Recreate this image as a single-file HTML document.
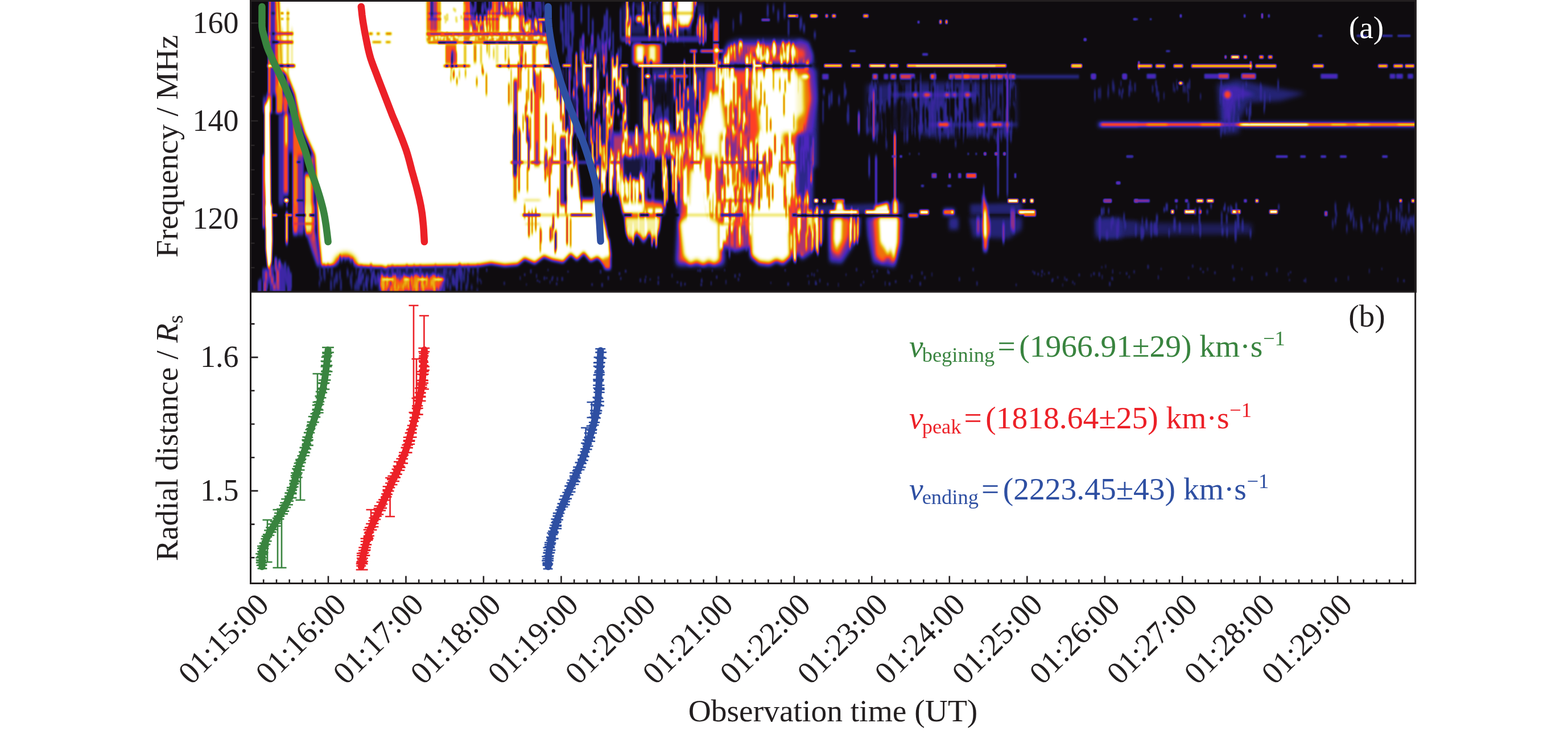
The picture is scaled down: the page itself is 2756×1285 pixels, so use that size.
<!DOCTYPE html>
<html lang="en"><head><meta charset="utf-8"><title>Radio burst spectrogram and radial distance</title>
<style>
html,body{margin:0;padding:0;background:#fff;}
body{width:2756px;height:1285px;overflow:hidden;}
svg{display:block;}
</style></head>
<body>
<svg width="2756" height="1285" viewBox="0 0 2756 1285">
<rect width="2756" height="1285" fill="#fff"/>
<defs>
<clipPath id="pc"><rect x="440.5" y="1.5" width="2047.2" height="511.5"/></clipPath>
<filter id="cm" filterUnits="userSpaceOnUse" x="400.5" y="-38.5" width="2127.2" height="591.5" color-interpolation-filters="sRGB"><feComponentTransfer><feFuncR type="table" tableValues="0.06 0.15 0.3 0.6 1.0 0.92 0.92 0.95 1.0"/><feFuncG type="table" tableValues="0.05 0.15 0.15 0.2 0.25 0.5 0.75 0.92 1.0"/><feFuncB type="table" tableValues="0.06 0.5 0.75 0.5 0.15 0.02 0.1 0.5 1.0"/></feComponentTransfer></filter>
<filter id="b0_8x1_5" filterUnits="userSpaceOnUse" x="400.5" y="-38.5" width="2127.2" height="591.5" color-interpolation-filters="sRGB"><feGaussianBlur stdDeviation="0.8 1.5"/></filter>
<filter id="b0_9x3" filterUnits="userSpaceOnUse" x="400.5" y="-38.5" width="2127.2" height="591.5" color-interpolation-filters="sRGB"><feGaussianBlur stdDeviation="0.9 3"/></filter>
<filter id="b1x1" filterUnits="userSpaceOnUse" x="400.5" y="-38.5" width="2127.2" height="591.5" color-interpolation-filters="sRGB"><feGaussianBlur stdDeviation="1 1"/></filter>
<filter id="b1x1_5" filterUnits="userSpaceOnUse" x="400.5" y="-38.5" width="2127.2" height="591.5" color-interpolation-filters="sRGB"><feGaussianBlur stdDeviation="1 1.5"/></filter>
<filter id="b1x2" filterUnits="userSpaceOnUse" x="400.5" y="-38.5" width="2127.2" height="591.5" color-interpolation-filters="sRGB"><feGaussianBlur stdDeviation="1 2"/></filter>
<filter id="b1x3" filterUnits="userSpaceOnUse" x="400.5" y="-38.5" width="2127.2" height="591.5" color-interpolation-filters="sRGB"><feGaussianBlur stdDeviation="1 3"/></filter>
<filter id="b1x4" filterUnits="userSpaceOnUse" x="400.5" y="-38.5" width="2127.2" height="591.5" color-interpolation-filters="sRGB"><feGaussianBlur stdDeviation="1 4"/></filter>
<filter id="b1_2x1_2" filterUnits="userSpaceOnUse" x="400.5" y="-38.5" width="2127.2" height="591.5" color-interpolation-filters="sRGB"><feGaussianBlur stdDeviation="1.2 1.2"/></filter>
<filter id="b1_2x3" filterUnits="userSpaceOnUse" x="400.5" y="-38.5" width="2127.2" height="591.5" color-interpolation-filters="sRGB"><feGaussianBlur stdDeviation="1.2 3"/></filter>
<filter id="b1_2x4" filterUnits="userSpaceOnUse" x="400.5" y="-38.5" width="2127.2" height="591.5" color-interpolation-filters="sRGB"><feGaussianBlur stdDeviation="1.2 4"/></filter>
<filter id="b1_3x3_5" filterUnits="userSpaceOnUse" x="400.5" y="-38.5" width="2127.2" height="591.5" color-interpolation-filters="sRGB"><feGaussianBlur stdDeviation="1.3 3.5"/></filter>
<filter id="b1_3x4" filterUnits="userSpaceOnUse" x="400.5" y="-38.5" width="2127.2" height="591.5" color-interpolation-filters="sRGB"><feGaussianBlur stdDeviation="1.3 4"/></filter>
<filter id="b1_5x1_5" filterUnits="userSpaceOnUse" x="400.5" y="-38.5" width="2127.2" height="591.5" color-interpolation-filters="sRGB"><feGaussianBlur stdDeviation="1.5 1.5"/></filter>
<filter id="b1_5x2" filterUnits="userSpaceOnUse" x="400.5" y="-38.5" width="2127.2" height="591.5" color-interpolation-filters="sRGB"><feGaussianBlur stdDeviation="1.5 2"/></filter>
<filter id="b1_5x3" filterUnits="userSpaceOnUse" x="400.5" y="-38.5" width="2127.2" height="591.5" color-interpolation-filters="sRGB"><feGaussianBlur stdDeviation="1.5 3"/></filter>
<filter id="b1_5x4" filterUnits="userSpaceOnUse" x="400.5" y="-38.5" width="2127.2" height="591.5" color-interpolation-filters="sRGB"><feGaussianBlur stdDeviation="1.5 4"/></filter>
<filter id="b2x1_2" filterUnits="userSpaceOnUse" x="400.5" y="-38.5" width="2127.2" height="591.5" color-interpolation-filters="sRGB"><feGaussianBlur stdDeviation="2 1.2"/></filter>
<filter id="b2x1_3" filterUnits="userSpaceOnUse" x="400.5" y="-38.5" width="2127.2" height="591.5" color-interpolation-filters="sRGB"><feGaussianBlur stdDeviation="2 1.3"/></filter>
<filter id="b2x1_5" filterUnits="userSpaceOnUse" x="400.5" y="-38.5" width="2127.2" height="591.5" color-interpolation-filters="sRGB"><feGaussianBlur stdDeviation="2 1.5"/></filter>
<filter id="b2x2" filterUnits="userSpaceOnUse" x="400.5" y="-38.5" width="2127.2" height="591.5" color-interpolation-filters="sRGB"><feGaussianBlur stdDeviation="2 2"/></filter>
<filter id="b2x3" filterUnits="userSpaceOnUse" x="400.5" y="-38.5" width="2127.2" height="591.5" color-interpolation-filters="sRGB"><feGaussianBlur stdDeviation="2 3"/></filter>
<filter id="b2x3_5" filterUnits="userSpaceOnUse" x="400.5" y="-38.5" width="2127.2" height="591.5" color-interpolation-filters="sRGB"><feGaussianBlur stdDeviation="2 3.5"/></filter>
<filter id="b2x4" filterUnits="userSpaceOnUse" x="400.5" y="-38.5" width="2127.2" height="591.5" color-interpolation-filters="sRGB"><feGaussianBlur stdDeviation="2 4"/></filter>
<filter id="b2x5" filterUnits="userSpaceOnUse" x="400.5" y="-38.5" width="2127.2" height="591.5" color-interpolation-filters="sRGB"><feGaussianBlur stdDeviation="2 5"/></filter>
<filter id="b2_5x3" filterUnits="userSpaceOnUse" x="400.5" y="-38.5" width="2127.2" height="591.5" color-interpolation-filters="sRGB"><feGaussianBlur stdDeviation="2.5 3"/></filter>
<filter id="b3x3" filterUnits="userSpaceOnUse" x="400.5" y="-38.5" width="2127.2" height="591.5" color-interpolation-filters="sRGB"><feGaussianBlur stdDeviation="3 3"/></filter>
<filter id="b3x4" filterUnits="userSpaceOnUse" x="400.5" y="-38.5" width="2127.2" height="591.5" color-interpolation-filters="sRGB"><feGaussianBlur stdDeviation="3 4"/></filter>
<filter id="b3x5" filterUnits="userSpaceOnUse" x="400.5" y="-38.5" width="2127.2" height="591.5" color-interpolation-filters="sRGB"><feGaussianBlur stdDeviation="3 5"/></filter>
<filter id="b4x4" filterUnits="userSpaceOnUse" x="400.5" y="-38.5" width="2127.2" height="591.5" color-interpolation-filters="sRGB"><feGaussianBlur stdDeviation="4 4"/></filter>
<filter id="b4x5" filterUnits="userSpaceOnUse" x="400.5" y="-38.5" width="2127.2" height="591.5" color-interpolation-filters="sRGB"><feGaussianBlur stdDeviation="4 5"/></filter>
<filter id="b4x6" filterUnits="userSpaceOnUse" x="400.5" y="-38.5" width="2127.2" height="591.5" color-interpolation-filters="sRGB"><feGaussianBlur stdDeviation="4 6"/></filter>
<filter id="b4x7" filterUnits="userSpaceOnUse" x="400.5" y="-38.5" width="2127.2" height="591.5" color-interpolation-filters="sRGB"><feGaussianBlur stdDeviation="4 7"/></filter>
<filter id="b6x8" filterUnits="userSpaceOnUse" x="400.5" y="-38.5" width="2127.2" height="591.5" color-interpolation-filters="sRGB"><feGaussianBlur stdDeviation="6 8"/></filter>
</defs>
<g clip-path="url(#pc)"><g filter="url(#cm)">
<rect x="400.5" y="-38.5" width="2127.2" height="591.5" fill="#000"/>
<g filter="url(#b2x3_5)">
<polygon points="488.5,-30 750,-30 752,72 845,78 961,78 965,112 975,125 985,140 1000,186 1019,233 1035,280 1049,333 1060,380 1072,430 1073,466 1062,462 1050,452 1038,458 1026,444 1014,456 1003,446 990,460 970,456 956,450 940,462 922,454 910,464 887,466 863,462 840,466 683,469 678,473 672,469 633,467 590,466 565,467 560,415 555,300 553,273 535,233 525,200 518,166 505,133 494,120 492,60" fill="#ffffff"/>
</g>
<g filter="url(#b4x7)">
<ellipse cx="606.9" cy="468.7" rx="19.4" ry="18.6" fill="#000000"/>
</g>
<g filter="url(#b1_2x3)">
<path d="M602.8 454.6h2.2v14.6h-2.2zM596.9 449.6h1.9v19.7h-1.9zM597.3 457.6h1.6v14.5h-1.6zM608.3 458.1h2.8v13.1h-2.8zM611.8 453.9h1.8v18.2h-1.8zM618.4 456.2h1.8v17.4h-1.8z" fill="#000000"/>
</g>
<g filter="url(#b0_9x3)">
<polygon points="484.8,-10 488.1,-10 495.3,116.6 495.3,200 488.6,200 488.6,116.6" fill="#cccccc"/>
<polygon points="482.6,-10 485,-10 488.3,116.6 488.3,200 483.3,200 483.3,116.6" fill="#808080"/>
<polygon points="476.6,-10 482.6,-10 483.3,116.6 483.3,200 476,200 476,116.6" fill="#383838"/>
<polygon points="472.8,-10 476.1,-10 475.6,116.6 475.6,166.5 471,166.5 471,116.6" fill="#949494"/>
</g>
<g filter="url(#b1_5x4)">
<rect x="504.3" y="20" width="3" height="163.2" fill="#a6a6a6" fill-opacity="0.80"/>
<rect x="494.6" y="50" width="2.3" height="133.2" fill="#b2b2b2" fill-opacity="0.70"/>
<rect x="512.1" y="50" width="2.3" height="66.6" fill="#bfbfbf" fill-opacity="0.60"/>
<rect x="470.8" y="166.5" width="19.2" height="33.5" fill="#000000"/>
<rect x="462.5" y="171.5" width="5" height="28.5" fill="#404040"/>
<rect x="469.1" y="166.5" width="8.3" height="33.5" fill="#999999"/>
<rect x="478.6" y="176.5" width="6" height="23.5" fill="#000000"/>
<rect x="485.8" y="149.9" width="10" height="50.1" fill="#a6a6a6"/>
<rect x="497.5" y="166.5" width="8.3" height="33.5" fill="#808080"/>
</g>
<g filter="url(#b1_5x1_5)">
<rect x="472.5" y="56.6" width="42.5" height="5" fill="#595959"/>
<rect x="472.5" y="71.6" width="42.5" height="5" fill="#595959"/>
<rect x="477.5" y="56.6" width="5.8" height="5" fill="#000000"/>
<rect x="477.5" y="71.6" width="12.5" height="5" fill="#000000"/>
<rect x="477" y="20.8" width="6" height="5" fill="#0d0d0d"/>
</g>
<g filter="url(#b1x1)">
<path d="M493.3 21.3h5v4h-5zM504.1 21.3h4.2v4h-4.2z" fill="#999999"/>
<path d="M493.3 31.3h5v4h-5zM504.1 31.3h4.2v4h-4.2z" fill="#b2b2b2"/>
</g>
<g filter="url(#b1_5x1_5)">
<rect x="470.8" y="113.4" width="16.7" height="4.7" fill="#ffffff"/>
<rect x="488.3" y="113.2" width="30" height="5" fill="#333333"/>
</g>
<g filter="url(#b1x1)">
<path d="M491.6 114.2h6.7v3h-6.7zM504.1 114.2h5v3h-5z" fill="#000000"/>
</g>
<g filter="url(#b1_5x3)">
<rect x="440" y="200" width="74.9" height="200" fill="#000000"/>
</g>
<g filter="url(#b1x3)">
<rect x="461.8" y="273.3" width="3" height="126.7" fill="#8c8c8c"/>
</g>
<g filter="url(#b1_2x3)">
<polygon points="465,185 474.1,171.7 476.6,400 467.5,400 465,316.6" fill="#ffffff"/>
</g>
<g filter="url(#b1_5x4)">
<rect x="490" y="200" width="8.3" height="200" fill="#333333"/>
<rect x="498.3" y="200" width="8.3" height="141.5" fill="#808080"/>
<rect x="501.4" y="200" width="3.7" height="55" fill="#f2f2f2"/>
<rect x="507.4" y="200" width="6.7" height="66.6" fill="#404040"/>
<rect x="514.9" y="273.3" width="8.3" height="126.7" fill="#9e9e9e"/>
<rect x="523.3" y="273.3" width="10" height="126.7" fill="#4c4c4c"/>
<rect x="535.8" y="306.6" width="11.7" height="93.4" fill="#d9d9d9"/>
<rect x="546.6" y="273.3" width="5" height="126.7" fill="#999999" fill-opacity="0.80"/>
<polygon points="514.9,200 526.6,200 533.3,273.3 514.9,273.3" fill="#b2b2b2" fill-opacity="0.80"/>
</g>
<g filter="url(#b1_2x1_2)">
<ellipse cx="503.3" cy="352.4" rx="3.7" ry="3.7" fill="#ffffff"/>
</g>
<g filter="url(#b1_2x3)">
<rect x="503.1" y="354.9" width="2" height="45.1" fill="#e6e6e6"/>
</g>
<g filter="url(#b1_2x1_2)">
<path d="M519.9 375.9h18.3v4.5h-18.3zM543.2 375.9h10v4.5h-10z" fill="#000000"/>
<path d="M478.3 376.2h8.3v4h-8.3z" fill="#999999"/>
<path d="M521.6 350.4h11.7v4h-11.7z" fill="#0d0d0d"/>
<path d="M521.6 282.9h6.7v4h-6.7z" fill="#0d0d0d"/>
</g>
<g filter="url(#b2x4)">
<polygon points="478.8,360 514.5,360 514.5,411.2 528.5,411.2 540.9,428.3 551.8,447 560.3,467.1 478.8,473.4" fill="#000000"/>
</g>
<g filter="url(#b1_2x3)">
<polygon points="466.4,360 478,360 478.8,422.1 477.3,460.9 473.4,474.9 470.3,468.7 467.2,437.6" fill="#ffffff"/>
</g>
<g filter="url(#b1_2x4)">
<rect x="502.3" y="375.5" width="3.4" height="51.2" fill="#f2f2f2"/>
</g>
<g filter="url(#b1_5x4)">
<rect x="515.3" y="360" width="7.8" height="51.2" fill="#8c8c8c"/>
<rect x="523.9" y="360" width="9.3" height="51.2" fill="#4c4c4c"/>
<rect x="537" y="360" width="10.9" height="51.2" fill="#e0e0e0"/>
<rect x="548.7" y="360" width="4.7" height="62.1" fill="#999999" fill-opacity="0.80"/>
</g>
<g filter="url(#b2x4)">
<polygon points="539.4,411.2 554.9,411.2 562.7,467.1 558,467.1 548.7,440.7" fill="#808080" fill-opacity="0.80"/>
</g>
<g filter="url(#b1_2x1_2)">
<path d="M519.2 376.1h17.1v4.5h-17.1zM544 376.1h9.3v4.5h-9.3z" fill="#000000"/>
<path d="M478.8 376.3h7.8v4h-7.8zM502.1 376.3h10.9v4h-10.9z" fill="#b2b2b2"/>
</g>
<g filter="url(#b1_5x1_5)">
<rect x="516.1" y="391.4" width="37.3" height="4" fill="#666666" fill-opacity="0.70"/>
</g>
<g filter="url(#b0_9x3)">
<path d="M468 482.6h3.2v25.1h-3.2zM491.5 461.9h2v30.9h-2zM468.2 472.8h5.2v21.8h-5.2zM502.9 485.8h4v13.8h-4zM491.2 493h3.7v28.5h-3.7zM492.9 464.9h4.4v24.8h-4.4zM504.5 476.5h4.3v32h-4.3zM496 494.2h3.2v30h-3.2zM479.4 503.6h4.8v12.4h-4.8zM461 472.5h5.1v20.9h-5.1zM490.7 476.3h3.6v19.6h-3.6zM474.3 480.4h3.8v32.6h-3.8zM493.4 492.1h4.7v34.8h-4.7zM492.8 463.9h4.7v34.1h-4.7zM506.8 488.5h4.3v15.3h-4.3zM503.2 490.5h2.9v11.6h-2.9zM504.8 496.8h2.2v30h-2.2zM478.3 465.9h2.9v29.2h-2.9zM505.1 471h3.9v11.1h-3.9zM495.5 470h4.8v34.5h-4.8zM483.9 506.2h3v11.9h-3zM465.2 483.2h3.9v13.9h-3.9zM456.5 490.3h3v34h-3zM506.7 477.5h3.4v23h-3.4zM491.6 484.4h3.8v25.5h-3.8zM509.4 479.8h3.4v28h-3.4zM467 474.6h5.1v23h-5.1zM479 483.8h2v25.4h-2zM490.8 466.3h4v21.7h-4zM493.5 473.8h4.2v28.5h-4.2zM494 500.1h2.8v21.4h-2.8zM488.9 477.9h3.1v17.8h-3.1zM475.8 487.4h2.9v19.4h-2.9zM499.2 461.7h3.8v28.4h-3.8zM471.5 475.2h4.6v16h-4.6zM464.5 484.9h4.2v12.5h-4.2zM472.2 476.9h4.7v21h-4.7zM504.5 468.1h3v26.3h-3zM506.4 485.2h2.7v13h-2.7zM484.5 466.5h4.6v31h-4.6zM464.1 472.3h4.6v26h-4.6zM501.9 479.1h2.4v17.3h-2.4zM500.8 474.8h3.1v20.4h-3.1zM477.8 483.2h4.9v13.9h-4.9zM453.4 492.7h4.8v34.7h-4.8zM478.7 502.5h5v15.6h-5zM497.5 494.6h4.1v23h-4.1zM471.2 481.8h2.7v11.7h-2.7zM488 480h4.6v11.1h-4.6zM506.4 484.6h5v32.4h-5zM507.6 482.1h2v28.6h-2z" fill="#404040" fill-opacity="0.80"/>
<path d="M485.9 493.2h5.3v14.4h-5.3zM462.9 494.8h5.5v26.1h-5.5zM482.8 453.3h3.9v22.5h-3.9zM479.7 497.7h5.6v11.7h-5.6zM476.1 486h4.5v13.6h-4.5zM486.8 496.2h4.6v16h-4.6zM485.4 473.5h5.6v27h-5.6zM472.8 468.3h4.8v18.6h-4.8zM465.6 476.3h4.4v16.9h-4.4zM489 457.7h4.2v14.1h-4.2z" fill="#808080" fill-opacity="0.80"/>
<path d="M625.1 491.4h3.6v19.2h-3.6zM638.2 502.5h2.1v12.5h-2.1zM658.8 493.1h3.8v7.6h-3.8zM609.1 472.4h3.1v14h-3.1zM561.2 468.7h2.6v18.8h-2.6zM640.2 471.7h3.6v7.9h-3.6zM625.3 465.1h2v18.2h-2zM581.3 469h4v18.2h-4zM616.8 488.6h2.4v19.2h-2.4zM654.1 477.5h2.7v8.3h-2.7zM575.2 464.3h2.6v14.4h-2.6zM560.1 493h2.7v10.3h-2.7zM646.2 483.2h2.6v12.7h-2.6zM633.5 468h4v6.3h-4zM639.3 496.9h2v17h-2zM598.8 490.5h2v6.7h-2zM579.9 492h3.9v19.2h-3.9zM596 475.7h3v16.9h-3zM644.3 496.5h2.1v19.2h-2.1zM569.1 474.1h3.2v18.9h-3.2zM617.4 478h2.6v8.5h-2.6zM567.7 465.2h3.4v20h-3.4zM663.9 487.2h2.8v9.3h-2.8zM622.4 498.7h2.9v11.9h-2.9zM562.7 486.2h3.7v7.8h-3.7zM626.6 496.9h2.2v12.1h-2.2zM590.2 479.4h4v17.9h-4zM662.7 480.3h3v16.2h-3zM610.3 477.3h2.8v8.1h-2.8zM661 490.6h3v10.7h-3zM568.7 471.5h3.6v18.1h-3.6zM597.5 495h3.5v15.7h-3.5zM629.9 493.8h2.7v15.9h-2.7zM589 482h3.5v15.7h-3.5zM628.7 487.1h2v13.7h-2zM586.1 489.2h2.9v17.4h-2.9zM628.1 495.9h2.7v15h-2.7zM637.7 495.8h2.7v17.8h-2.7zM651 488.9h4v19.4h-4zM614.7 482.9h2.3v17.7h-2.3z" fill="#333333" fill-opacity="0.60"/>
<path d="M657.8 488.7h3v11.1h-3zM629.5 480.7h2.9v17.1h-2.9zM643 483.8h2.5v17.6h-2.5zM655.5 473.5h3.1v16.2h-3.1zM636.1 480.3h3.6v11.2h-3.6zM657.8 484h3.7v12h-3.7zM632.5 486.9h3.6v13.3h-3.6zM632.7 469.1h3.3v11.5h-3.3zM663.8 479h2.4v15.9h-2.4zM642 490.6h3.8v14.2h-3.8zM652.2 480.5h3.6v19.7h-3.6zM630.4 474.1h3.2v11.7h-3.2zM650.2 464.3h3.8v14.3h-3.8zM633.9 484.1h2.6v10.4h-2.6z" fill="#404040" fill-opacity="0.70"/>
</g>
<g filter="url(#b3x4)">
<polygon points="666.7,471.8 797.1,471 797.1,487.3 781.6,512.2 666.7,512.2" fill="#1a1a1a" fill-opacity="0.70"/>
<polygon points="666.7,487.3 781.6,487.3 773.9,513 669.8,513" fill="#8c8c8c"/>
</g>
<g filter="url(#b0_9x3)">
<path d="M702.2 502.4h2.3v16.5h-2.3zM678.5 476.5h4v10.5h-4zM768.9 483.4h2.9v13.9h-2.9zM696.7 499.9h2.2v10.8h-2.2zM668.5 473.2h2.8v18.8h-2.8zM726.7 466.4h2.5v19.9h-2.5zM675.5 488.9h2.8v15.9h-2.8zM719.9 491.8h3v15.8h-3zM687.7 467.5h3.9v13.9h-3.9zM696.4 501.6h3.2v16.7h-3.2zM807.6 474.1h2.7v18.5h-2.7zM687.4 494.5h2.2v16.3h-2.2zM778.3 503.1h3.7v14h-3.7zM697.1 470.8h3.1v14.1h-3.1zM676.7 500.1h3v16.4h-3zM701.2 475.6h2v12.1h-2zM708.4 479.9h2.8v18h-2.8zM809.3 473.9h2.8v10h-2.8zM772.6 502.6h2.4v17.2h-2.4zM713.4 466.3h3.5v12.1h-3.5zM693 482.9h2.5v12.9h-2.5zM737.2 482.9h3.2v11.5h-3.2zM681 468.1h2.2v14.3h-2.2zM723.4 496.2h3v16.5h-3zM824 469.5h2v9.7h-2zM727.4 488.9h3.5v12.2h-3.5zM820.7 466.7h3.7v10.5h-3.7zM806.1 464.6h3.9v17.1h-3.9zM694 506.5h2.9v9h-2.9zM763 486.9h2.9v9.9h-2.9zM685 490.5h2.9v9.5h-2.9zM736 494.3h3.4v13.7h-3.4zM729.1 481.2h2.5v10.4h-2.5zM737 467.9h3.5v16.5h-3.5zM764.1 466.1h2.7v13.2h-2.7zM680 503.9h3.5v14h-3.5zM779.4 472.7h2.5v14.3h-2.5zM785.8 490.3h2v15.4h-2zM701.3 473.9h3.1v19.7h-3.1zM724.5 502.7h3.7v14.2h-3.7zM765.9 504.7h3.6v11.5h-3.6zM801.9 470h2.7v19.5h-2.7zM802.2 476.7h2.6v15.4h-2.6zM800.9 491.1h3.9v16.7h-3.9zM797.9 489.7h2.7v13.1h-2.7zM744 487.5h3.7v11.2h-3.7zM676.5 494.9h2.5v13h-2.5zM684.3 499.5h2.5v11.5h-2.5zM795.3 482.8h2.6v18.7h-2.6zM731.2 477.6h3.9v17.5h-3.9z" fill="#404040" fill-opacity="0.70"/>
<path d="M716.9 488.8h2.2v17.5h-2.2zM668.6 496.1h3.7v8.9h-3.7zM726.5 497.2h2v12.2h-2zM741.3 494.5h3.4v9.7h-3.4zM693.1 482.4h2.9v18.2h-2.9zM729.9 498.8h2.7v16.2h-2.7zM678.8 487.7h3.3v16h-3.3zM712.5 485.8h2.5v10.3h-2.5zM697.9 498.9h2.3v17.8h-2.3zM760 483.5h2.7v13.4h-2.7zM670.4 494.2h3.7v9.2h-3.7zM730.4 482.8h3.1v17.8h-3.1zM689.9 482.1h2.1v13.9h-2.1zM670.2 481.8h2.9v18.1h-2.9zM711.9 493.6h3.2v9h-3.2zM728.6 483.6h3.1v18.5h-3.1zM673.9 497h3.1v9.6h-3.1zM695.8 507.4h3.9v9.3h-3.9zM742 503.7h2.4v14.7h-2.4zM672.7 490.2h3.3v14.5h-3.3zM749.1 482.2h2.6v17.5h-2.6zM729.2 490h2.7v18.8h-2.7zM727.8 483.5h3.5v11.6h-3.5zM713.5 488.1h2.8v11.6h-2.8zM678 495.2h2.2v16.6h-2.2zM670.7 500.3h3.5v13.5h-3.5zM741.9 488.3h3.4v12.7h-3.4zM692.5 505.3h2.7v12.1h-2.7zM757.6 492.5h3.3v9.9h-3.3zM756.5 485.5h2v18.7h-2zM685.9 503.6h3.9v14.7h-3.9zM669.9 484.2h2.4v12.3h-2.4zM732.1 506.6h2.6v9.5h-2.6zM727.2 485h2.1v14.1h-2.1zM740.8 482.5h2.8v15.7h-2.8zM747.5 492.9h3.7v9.9h-3.7zM742.4 500.1h3.7v13.4h-3.7zM678.6 485.1h3v9.9h-3zM733.6 485.6h3.5v10.4h-3.5zM669.7 485.9h2.8v14.2h-2.8zM708.8 483.7h2.9v18.4h-2.9zM724.5 501.3h2v18.9h-2zM760.8 494.6h3v13.9h-3zM762.8 483.4h3.2v14h-3.2zM699.4 501.2h3.4v9.1h-3.4zM741.1 491.9h2.9v15h-2.9zM674 494.1h2.7v17.7h-2.7zM692.2 500.6h3.4v14.9h-3.4zM759.4 482.3h3.1v14.7h-3.1zM739.3 493.3h2.1v10.1h-2.1zM732 487.2h2.1v11.9h-2.1zM717.7 493.1h2v16.5h-2zM703.6 497.9h2v18.5h-2zM729.3 503h3.9v17.2h-3.9zM679.7 488.7h2.4v16.6h-2.4zM688.7 489.4h2.2v9.3h-2.2zM707.1 499.3h2.9v13.7h-2.9zM707 498.3h2.4v10.8h-2.4zM722.3 484.3h2.8v18.4h-2.8zM670.4 487h3.5v8.6h-3.5zM694.4 503.5h3.1v10.4h-3.1zM674.6 486.9h2.5v16.8h-2.5zM761.8 501.5h3.7v18.1h-3.7zM769.2 485.7h2.6v10.7h-2.6zM731.4 491.7h2.6v17.2h-2.6zM710.1 487.2h2.5v13.1h-2.5zM731.9 497.1h2.8v10h-2.8zM710.5 489.5h2.3v14h-2.3z" fill="#cccccc" fill-opacity="0.70"/>
</g>
<g filter="url(#b2x1_5)">
<path d="M671.4 488.7h20.2v5h-20.2zM710.2 488.7h9.3v5h-9.3zM735 488.7h15.5v5h-15.5zM763 488.7h15.5v5h-15.5z" fill="#d9d9d9"/>
</g>
<g filter="url(#b0_9x3)">
<path d="M813.4 484.7h3.2v8.9h-3.2zM827.4 500.9h3.3v8.2h-3.3zM810.8 475.4h2.5v19.3h-2.5zM837.9 466.4h3.7v14.4h-3.7zM802.2 477.1h3.3v12.4h-3.3zM820.5 490.1h2.3v16.7h-2.3zM837.4 507.6h3.2v6.6h-3.2zM779.9 472.1h3.9v10.2h-3.9zM801.7 501.2h2.6v13.7h-2.6zM805.5 465.5h3.2v17.8h-3.2zM789.3 477.6h2.8v6.5h-2.8zM809 498.1h3.3v13.5h-3.3zM830 472.2h3.1v11.2h-3.1zM814.9 472.7h3.6v7.4h-3.6zM789.4 498.4h3.9v12.1h-3.9zM804.5 474.4h2.5v14.6h-2.5zM790.6 472.5h2.9v8.3h-2.9zM817.7 498.6h3.6v12.7h-3.6zM800.9 481.4h2v16h-2zM799.9 478.6h2.2v12.3h-2.2zM813.8 479.9h3.7v15.4h-3.7zM793.8 486.4h3.8v13.3h-3.8zM815.3 468.1h3v12.5h-3zM803.4 482h3.2v13.5h-3.2zM808.8 468.7h2.9v19.6h-2.9zM804.9 466.5h2v13.5h-2zM783.5 469.4h2.2v12.4h-2.2zM838.1 485.3h2.9v12.1h-2.9zM809.1 480.6h3.5v18.6h-3.5zM820.7 479.5h3.3v18.7h-3.3z" fill="#333333" fill-opacity="0.60"/>
</g>
<g filter="url(#b2x3)">
<rect x="747.5" y="-25" width="216.1" height="149.9" fill="#ffffff"/>
</g>
<g filter="url(#b2x4)">
<polygon points="822.4,-25 866.1,-25 866.1,18.7 852.4,37.5 842.4,42.5 826.2,27.5" fill="#000000"/>
<polygon points="917.3,-25 977.3,-25 977.3,74.9 962.3,74.9 944.8,71.2 914.8,53.7 918.6,25" fill="#000000"/>
</g>
<g filter="url(#b1x3)">
<path d="M826.6 6.1h2v15.7h-2zM853.5 14.2h2.9v25.1h-2.9zM841.3 26.3h3.2v12.8h-3.2zM846 12h3.1v14.3h-3.1zM851.4 1.7h2.6v14.8h-2.6zM833.8 -2.8h3.5v23.3h-3.5zM826.6 14.6h2.8v20.8h-2.8zM853.7 21.8h3.4v15.9h-3.4zM827.2 9h3.1v27.9h-3.1zM858.8 -3h2.8v24.2h-2.8zM857.1 28.1h3v15h-3zM846.9 5.2h3.4v16.8h-3.4zM830.8 13.1h3.5v19.8h-3.5zM847.1 17.4h3v10.1h-3z" fill="#4c4c4c" fill-opacity="0.80"/>
<path d="M947.9 36h2.4v20h-2.4zM919 24.4h2.1v27.4h-2.1zM941.7 41.9h2.6v36.7h-2.6zM930.4 -5.3h2.5v32.9h-2.5zM945.8 -5.7h2.2v21.4h-2.2zM927.9 -12.8h3.1v36.7h-3.1zM948.3 -4.6h2.2v19.4h-2.2zM954.2 0.7h2v20.5h-2zM948.6 4.5h3.2v22.7h-3.2zM943.5 -2.9h2.2v36.6h-2.2zM957.3 10.6h2.3v16.4h-2.3zM925.1 13.7h2.6v29.3h-2.6zM931.3 1.3h2.6v23.7h-2.6zM940.5 -16.1h3.2v39.2h-3.2zM929.1 37.5h3.2v18.2h-3.2zM925 31.9h2v16.4h-2zM917.8 12.6h2.7v26.6h-2.7zM941.8 -10.3h1.9v29.1h-1.9zM923.9 -12.3h1.9v31.3h-1.9zM956.1 26h1.8v19.9h-1.8zM944.8 42.6h2.1v26.7h-2.1zM918.6 25.2h2.9v27.5h-2.9zM948.6 4.9h2.8v26.8h-2.8zM941.5 -7.8h2.5v30.5h-2.5zM927 27.1h1.8v25.4h-1.8zM954.9 27.7h2.5v36.8h-2.5zM945.1 18.4h2.3v36.8h-2.3zM940 26h2.3v18.8h-2.3zM924.9 26h2.6v34.4h-2.6zM935.2 17.8h2.6v21.3h-2.6z" fill="#404040" fill-opacity="0.80"/>
</g>
<g filter="url(#b1_2x3)">
<path d="M941.2 34.9h2.8v18.9h-2.8zM950.3 46.5h2.7v21.6h-2.7zM930.8 34.7h3v11.8h-3zM931.6 39.4h2v13h-2zM947.8 37.7h1.4v18.9h-1.4zM928.3 32h1.3v22.6h-1.3zM932.6 45.4h2.2v23h-2.2zM950.7 39.1h2.1v15h-2.1z" fill="#ffffff"/>
</g>
<g filter="url(#b1x3)">
<rect x="750" y="-12.5" width="6.2" height="68.7" fill="#999999"/>
<rect x="756.2" y="-12.5" width="5.6" height="45" fill="#1f1f1f"/>
<rect x="756.2" y="32.5" width="5.6" height="23.7" fill="#666666"/>
<rect x="761.8" y="-12.5" width="6.9" height="68.7" fill="#666666"/>
<rect x="768.7" y="-12.5" width="6.2" height="68.7" fill="#b2b2b2"/>
<rect x="814.9" y="-12.5" width="10" height="68.7" fill="#808080"/>
<rect x="815.6" y="5" width="2.5" height="20" fill="#bfbfbf"/>
</g>
<g filter="url(#b2x3)">
<polygon points="826.2,31.2 842.4,42.5 852.4,37.5 864.9,20 864.9,56.2 826.2,56.2" fill="#595959"/>
</g>
<g filter="url(#b1_2x3)">
<path d="M843.5 28.3h2.6v14.1h-2.6zM862.9 16.9h1.4v20.8h-1.4zM862.8 44.9h2.9v14h-2.9zM837 25.5h1.9v22.5h-1.9zM857.3 18.4h2.3v21.5h-2.3zM826.3 45.6h2.4v17.8h-2.4zM840.7 44.3h2.3v17.7h-2.3zM862 18.7h2.2v24h-2.2zM857.2 42.3h2.9v13.9h-2.9zM850.6 28.4h3.2v24.7h-3.2zM840.5 41.6h2v17.3h-2zM852.6 45.3h2.8v14.5h-2.8zM827.6 44.7h2.3v19.5h-2.3zM852 44.4h2.7v20h-2.7z" fill="#ffffff"/>
</g>
<g filter="url(#b1x3)">
<rect x="864.9" y="-12.5" width="12.5" height="68.7" fill="#808080"/>
<rect x="868.8" y="3.7" width="2.2" height="51.2" fill="#cccccc"/>
<rect x="877.4" y="-12.5" width="40" height="41.2" fill="#808080"/>
</g>
<g filter="url(#b1_2x3)">
<path d="M893.1 12.3h3.2v18.5h-3.2zM908.3 -1h4.4v18.7h-4.4zM880.1 9.5h2.4v24.6h-2.4zM902.5 -0.3h4.4v16.2h-4.4zM914.2 -7.4h2.6v20.1h-2.6zM887.4 1.3h2.1v19.9h-2.1zM909.4 1h3.6v18.9h-3.6zM903.7 20.2h3.3v16.7h-3.3zM894.2 8.8h4.5v24.8h-4.5zM887.3 -2.3h4.4v14.7h-4.4z" fill="#ffffff"/>
</g>
<g filter="url(#b1x3)">
<path d="M876 -1h3.5v22.9h-3.5zM912 20.3h2.4v15.4h-2.4zM897.3 8.7h2.4v21.6h-2.4zM886.7 12.3h3.3v16h-3.3zM892.8 12.5h3.1v15.9h-3.1zM913.6 4.9h2.6v13.3h-2.6zM913.6 11.5h3.3v18.6h-3.3zM883.4 -8.5h3.1v22.6h-3.1z" fill="#333333" fill-opacity="0.80"/>
<rect x="893.6" y="28.7" width="5" height="26.2" fill="#8c8c8c"/>
<rect x="912.3" y="28.7" width="5" height="26.2" fill="#808080"/>
</g>
<g filter="url(#b2x3)">
<polygon points="917.3,37.5 944.8,37.5 944.8,69.9 917.3,53.7" fill="#4c4c4c"/>
</g>
<g filter="url(#b1_2x3)">
<path d="M929.8 51.8h2.9v14.9h-2.9zM939.7 32.2h2v14.4h-2zM922.1 43.3h1.7v13.9h-1.7zM918.8 28.4h2.8v21h-2.8zM941.5 38.9h2.5v13.7h-2.5zM924.3 39.2h2.2v20.2h-2.2zM926.1 40.9h2.8v16.8h-2.8zM934.9 54.2h3v15h-3zM924.2 41.9h1.9v23.9h-1.9zM929.5 37.8h3v12.2h-3z" fill="#ffffff"/>
</g>
<g filter="url(#b1x1_5)">
<path d="M786 28.4h2.1v7.2h-2.1zM784.2 24.1h3.7v5h-3.7zM800.9 34h3.3v5.4h-3.3zM781.8 33.7h2.6v7.4h-2.6zM796.3 13.5h2.8v5.5h-2.8zM798.5 15h3.1v6.2h-3.1zM784.4 29.7h3v7.3h-3zM809.3 27.1h3.3v6.8h-3.3zM780.3 27.3h3.9v6.7h-3.9zM800.4 29h3.2v7.8h-3.2z" fill="#bfbfbf" fill-opacity="0.70"/>
</g>
<g filter="url(#b1_5x1_5)">
<rect x="752.5" y="22.1" width="22.5" height="3.2" fill="#000000" fill-opacity="0.45"/>
<rect x="752.5" y="32.1" width="22.5" height="3.2" fill="#000000" fill-opacity="0.45"/>
<rect x="814.9" y="22.1" width="102.4" height="3.2" fill="#000000" fill-opacity="0.40"/>
<rect x="814.9" y="32.1" width="62.4" height="3.2" fill="#000000" fill-opacity="0.40"/>
</g>
<g filter="url(#b1_5x2)">
<rect x="750" y="61.8" width="212.3" height="11.2" fill="#9e9e9e"/>
</g>
<g filter="url(#b1x1_5)">
<path d="M865.7 59.1h5.1v7.1h-5.1zM884.8 59.8h3.1v8.9h-3.1zM945.9 62.5h2.6v6.3h-2.6zM853.3 62.4h2v6.5h-2zM868.1 64.4h4.1v9h-4.1zM807.7 59.5h4.2v8.4h-4.2zM875.1 58.3h2.3v9.1h-2.3zM774.7 62.2h4.2v8.3h-4.2zM902.4 59h3.7v7.1h-3.7zM892.4 61.3h4.8v7.4h-4.8zM793.8 63.4h2.4v9.2h-2.4zM757.1 64.6h4.3v7.3h-4.3zM805.7 66.5h3.8v6.8h-3.8zM942.7 62.9h3.3v7.4h-3.3zM923.3 64h4.4v6.9h-4.4zM756.8 68h2.8v6.7h-2.8zM809 60.5h3.4v9.6h-3.4zM873 59.4h2.4v9.9h-2.4zM770.5 64.2h2.6v6.6h-2.6zM826.5 63.4h4.9v6.9h-4.9zM858.9 60.6h4.8v8.4h-4.8zM893.9 67.1h3v8h-3zM829.7 66.5h5.1v6.4h-5.1zM811.8 61.7h3.4v6.3h-3.4zM764.5 61.4h4v8.3h-4zM798.6 60h4.3v6.6h-4.3zM899.2 64.9h5v6.1h-5zM769.8 58.8h4.7v7.8h-4.7zM776.8 59.3h3.4v8.3h-3.4zM781.7 63.5h2.6v9.1h-2.6zM884.8 61.1h3.8v9h-3.8zM788.3 58.6h3.8v8.8h-3.8zM837.4 63.7h2.2v7.6h-2.2zM806.2 64.5h5.2v6.9h-5.2zM854.8 66h4.3v6.7h-4.3zM937.8 63.2h4.5v6.6h-4.5zM825.2 66.7h4.3v9.8h-4.3zM903.4 66.4h4.3v6.6h-4.3zM899.8 67.1h4.7v9.3h-4.7zM944.1 59.8h4.8v6.6h-4.8zM830.6 62h5v7.4h-5zM893 63.8h5v8.6h-5zM776 59.9h3.3v7.6h-3.3zM842.9 59.9h3.3v6.5h-3.3zM791.6 65.4h2.7v7.2h-2.7zM915.4 58.6h3.2v9h-3.2zM800.9 62.6h4.6v6.2h-4.6zM810.2 65.4h5v9.2h-5zM954.4 64.7h4.5v8.3h-4.5zM869.9 61.1h2.9v6.5h-2.9zM749.4 59.7h2.4v7.3h-2.4z" fill="#ffffff" fill-opacity="0.85"/>
</g>
<g filter="url(#b1_5x1_5)">
<rect x="750" y="57.2" width="212.3" height="5" fill="#4c4c4c"/>
</g>
<g filter="url(#b1x1)">
<path d="M830 58.6h3.4v3.8h-3.4zM784.4 56h2.5v3.1h-2.5zM777.4 57.5h2.9v4.7h-2.9zM775.3 55.9h2.2v3.8h-2.2zM778 58.4h3.1v5h-3.1zM808.7 59.5h2.6v4.6h-2.6zM927.3 57.3h2.6v3h-2.6zM885.4 58.2h3.2v3h-3.2zM752.8 58.3h2.5v5h-2.5zM891.5 56h3.5v4.6h-3.5zM863.6 59.5h3.7v4.6h-3.7zM924.6 58.8h3v3.7h-3zM861.1 57h2.6v4.4h-2.6zM926.3 56h2.1v4.2h-2.1zM869.1 56.3h3.5v3.3h-3.5zM957.8 58.6h3.9v4.2h-3.9zM880 57.3h3.7v4.5h-3.7zM752 57h3.2v4.7h-3.2zM862.2 57.1h3.4v3.3h-3.4zM754.5 59.5h2.3v3.3h-2.3zM795.2 58.3h2.8v4.2h-2.8zM927.4 55.3h2v4.4h-2zM904.3 59.4h2v4.5h-2zM933.2 60.2h2.6v3h-2.6zM872.9 58.6h2.2v4.7h-2.2zM774.6 59.4h3.4v4.8h-3.4zM845.5 56.1h3.6v3.6h-3.6z" fill="#8c8c8c" fill-opacity="0.80"/>
</g>
<g filter="url(#b1_5x1_5)">
<rect x="752.5" y="72.8" width="209.8" height="3.7" fill="#808080"/>
</g>
<g filter="url(#b1_2x1_2)">
<path d="M770 72.7h32.5v4h-32.5zM814.9 72.7h15v4h-15zM849.9 72.7h94.9v4h-94.9z" fill="#000000"/>
</g>
<g filter="url(#b1x3)">
<rect x="783.1" y="77.4" width="18.7" height="35" fill="#8c8c8c"/>
</g>
<g filter="url(#b1_2x3)">
<path d="M793.4 89.2h0.6v28.2h-0.6zM794.5 90.2h1.2v20.1h-1.2zM798.1 88.3h0.7v25.6h-0.7zM793.8 93.6h1.2v24.9h-1.2zM794.3 101.2h0.7v17.5h-0.7zM794.9 88.1h1.3v25.8h-1.3zM792.9 99.7h0.7v18.6h-0.7zM801.5 91h1v22.8h-1z" fill="#000000"/>
</g>
<g filter="url(#b1x3)">
<rect x="815.2" y="77.4" width="4.5" height="35" fill="#b2b2b2" fill-opacity="0.80"/>
<rect x="832.7" y="77.4" width="4.5" height="32.5" fill="#999999"/>
<rect x="843.9" y="77.4" width="3.2" height="35" fill="#b2b2b2" fill-opacity="0.80"/>
<rect x="871.1" y="77.4" width="5" height="35" fill="#cccccc" fill-opacity="0.60"/>
<rect x="913.6" y="77.4" width="6.2" height="35" fill="#999999"/>
<rect x="935.5" y="77.4" width="6.2" height="35" fill="#999999"/>
<rect x="892.4" y="77.4" width="2.5" height="35" fill="#bfbfbf" fill-opacity="0.70"/>
</g>
<g filter="url(#b1_2x3)">
<path d="M893.9 103.8h1.1v15.9h-1.1zM912.4 69.2h0.6v27.4h-0.6zM960.3 87.2h1v17h-1zM859.7 74.2h0.6v26.6h-0.6zM867.6 84.8h0.6v17.9h-0.6zM887.9 83.6h0.8v23.3h-0.8zM917.3 74.8h1v16.5h-1zM923 91.7h1.3v28.2h-1.3zM915.7 98h1.1v24.9h-1.1zM855.8 64.7h0.8v28.4h-0.8z" fill="#000000"/>
</g>
<g filter="url(#b1_5x1_5)">
<rect x="780" y="113.8" width="46.2" height="4.2" fill="#737373"/>
</g>
<g filter="url(#b1_2x1_2)">
<path d="M783.7 113.9h3.7v4h-3.7zM792.5 113.9h5v4h-5zM799.9 113.9h3.7v4h-3.7zM814.9 113.9h3.1v4h-3.1z" fill="#000000"/>
</g>
<g filter="url(#b1_5x1_5)">
<rect x="872.4" y="113.8" width="97.4" height="4.2" fill="#666666"/>
</g>
<g filter="url(#b1_2x1_2)">
<path d="M877.4 113.9h3.1v4h-3.1zM891.7 113.9h3.7v4h-3.7zM914.8 113.9h3.1v4h-3.1zM938.6 113.9h3.7v4h-3.7zM956.1 113.9h12.5v4h-12.5z" fill="#000000"/>
</g>
<g filter="url(#b1_2x3)">
<path d="M792.8 119.1h0.6v13h-0.6zM817.8 121.2h0.8v14.3h-0.8zM797.3 122.4h1v13.6h-1zM837.5 136.4h1.1v14.9h-1.1zM802.6 136.7h1.1v11.8h-1.1zM796.6 126.6h0.8v12.2h-0.8zM807.3 123.3h0.6v14.2h-0.6zM847.2 113.5h1.1v16.1h-1.1zM849 122.2h1v8.9h-1zM792.1 133.3h0.7v9.5h-0.7z" fill="#000000"/>
</g>
<g filter="url(#b1_5x1_5)">
<path d="M648.2 56.9h6.7v4.5h-6.7zM662.3 56.9h5v4.5h-5zM678.1 56.9h10v4.5h-10z" fill="#999999"/>
<path d="M654.8 72.1h15v4h-15zM678.1 72.1h8.3v4h-8.3z" fill="#a6a6a6"/>
</g>
<g filter="url(#b1_2x1_2)">
<path d="M946.1 32.5h12.8v4h-12.8z" fill="#d9d9d9"/>
</g>
<g filter="url(#b1_3x3_5)">
<rect x="902.5" y="139.9" width="7" height="151.5" fill="#4c4c4c"/>
<rect x="903.2" y="198.1" width="5.6" height="93.2" fill="#0d0d0d"/>
<rect x="939.1" y="130.5" width="9.3" height="160.8" fill="#808080"/>
</g>
<g filter="url(#b1_2x3)">
<path d="M998.7 238.9h1.2v53.6h-1.2zM1014.6 244.5h1.6v32.6h-1.6zM957.4 259.4h1v39.4h-1zM933.3 157.8h2v40.1h-2zM958.8 200.8h1.9v47.1h-1.9zM919 201.6h0.9v29.3h-0.9zM931.5 206.1h1.2v56.1h-1.2zM928.5 119.7h0.9v56.8h-0.9zM936.8 113.2h1.7v38.5h-1.7zM925.1 204.6h1.6v45.1h-1.6zM927 203.7h1.6v44.5h-1.6zM928.2 241.3h1.9v56h-1.9zM949.3 123.7h1.6v48.4h-1.6zM959.8 263.8h1.9v30.2h-1.9zM985 143.7h1.8v67.9h-1.8zM971.3 217h1v55h-1zM923 184.4h1.3v28.3h-1.3zM939.1 124.1h1.7v38.5h-1.7zM914.5 110.7h1.2v47.8h-1.2zM910.5 109.7h1.7v48.7h-1.7zM925.2 158.5h1.1v37.4h-1.1zM954.6 145.5h1.1v35.2h-1.1z" fill="#000000"/>
<path d="M994.8 187.9h2.1v42h-2.1zM1011.5 217h2.5v50.5h-2.5zM992.3 159.9h2.3v38.5h-2.3zM997.1 173.6h2.4v51.2h-2.4zM1000.8 204.6h1.8v31h-1.8zM988.9 201.7h2v28.6h-2zM1007.3 199.2h3v58.5h-3zM983.9 151.7h2.2v31h-2.2zM999.2 220.7h1.5v32.4h-1.5zM1015.9 224.4h3v46h-3zM992.9 195.6h2.9v35.8h-2.9zM1008.1 249.8h1.5v45.8h-1.5zM1005.3 239.4h2.5v34h-2.5zM975.1 115.8h1.5v40.6h-1.5zM978.8 125.5h2.1v49.8h-2.1zM1008.9 233.6h2.8v52.7h-2.8zM997.1 194.2h3.1v28.4h-3.1z" fill="#000000"/>
<path d="M898 121.5h0.6v60h-0.6zM854.4 130h1.1v37.1h-1.1zM893.8 147.1h1.3v36.2h-1.3z" fill="#000000"/>
</g>
<g filter="url(#b1_3x3_5)">
<rect x="901.8" y="235.3" width="7" height="74.6" fill="#1a1a1a"/>
<rect x="902.5" y="309.9" width="5.6" height="42" fill="#737373" fill-opacity="0.70"/>
</g>
<g filter="url(#b1_2x3)">
<path d="M1003.8 298.6h2v28.8h-2zM969.9 257.2h1.5v30.9h-1.5zM929 251.5h1.2v45.5h-1.2zM911.6 224.6h1.8v44h-1.8zM961.8 282.7h1.3v27.6h-1.3zM989.4 258.8h1.7v52.9h-1.7zM1008.6 247.1h1.8v41.6h-1.8zM968 276.4h1.3v28.9h-1.3zM957.7 272.7h1.6v45.1h-1.6zM975.3 234.2h1.1v39.6h-1.1zM993.1 240.3h1v29.4h-1zM913.1 230.2h1.6v61.9h-1.6zM943.2 249.1h1.2v38.7h-1.2zM989.1 267.3h1.2v29.8h-1.2zM989.4 276.5h1.9v35.7h-1.9zM965.1 276.9h1.6v67.5h-1.6zM926.6 293.1h1v43.7h-1zM911.5 267.9h1.7v68.8h-1.7zM991.7 278.3h1.5v69.5h-1.5zM985.7 245.6h2.1v42h-2.1zM929 228.9h1.5v33.8h-1.5zM1005.1 298.3h1.2v29.7h-1.2z" fill="#000000"/>
<path d="M1002.4 384h1.1v49.9h-1.1zM934.8 369.1h1v42.7h-1zM928.8 372.8h1.8v43h-1.8zM966.5 400h2.1v23.5h-2.1zM976.5 405.2h1.8v33.3h-1.8zM949.2 399.9h1v42.8h-1zM1019.4 319.6h1.3v29.2h-1.3zM979.7 333.3h2v47.7h-2zM950.7 403.5h1v22.9h-1zM995.8 379.6h1.9v49.8h-1.9zM1021.3 322.2h1.8v47.7h-1.8zM921.6 358.9h1.1v24.3h-1.1zM971.5 378.4h2.1v23.9h-2.1zM975 408.2h1.8v36h-1.8zM941 366.4h1.2v39.3h-1.2zM993.7 343.7h1.9v32.1h-1.9zM970.5 395.3h1.2v25.6h-1.2z" fill="#000000"/>
</g>
<g filter="url(#b1_3x3_5)">
<rect x="984.5" y="240" width="9.3" height="121.2" fill="#404040"/>
<rect x="991.7" y="263.3" width="4.2" height="93.2" fill="#000000"/>
</g>
<g filter="url(#b2x4)">
<polygon points="1011.3,235.3 1026.5,235.3 1033.5,263.3 1045.1,309.9 1045.1,351.9 1021.8,351.9 1014.8,298.3" fill="#000000"/>
</g>
<g filter="url(#b1_2x3)">
<path d="M1068.9 241.4h2.8v35.5h-2.8zM1064.5 249.7h2.5v46.5h-2.5zM1048 265.8h2.9v47.3h-2.9zM1065 251.1h2.2v31.5h-2.2zM1057.3 233.4h3.1v34.7h-3.1zM1061 264.5h2.1v56.2h-2.1zM1062.2 302.5h1.6v30.6h-1.6zM1060.6 223h2.2v43.3h-2.2zM1057 283.2h3.1v38h-3.1zM1061.7 297.4h2.9v39.9h-2.9zM1059 288.2h2.5v51.9h-2.5zM1059.8 239.1h2.4v42.9h-2.4zM1063.3 258.8h2.4v51.1h-2.4zM1052.8 255.1h1.5v39.8h-1.5zM1049.5 282.7h1.6v37.1h-1.6zM1056 314.4h1.9v42.8h-1.9zM1060.2 285.9h3.1v45.5h-3.1zM1048.5 293.9h3.1v41.3h-3.1zM1059.8 247.3h2.6v33.9h-2.6zM1062.4 241.4h2.4v56.9h-2.4zM1070.6 292.6h1.7v45.1h-1.7zM1056.4 262.1h2.8v59.5h-2.8zM1050.3 270.8h3.2v41.8h-3.2z" fill="#ffffff"/>
</g>
<g filter="url(#b1_5x1_5)">
<path d="M898.3 283.5h21v4h-21zM933.2 283.5h16.3v4h-16.3zM970.5 283.5h14v4h-14zM989.2 283.5h14v4h-14zM1040.5 283.5h32.6v4h-32.6z" fill="#333333"/>
</g>
<g filter="url(#b2x2)">
<rect x="898.3" y="283.8" width="174.8" height="3.3" fill="#8c8c8c" fill-opacity="0.60"/>
</g>
<g filter="url(#b1_2x1_2)">
<path d="M919.3 375.7h30.3v4.5h-30.3zM1003.2 375.7h37.3v4.5h-37.3z" fill="#0d0d0d"/>
</g>
<g filter="url(#b2x2)">
<rect x="916.9" y="376.1" width="128.2" height="3.7" fill="#999999" fill-opacity="0.60"/>
<rect x="923.9" y="392.7" width="25.6" height="2.3" fill="#999999" fill-opacity="0.60"/>
<rect x="921.6" y="350.7" width="28" height="2.3" fill="#999999" fill-opacity="0.60"/>
</g>
<g filter="url(#b0_9x3)">
<path d="M984.4 9.9h3v47.4h-3zM998.1 8.4h2.6v50.3h-2.6zM998.5 77.9h3.7v25.5h-3.7zM1040.4 34.1h3v59.9h-3zM992.3 7.1h4.4v36.1h-4.4zM1004.4 24.2h2.9v58.2h-2.9zM1005.3 22.1h3.5v41.9h-3.5zM1085.4 85.5h2.9v28.2h-2.9zM1073.2 88.5h2v49.4h-2zM1076.4 56.6h2.5v51.9h-2.5zM1061 26.5h3.6v28.8h-3.6zM987.6 35.9h2.8v35.8h-2.8zM1051.6 69.8h4.4v59.1h-4.4zM1089.7 81.6h2.7v27.1h-2.7zM1049.6 61.1h3.7v23.7h-3.7zM1003.4 83.1h3.5v47.8h-3.5zM992.6 36.6h4.3v46h-4.3zM1089.3 15.2h3.1v52h-3.1zM1030.5 82.7h3.4v24.7h-3.4zM994 98.8h2.3v27.8h-2.3zM1018.4 68.7h4.2v39h-4.2zM1036.6 77.5h2.7v34.9h-2.7zM1049.2 68.9h2v24.5h-2zM997.4 59.8h3.8v58.9h-3.8zM1064.9 16.8h3.9v59.4h-3.9zM1020.4 8.7h2.9v31.3h-2.9zM1002.3 0.1h2.3v54.6h-2.3zM988.6 65.3h2.5v27.7h-2.5zM1071.3 31.4h2.4v38.2h-2.4zM1056.9 53h4.2v36.1h-4.2zM1039.1 64.2h3.2v48.7h-3.2zM1033.5 9.8h2.3v51.3h-2.3zM1062.5 87.4h3.7v43.2h-3.7zM1001.2 82.4h2.3v37h-2.3zM998.2 39.4h2.7v37h-2.7zM1059.5 47h2.6v51.2h-2.6zM1062.3 76.2h2v44.6h-2z" fill="#383838" fill-opacity="0.80"/>
<path d="M1024.5 60.1h2.5v37.5h-2.5zM1046.2 86.3h2.1v27.7h-2.1zM1063.2 73.3h3.8v37h-3.8zM1039.1 60.9h3.4v18.2h-3.4zM1020.5 82.6h3.6v35.9h-3.6zM1069.7 69.4h2.1v18h-2.1zM1070.8 66.9h2.3v15.5h-2.3zM1023 62h2.6v19.1h-2.6zM1036.6 91.2h2.3v35.4h-2.3zM1058.1 76.7h3.1v34.3h-3.1z" fill="#666666" fill-opacity="0.80"/>
</g>
<g filter="url(#b3x5)">
<polygon points="1094.1,7 1240.9,7 1240.9,60.6 1094.1,60.6" fill="#1a1a1a"/>
</g>
<g filter="url(#b1_2x3)">
<path d="M1177.4 28.6h2.9v29.7h-2.9zM1189.1 42.3h3v26.5h-3zM1189.5 15.8h2.3v53.8h-2.3zM1171.2 13.6h3.1v42.2h-3.1zM1138.8 17.5h2.2v21.8h-2.2zM1183.2 23.5h2.1v49.6h-2.1zM1229.2 27.8h2.6v24.1h-2.6zM1103.6 45.9h1.8v27.5h-1.8zM1225.2 33.3h1.5v31.3h-1.5zM1130.8 7.5h1.3v38.4h-1.3zM1139.6 20.4h1.7v23.9h-1.7zM1099.8 34.9h2.7v39.6h-2.7zM1113.5 5.4h1.5v31.1h-1.5zM1103.9 13.5h1.7v26.7h-1.7zM1189.8 19.1h2.2v32.5h-2.2zM1173.4 39.4h1.9v22.5h-1.9zM1164.6 19.7h2.8v23.9h-2.8zM1221.4 -3.1h2.3v35.5h-2.3zM1140.7 42.6h2.6v25.7h-2.6zM1167.3 31h1.4v23.1h-1.4zM1182.3 30.6h2.2v34.8h-2.2zM1168.2 -0.7h3v53.7h-3zM1165 -9.1h2.1v48.1h-2.1zM1142.5 -3.5h1.7v44.9h-1.7zM1185.1 4h2.5v46.6h-2.5zM1235 28.6h2.1v48.3h-2.1zM1228.8 34.2h2.7v40.5h-2.7zM1169.1 31h2.5v45.2h-2.5zM1128.4 -1.9h1.8v40.4h-1.8zM1178.4 -3.4h1.7v53.3h-1.7zM1105.4 37.1h2.8v40.1h-2.8zM1239.6 19.2h1.3v52.9h-1.3zM1154.7 44.3h2.8v24.8h-2.8zM1100.8 -8.9h2.8v47.7h-2.8zM1128.4 -4.7h2v48h-2zM1201.9 31.2h3.1v46.4h-3.1zM1216.5 -10.3h1.3v50.2h-1.3zM1185.1 13.4h1.5v31.6h-1.5zM1144.3 23.6h2.2v27.1h-2.2zM1107.5 11.7h1.5v23.5h-1.5zM1154.9 0.5h2.8v39.1h-2.8zM1162 33.4h1.7v20.8h-1.7zM1106.8 15.3h2v28.8h-2zM1140 35h1.3v35.7h-1.3z" fill="#ffffff"/>
<path d="M1170.8 12.7h4.1v51.5h-4.1zM1221.7 9.1h4.4v34.8h-4.4zM1139 -0.6h3.3v25.4h-3.3zM1134.1 16.6h4v46.3h-4zM1107.6 -9.4h2.6v39.3h-2.6zM1215.5 29.6h4.4v40.6h-4.4zM1187 9h2.8v27.2h-2.8zM1172 22.7h3.4v33.7h-3.4zM1155.6 0.1h4.1v40.3h-4.1zM1203.3 38.5h2.7v24.1h-2.7zM1135.3 38.5h4v34.2h-4zM1206.5 13.7h4.2v23.2h-4.2zM1202 41.5h3v36.2h-3zM1114 6.6h2.6v30.4h-2.6zM1105.2 3.9h2.2v38.4h-2.2zM1152.9 3.8h4.4v30.8h-4.4zM1171.3 28.1h3.9v53.8h-3.9zM1183.4 30.8h2.1v45.7h-2.1zM1143 1.2h4v46h-4zM1144.5 0.1h2.7v52.7h-2.7zM1183.6 9.9h3.3v22h-3.3zM1133.1 8.9h4.5v50h-4.5zM1174.2 25.8h2.6v44.3h-2.6zM1238.2 -12h4.4v54.5h-4.4zM1147.3 38h4.5v25.2h-4.5zM1161.6 24.2h4v29.3h-4zM1203 21.9h4.2v45.7h-4.2zM1219.2 21.3h3.4v36.2h-3.4zM1153.6 14.9h3.2v33.7h-3.2zM1115.2 13h4.4v30.7h-4.4z" fill="#000000"/>
</g>
<g filter="url(#b2x4)">
<polygon points="1165.2,-9.3 1180.3,-9.3 1180.3,46.6 1166.3,46.6" fill="#ffffff"/>
<polygon points="1189.7,-9.3 1218.8,-9.3 1217.6,30.3 1210.6,46.6 1194.3,46.6 1189.7,28" fill="#ffffff"/>
</g>
<g filter="url(#b2x2)">
<rect x="1118.6" y="28" width="9.3" height="10.5" fill="#e6e6e6"/>
<rect x="1091.7" y="64.1" width="144.5" height="9.3" fill="#404040" fill-opacity="0.80"/>
<rect x="1108.1" y="22.1" width="116.6" height="2.3" fill="#000000" fill-opacity="0.50"/>
</g>
<g filter="url(#b2_5x3)">
<polygon points="1112.7,76.9 1161.7,76.9 1161.7,113.1 1112.7,113.1" fill="#8c8c8c"/>
</g>
<g filter="url(#b2x3)">
<rect x="1118.6" y="80.4" width="12.8" height="28" fill="#ffffff"/>
<rect x="1140.7" y="80.4" width="11.7" height="28" fill="#f2f2f2"/>
</g>
<g filter="url(#b1_2x1_2)">
<path d="M1126.7 72.6h35v4h-35z" fill="#000000"/>
</g>
<g filter="url(#b1_3x3_5)">
<rect x="1253.8" y="35" width="9.3" height="76.9" fill="#808080"/>
</g>
<g filter="url(#b1_5x1_5)">
<path d="M1213 87.2h11.7v5h-11.7zM1231.6 87.2h39.6v5h-39.6z" fill="#808080"/>
<ellipse cx="1259.6" cy="88.6" rx="4.2" ry="4.2" fill="#ffffff"/>
</g>
<g filter="url(#b1_2x1_2)">
<path d="M1252.6 72.6h18.6v4h-18.6z" fill="#000000"/>
</g>
<g filter="url(#b3x4)">
<polygon points="1278.2,74.6 1294.5,68.8 1411.1,68.8 1427.4,90.9 1432.1,114.2 1264.2,114.2" fill="#292929"/>
<polygon points="1275.9,86.2 1294.5,79.3 1408.8,79.3 1422.8,93.2 1425.1,109.6 1271.2,109.6" fill="#808080"/>
</g>
<g filter="url(#b1_2x3)">
<path d="M1353.1 87h3.8v27.6h-3.8zM1316.6 93.6h3.3v25.5h-3.3zM1382.5 96.1h2.5v18.6h-2.5zM1376.6 87.3h3.8v18.6h-3.8zM1378.2 79.1h1.9v24.2h-1.9zM1284.1 80.2h2.7v14.8h-2.7zM1299.1 76.7h4.1v13.5h-4.1zM1298.6 72.6h4.3v21.8h-4.3zM1391.7 97h3.1v19.1h-3.1zM1330.9 73.7h3.4v29.4h-3.4zM1346.5 87.5h4.2v26.9h-4.2zM1371 86.2h2.1v18.8h-2.1zM1395.7 84.6h3.6v16.7h-3.6zM1357.8 73.9h3.9v26.6h-3.9zM1279.7 84.1h2.1v29.1h-2.1zM1300.7 73.4h4.2v23.1h-4.2zM1392.2 77.2h3.8v17.3h-3.8zM1339.1 82.2h1.9v19h-1.9zM1349.6 89.9h3.3v15.1h-3.3zM1360.8 82.1h4.2v13.8h-4.2zM1385.2 74.6h3.3v18.3h-3.3zM1340.5 93.2h4v12.1h-4zM1400.8 86h2.1v24.5h-2.1zM1389.4 83.7h4.2v14.9h-4.2zM1339.9 79.1h4v17.5h-4zM1311.6 97h2.9v20.4h-2.9zM1374.3 74h4v24.4h-4zM1345.2 95.2h4.2v13.8h-4.2zM1410.6 82.9h3.9v24.2h-3.9zM1411.7 93.9h2.5v14.6h-2.5zM1332.9 77.3h2.4v21.8h-2.4zM1346.6 84.4h3.8v14.7h-3.8zM1338.2 79.1h3.4v27.6h-3.4zM1359.1 72.4h3.4v18.4h-3.4zM1335.7 83.1h2.4v26.3h-2.4zM1328.3 84.5h3.3v12.9h-3.3zM1322.4 97.5h2.1v19h-2.1zM1384.1 80.1h3.5v27.3h-3.5zM1394.7 86.4h2.7v12.2h-2.7zM1380.7 78h3.1v14.2h-3.1zM1381.7 82.1h2.1v22.5h-2.1zM1289.5 77.7h2.6v25.7h-2.6zM1360.9 77h2.7v20.1h-2.7zM1392.6 83.9h3.8v13.3h-3.8z" fill="#ffffff"/>
</g>
<g filter="url(#b0_9x3)">
<path d="M1322.3 92.5h3.8v28.5h-3.8zM1387.7 92.4h2v23.3h-2zM1311.5 89.3h2.8v22.1h-2.8zM1352.4 81.5h3.6v29.7h-3.6zM1324.7 92.7h3.7v19.1h-3.7zM1293.8 83.6h3.4v21.4h-3.4zM1302.7 85.7h2.6v28h-2.6zM1300.4 81.9h2.7v29.7h-2.7zM1296.2 94.8h2.8v18.7h-2.8zM1305.5 79.3h3.8v30h-3.8zM1408.4 86.7h2.4v21.1h-2.4zM1367.2 82.4h3.9v13.5h-3.9zM1309.9 80.2h2.3v13.1h-2.3zM1309.9 80.3h3.8v21.8h-3.8zM1364.5 79.4h2.3v22.1h-2.3zM1378.5 75.9h3.2v15.8h-3.2zM1373.6 83.4h2.2v14.5h-2.2zM1388 81.3h2.1v28.3h-2.1zM1315.9 80.1h2v17.4h-2zM1355.3 94.1h2.5v21h-2.5zM1288.1 89.8h2.5v18.8h-2.5zM1314.2 95.3h3.9v14.5h-3.9zM1339.6 70.2h3.4v28.3h-3.4z" fill="#4c4c4c" fill-opacity="0.80"/>
<path d="M1377.3 5.1h3.2v26.8h-3.2zM1406.6 30.5h3.3v17.4h-3.3zM1347.7 8.3h3.4v22h-3.4zM1300.3 23.1h3.5v18.9h-3.5zM1430.4 55.6h3.7v11.8h-3.7zM1261 16.1h2.7v24.1h-2.7zM1405.1 30.8h3.3v21.5h-3.3zM1253.3 30.6h2.4v18.3h-2.4zM1247.7 40.4h3.8v11.4h-3.8zM1358 8.5h2.7v13.2h-2.7zM1411.3 42.4h3.8v14.4h-3.8zM1384.5 34.1h3v28.3h-3zM1366.2 18h3.4v19.6h-3.4zM1287.8 34.7h2.1v19h-2.1z" fill="#2e2e2e" fill-opacity="0.80"/>
</g>
<g filter="url(#b1_2x1_2)">
<path d="M1385.5 26h14v4h-14zM1425.1 26h11.7v4h-11.7z" fill="#d9d9d9"/>
<path d="M1338.8 33h14v4h-14z" fill="#595959"/>
</g>
<g filter="url(#b4x6)">
<polygon points="984.5,121.2 1103.4,121.2 1103.4,293.7 1045.1,293.7 1017.2,209.8" fill="#1f1f1f"/>
</g>
<g filter="url(#b1_2x3)">
<path d="M1059.2 180.2h2.7v28h-2.7zM1066.3 168.7h2.5v32.7h-2.5zM1024.5 137.8h1.9v57.7h-1.9zM1052.6 134.8h2.5v48.8h-2.5zM1046.7 211.7h3.1v52.7h-3.1zM1089.4 116.9h2.8v38.2h-2.8zM1033.4 147.9h1.8v44.5h-1.8zM1065.5 131.2h2v35.8h-2zM1069.8 150.3h2.7v26.3h-2.7zM1084.7 163.6h3.1v60.8h-3.1zM1083.3 102h2.7v48.6h-2.7zM1088.9 184.8h2v65.7h-2zM1102 136.4h1.6v44.9h-1.6zM1061.5 124h2.4v49.4h-2.4zM1078.7 121.8h1.6v48.3h-1.6zM1072.6 202.7h2.7v36.9h-2.7zM1060.7 97.6h1.5v56.4h-1.5zM1062.9 134.8h1.8v43.8h-1.8zM1011.9 94.7h2.3v67.4h-2.3zM1056.3 139.9h2.5v59.8h-2.5zM1014.2 168.5h2.5v44.8h-2.5zM1068.1 202.1h1.9v37.6h-1.9zM1075.9 148.4h2.5v28.1h-2.5zM1027.5 169.7h1.4v47.8h-1.4zM1039.6 142.7h2.5v35.1h-2.5zM1025.1 114.3h2.9v50.1h-2.9zM1090.3 152.1h2.8v55.1h-2.8zM1043.8 158.3h2v37.5h-2zM1074.2 173.1h2.1v45h-2.1zM1065.4 195.3h1.7v51.1h-1.7zM1098.1 151.4h2.9v62.7h-2.9zM1013.2 145.1h2.1v30.2h-2.1zM1040.8 197.1h3v50.5h-3zM1046.8 97.7h1.3v47.8h-1.3zM1082.1 114.4h1.4v62.2h-1.4zM1099.1 214.3h1.4v65.5h-1.4zM1065 244.4h2.5v55.8h-2.5zM1090.2 175.5h1.6v32.7h-1.6zM1083.4 177.4h1.7v30.5h-1.7zM1096.9 199.5h2.7v26.6h-2.7zM1038.1 221.5h1.6v37.6h-1.6zM1041.9 236.5h2.4v52.9h-2.4zM1045.6 137.3h3.1v58.8h-3.1zM1075.5 101.2h2.8v68.9h-2.8zM1029.1 205.8h1.5v38.2h-1.5zM1007.6 134.5h1.8v35.9h-1.8zM1053.2 203.4h3.2v69.7h-3.2zM1016.4 170.9h3.1v32.3h-3.1zM1094.7 151.1h3.1v38.9h-3.1zM1044 96h2.8v60.9h-2.8zM1079.9 219.2h1.5v67.4h-1.5zM1024.3 112.6h1.4v66.8h-1.4zM1026.1 129.1h3v31.8h-3zM1083.2 97.3h2.9v62.8h-2.9zM1084.8 184h2.9v35.7h-2.9zM1082.9 183.2h3.2v30.1h-3.2zM1098.9 224.3h1.6v54.7h-1.6zM1023.6 91.1h2.3v66.5h-2.3zM1057.2 256.2h1.9v63.3h-1.9zM1039.4 242.7h2.6v47.1h-2.6zM1093 135.2h2.1v50.5h-2.1zM1075.4 217.9h1.8v48h-1.8zM1072.6 258.5h2.3v48.5h-2.3zM1077.9 164.3h1.4v65h-1.4zM998.3 120.9h3.1v62h-3.1zM1027 108.6h1.9v38.4h-1.9zM1068.7 161.5h1.3v57.6h-1.3zM1071.1 218.7h1.8v66.9h-1.8z" fill="#ffffff"/>
<path d="M1041.5 170.9h2.3v31.9h-2.3zM1068.5 215.8h2.5v30.7h-2.5zM1048.1 261.3h2v20.3h-2zM1057.2 170h3.8v46h-3.8zM1064.1 155.3h3.7v33.8h-3.7zM1045.4 155.1h1.8v41.3h-1.8zM1072.4 207.2h3.5v39h-3.5zM1085.9 266.2h4.4v31.6h-4.4zM1052 131.7h3v25.2h-3zM1097.1 229.1h2.4v40.8h-2.4zM1078.2 117.1h4v42h-4zM1061.8 271.3h2v21h-2zM1081.2 215.4h1.8v38.2h-1.8zM1070.8 163.4h2.1v44.6h-2.1zM1093.9 197.6h2.4v36.3h-2.4zM1074.2 195.7h4v26.8h-4zM1093.4 232h2.2v22.7h-2.2zM1084.2 153.6h4.2v47.9h-4.2zM1046.9 229.7h2.4v35h-2.4zM1053.4 156.7h1.9v26.3h-1.9zM1100.8 221.1h2.1v23.2h-2.1zM1060.3 255h3v30.7h-3zM1076.5 124.6h2.3v35.9h-2.3zM1089.4 181.9h2.6v36.1h-2.6zM1087 139h2.2v35h-2.2zM1051.5 123h2.4v45.9h-2.4zM1039.8 163.4h4.4v31.2h-4.4z" fill="#ffffff"/>
<path d="M1038 251.7h2.1v37.7h-2.1zM1097.7 213.9h2.4v40.7h-2.4zM1088.1 163.5h2v65.3h-2zM1055.6 183.1h5.1v32.9h-5.1zM1053.9 124.8h5.1v31.5h-5.1zM1043.1 248.2h4.8v29.4h-4.8zM1087.3 235.1h3v59h-3zM1010.3 127.9h2.5v38.9h-2.5zM1080.2 167.2h5.2v65.2h-5.2zM1055.8 194.6h2.2v52.5h-2.2zM1036.8 104.4h5.1v67.5h-5.1zM1016.5 181.7h3.8v60.6h-3.8zM991.6 106.4h2.4v42.3h-2.4zM1078 215.3h2.3v58h-2.3zM1005.3 91.5h3.5v65.9h-3.5zM1090 179.3h4.5v33.7h-4.5zM1062.8 120.7h3v59.8h-3zM1078.4 139.2h3.3v44.4h-3.3zM1039.8 143.4h2.8v61h-2.8zM1073.7 266.2h2.1v32.1h-2.1zM1083.6 155.1h4.5v38.6h-4.5zM1029.6 210.9h3.3v48.6h-3.3zM1056.4 137.9h3.5v53.8h-3.5zM1093 99.2h5v51.5h-5zM1068.7 115.2h3.9v50.2h-3.9zM1051.8 91.5h2v68.4h-2zM1002.2 140h3.8v25.8h-3.8zM1070 225.2h3v52.1h-3zM1040.7 224.8h2.5v26.3h-2.5zM1099.5 148.5h4.3v35.4h-4.3zM1053.8 154.6h3.8v65.9h-3.8zM1086.1 256.6h4.6v46.5h-4.6zM1059.7 132h3.2v27.4h-3.2zM1075.8 254.1h2v53.4h-2zM1088.9 258h4.3v30.4h-4.3zM1049.3 158.6h3.8v41.1h-3.8zM996.3 114.9h4v58.3h-4zM997 118.2h3.3v29.2h-3.3zM1095.7 147.9h2v46.8h-2zM1046.7 180.5h3.8v28.3h-3.8zM1045.3 199.8h2.9v47.2h-2.9zM1038.5 177.9h3.9v47.4h-3.9zM1073.2 178.7h2.7v27.2h-2.7zM991.8 95.1h2.2v56.3h-2.2z" fill="#000000"/>
</g>
<g filter="url(#b2x5)">
<polygon points="1012.5,151.5 1026.5,151.5 1031.1,233.1 1017.2,233.1" fill="#000000"/>
<polygon points="1077.8,198.1 1091.7,198.1 1091.7,256.4 1077.8,256.4" fill="#000000"/>
<polygon points="1105.7,118.9 1126.7,118.9 1124.4,233.1 1108.1,233.1" fill="#000000"/>
</g>
<g filter="url(#b4x6)">
<polygon points="1126.7,121.2 1240.9,121.2 1240.9,293.7 1126.7,293.7" fill="#262626"/>
</g>
<g filter="url(#b1_2x3)">
<path d="M1169.4 127.4h1.6v66.1h-1.6zM1191.5 217.5h2.4v42.3h-2.4zM1208.9 191.9h2.8v54.8h-2.8zM1221.8 180.1h1.6v31.7h-1.6zM1208 123.2h2.5v52.9h-2.5zM1132.8 222.7h1.4v64h-1.4zM1221.4 129h2.7v58h-2.7zM1140.2 202.2h1.5v66.1h-1.5zM1204.7 268.3h1.4v39.3h-1.4zM1196.7 192.2h1.6v65h-1.6zM1222.6 145h1.6v55h-1.6zM1172.1 212.7h2.2v42.8h-2.2zM1128.1 115.3h2.2v57.8h-2.2zM1174.2 215.6h2.3v64.6h-2.3zM1200.8 162h1.6v28h-1.6zM1129.8 238.6h3v58.8h-3zM1138.4 201.1h1.5v65h-1.5zM1200.3 226.9h2.5v43.8h-2.5zM1222.7 262.5h1.8v44.7h-1.8zM1209.4 214.3h2.1v45.3h-2.1zM1236.4 140.2h1.7v55.9h-1.7zM1157.4 240.6h1.9v66.6h-1.9zM1168.7 242.9h2.7v57.9h-2.7zM1150.5 132.6h1.4v33.1h-1.4zM1202 106.9h1.8v50.5h-1.8zM1143.6 149.5h1.7v55.4h-1.7zM1139 262.4h2.4v57.1h-2.4zM1188.3 173.3h3.1v65.2h-3.1zM1219.4 92.6h2.4v67.4h-2.4zM1198.4 192h2.5v33h-2.5zM1209.1 230.6h1.4v47.9h-1.4zM1193.4 147.9h2.6v66.5h-2.6zM1229.4 141.9h1.6v63.4h-1.6zM1195.1 243.6h3v37.6h-3zM1192.4 144.7h2.8v56.1h-2.8zM1152.8 188.6h2.4v35.5h-2.4zM1146.8 178.3h1.4v47.3h-1.4zM1233.4 230.7h1.4v62.2h-1.4zM1207.9 212.1h1.4v59.2h-1.4zM1148.1 237.1h1.9v41.5h-1.9zM1145.5 236.7h1.7v64.3h-1.7zM1184.1 122h2.5v48.9h-2.5zM1128.9 248.3h1.8v26.1h-1.8zM1213.2 228.2h2v33.4h-2z" fill="#ffffff"/>
<path d="M1155.4 185.6h5.4v48.7h-5.4zM1226.5 182.6h4.2v26h-4.2zM1150.4 223.5h2.6v32h-2.6zM1199.3 220.8h3.4v45.6h-3.4zM1216.8 244.5h3.9v30.4h-3.9zM1234.6 207.6h2.9v28.4h-2.9zM1220.6 224.5h5.7v50.5h-5.7zM1186 266.4h4v44.3h-4zM1218.5 228.8h5.9v45.2h-5.9zM1151.3 200.3h2.8v33.1h-2.8zM1135.7 196.8h5v37.8h-5zM1167.2 179.6h3.6v57.8h-3.6zM1199.1 225.1h3.2v50.5h-3.2zM1142.1 202.6h6.5v47.4h-6.5zM1187.4 232.2h5.9v52.2h-5.9zM1161.1 185.6h3.3v58h-3.3zM1224.3 200.1h5.1v38.8h-5.1zM1229.4 217.8h3.6v33.6h-3.6zM1188.4 185.8h4.8v56.4h-4.8zM1169.1 188.1h6.5v42.8h-6.5zM1136.4 232.4h5.7v39.8h-5.7zM1130.7 204.8h6.5v43.5h-6.5z" fill="#ffffff"/>
<path d="M1129.9 216.8h2.4v45.8h-2.4zM1201.7 232.4h3.4v47.4h-3.4zM1127.3 163.1h3.2v63.4h-3.2zM1187.5 233.3h3.4v32.9h-3.4zM1222.3 246.1h3.2v29.3h-3.2zM1183 179.7h4.5v51.9h-4.5zM1183 205.5h3.2v27.2h-3.2zM1131.4 262.3h4.7v38.3h-4.7zM1227.1 178.3h2.3v63.5h-2.3zM1191.4 265.3h4.2v29.2h-4.2zM1195.4 235.2h4.9v39.9h-4.9zM1185.9 208.9h2.5v63.2h-2.5zM1214 109h3.9v41.6h-3.9zM1145.4 199.2h5.1v49.8h-5.1zM1137.4 171.4h4.5v68h-4.5zM1205.9 102.2h5.1v52.1h-5.1zM1135.2 115.4h2.2v54.9h-2.2zM1143.2 234.1h2.3v49.1h-2.3zM1176.3 94.8h2v65.7h-2zM1236.1 107.6h4.3v69.5h-4.3zM1228.4 243.2h3v57.3h-3zM1181.5 249.2h4.2v63h-4.2zM1222.5 172.2h4.3v29.2h-4.3zM1148.6 252.7h3.3v55.8h-3.3zM1190.5 132.5h3.9v66.1h-3.9zM1162.8 163.8h2.6v33h-2.6zM1218.7 213.8h5.1v55.1h-5.1zM1234.9 141.6h2.6v34.7h-2.6zM1169.2 266.8h2.7v45.6h-2.7zM1131.8 99.5h3.7v52.6h-3.7zM1182.7 243h4.7v67.8h-4.7zM1191.7 136.4h2.4v59.4h-2.4zM1142.3 107h4.2v30.6h-4.2zM1196.1 142.6h3.3v25.7h-3.3zM1168.3 161.6h2.8v31h-2.8zM1191.2 225.6h2.6v27h-2.6zM1155.9 213.1h2.8v54.1h-2.8z" fill="#000000"/>
</g>
<g filter="url(#b3x5)">
<polygon points="1145.4,139.9 1185,139.9 1182.7,221.4 1166.3,209.8 1147.7,221.4" fill="#000000" fill-opacity="0.85"/>
</g>
<g filter="url(#b1_3x3_5)">
<rect x="1130.2" y="174.8" width="9.3" height="81.6" fill="#e6e6e6"/>
</g>
<g filter="url(#b1_5x1_5)">
<path d="M1157 131.5h11.7v5h-11.7zM1178 131.5h30.3v5h-30.3z" fill="#808080"/>
<ellipse cx="1138.4" cy="134" rx="4.2" ry="3.3" fill="#ffffff"/>
</g>
<g filter="url(#b3x5)">
<polygon points="1240.9,121.2 1427.4,121.2 1432.1,163.2 1422.8,293.7 1224.6,293.7 1236.3,186.5" fill="#808080"/>
</g>
<g filter="url(#b1_2x3)">
<path d="M1304.5 197h5.9v32.9h-5.9zM1268.8 113.5h3v25.4h-3zM1253.2 180.5h6.5v56.2h-6.5zM1298.7 170.3h5.3v39.7h-5.3zM1237 249.4h5v30h-5zM1416.6 105.2h5v68.6h-5zM1319.8 258.9h3.3v36.6h-3.3zM1272.3 98.7h5.2v61.8h-5.2zM1310.4 98.6h5.4v58.2h-5.4zM1354.2 150.4h5.8v53.4h-5.8zM1342.5 190.4h3.4v45.5h-3.4zM1383.7 206.6h3.9v61.9h-3.9zM1393.3 111.1h3.1v35h-3.1zM1352.5 193.1h6.5v41.1h-6.5zM1263.1 108.8h3.9v62.7h-3.9zM1345.5 117.7h4.2v27.2h-4.2zM1349.4 115.1h3.2v53.9h-3.2zM1392.2 199.6h3.7v54h-3.7zM1278 94.4h3.6v56h-3.6zM1348.7 122.8h5.9v62.4h-5.9zM1279.5 270.8h3.6v27.9h-3.6zM1326 243.6h4.9v49.6h-4.9zM1321.7 148h3.7v43.1h-3.7zM1334.2 263.5h2.8v36.3h-2.8zM1414.6 210.6h2.8v44.9h-2.8zM1355.2 243.6h2.8v65.6h-2.8zM1378.6 137.5h4.6v62.1h-4.6zM1271.6 226.4h4.7v28.3h-4.7zM1278.2 157.7h3.1v67.5h-3.1zM1272.9 136.3h4.9v48.7h-4.9zM1287.1 143.6h4.5v65.9h-4.5zM1237.5 248.5h6.3v55.7h-6.3zM1384.2 157h6.4v58.4h-6.4zM1362.2 169.6h3.4v56.1h-3.4zM1372 97.5h3.7v49.1h-3.7zM1266 130.4h3.3v25.7h-3.3zM1246.8 160.9h4.5v53.7h-4.5zM1284 116.3h6.2v53.4h-6.2zM1360.4 212.6h3.8v51.7h-3.8zM1286.4 219.4h5.8v25.7h-5.8zM1384.7 127h2.6v28.4h-2.6zM1335.6 251.1h6.2v32.1h-6.2zM1308.6 250.4h6.1v62.2h-6.1zM1273.4 149.5h3.1v36.9h-3.1zM1304.1 240.4h5.1v32.7h-5.1zM1257.8 174.8h6.1v46.3h-6.1zM1381.6 214.7h6v47.3h-6zM1298.4 180.3h5.7v37.5h-5.7zM1261.6 236.7h4.4v53.9h-4.4zM1258.2 106.1h3.4v44.3h-3.4zM1414.6 165h2.5v61.1h-2.5zM1283.3 123.2h5.1v54.9h-5.1zM1287.4 222h6v40.3h-6zM1323 103.1h4.9v38.2h-4.9zM1355 222.7h3.9v55h-3.9zM1412.9 126.7h5.7v46.5h-5.7zM1414 117.5h4v32.3h-4zM1274.8 252.1h4.6v41.1h-4.6zM1418.6 100.4h2.6v59.6h-2.6zM1335.5 229.2h4.5v67.5h-4.5zM1288.9 135.7h6v49h-6zM1351.3 110.5h5.7v59.9h-5.7zM1350.5 191.5h4.2v56.2h-4.2zM1301 251.3h4.9v55.3h-4.9zM1410 273.5h4.6v30.1h-4.6zM1329.4 259.3h3.3v36.5h-3.3zM1277.5 136.2h5.7v49.1h-5.7zM1239.3 195.1h5.3v26.2h-5.3z" fill="#ffffff"/>
</g>
<g filter="url(#b0_9x3)">
<path d="M1252.1 185.8h2.2v36.9h-2.2zM1253 115.7h2.8v51h-2.8zM1236.8 240.3h3.9v32.4h-3.9zM1312.5 223.6h2.1v39.3h-2.1zM1296.9 261.4h2.4v33.8h-2.4zM1304.8 271h2.2v28.1h-2.2zM1301.9 147.3h3v55.7h-3zM1300.7 208.3h4.2v50.6h-4.2zM1307.9 217.1h3.5v27.1h-3.5zM1318.6 252.9h2.9v46.9h-2.9zM1288.5 144.1h3v54.2h-3zM1238.6 179.5h2.2v38.5h-2.2zM1316.2 197.9h2v55.1h-2zM1292.3 192h2.7v35.5h-2.7zM1242.8 198h2.1v58.1h-2.1zM1233.7 208.6h3.4v37.7h-3.4zM1252.4 166.4h2.8v59h-2.8zM1290.4 188.3h3.7v42.3h-3.7zM1325.3 241.7h2.2v46.4h-2.2zM1305.9 258.6h2.1v29.6h-2.1zM1264.7 199.1h2.2v49.4h-2.2zM1301.7 177.9h4.2v38.6h-4.2zM1310.5 167.1h3v38.2h-3zM1298 248.6h2.1v45.7h-2.1zM1311 220.1h2.6v37.8h-2.6zM1315.4 138.6h4.4v38.7h-4.4zM1277.3 218.9h3.7v45.7h-3.7z" fill="#4c4c4c" fill-opacity="0.80"/>
</g>
<g filter="url(#b3x5)">
<polygon points="1327.2,122.4 1418.1,122.4 1420.4,144.5 1408.8,191.1 1399.4,293.7 1341.2,293.7 1331.8,191.1 1322.5,144.5" fill="#ffffff"/>
<polygon points="1250.3,163.2 1266.6,163.2 1273.6,209.8 1282.9,293.7 1222.3,293.7 1236.3,209.8" fill="#ffffff"/>
</g>
<g filter="url(#b1_2x3)">
<path d="M1407.4 167.1h1v45.8h-1zM1347.5 185.3h1v48.4h-1zM1329.7 111.7h0.8v44.8h-0.8zM1403.2 127.3h1.2v35.8h-1.2zM1370.2 137.6h0.9v22.2h-0.9zM1394.9 201h0.7v26.8h-0.7zM1372.8 242.3h0.8v23.2h-0.8zM1359 111h0.8v46.2h-0.8zM1343.3 160.3h1.1v26.1h-1.1zM1337.1 143.6h1v41.4h-1zM1388.3 121.6h0.8v23.5h-0.8zM1377.5 165.7h1.1v37.1h-1.1zM1379.6 140.4h1v22h-1zM1342.5 109.8h1.1v25.6h-1.1zM1353.9 209.1h1.3v20.7h-1.3zM1385.6 112.8h1.1v31h-1.1zM1334.5 176.6h1.1v24.1h-1.1z" fill="#000000"/>
</g>
<g filter="url(#b3x5)">
<polygon points="1415.8,121.2 1436.7,121.2 1436.7,293.7 1408.8,293.7 1418.1,186.5" fill="#333333" fill-opacity="0.70"/>
</g>
<g filter="url(#b1_2x1_2)">
<path d="M989.2 113.1h14v4.5h-14zM1091.7 113.1h11.7v4.5h-11.7z" fill="#cccccc"/>
<path d="M1026.5 112.9h14v5h-14zM1122.1 112.9h137.5v5h-137.5zM1324.8 112.9h14v5h-14z" fill="#f7f7f7"/>
</g>
<g filter="url(#b1_5x1_5)">
<path d="M1261.9 112.9h60.6v6h-60.6zM1341.2 112.9h86.2v6h-86.2z" fill="#000000"/>
</g>
<g filter="url(#b3x5)">
<polygon points="1073.1,235.3 1131.4,235.3 1131.4,344.9 1091.7,344.9 1073.1,309.9" fill="#666666"/>
</g>
<g filter="url(#b1_2x3)">
<path d="M1085.7 266.3h3.1v52.8h-3.1zM1083.5 280h6.2v35.9h-6.2zM1127.2 294.1h4.7v45.2h-4.7zM1104 259.7h6.5v36.2h-6.5zM1129.1 314.3h2.6v30.3h-2.6zM1099.3 303.1h3.2v44.6h-3.2zM1091.4 297.2h6.2v50.5h-6.2zM1082.2 293h4.3v53.5h-4.3zM1097.3 308.6h6.4v53h-6.4zM1118.8 312.4h4.9v27h-4.9zM1129.3 270h2.6v37.4h-2.6zM1094.1 248.8h6.3v24.5h-6.3zM1124.2 280.5h3.2v34.3h-3.2zM1096.6 229.3h5.6v46.1h-5.6zM1127.5 297.1h5.6v59.9h-5.6zM1125.1 287.1h4.7v40.9h-4.7zM1117.6 310.3h5.8v53.6h-5.8zM1073.3 262.4h2.8v43.4h-2.8zM1103.9 284.3h5.9v29h-5.9zM1113.9 271.9h3.4v59.1h-3.4zM1073.9 266.9h4.6v43.8h-4.6zM1127.3 282h6v31.8h-6zM1098.6 237h5.1v36.9h-5.1zM1116.7 222.6h4.4v58.3h-4.4zM1071.2 284.7h5.2v49h-5.2zM1102.4 276.9h6.3v31.3h-6.3zM1111.4 290.6h5.4v39.1h-5.4zM1072.3 295.7h3.6v51.3h-3.6zM1128.6 294.3h4.1v54.3h-4.1zM1093.2 250.5h4.8v46.1h-4.8z" fill="#ffffff"/>
</g>
<g filter="url(#b0_9x3)">
<path d="M1128.2 226h3.8v39.4h-3.8zM1125.8 269.5h4.3v26.4h-4.3zM1129.9 266.4h2.4v33.8h-2.4zM1108.4 233.4h3v20.4h-3zM1075.9 242.4h2.5v31h-2.5zM1116.4 255.7h4.2v55.9h-4.2zM1123.5 316h3.4v46.8h-3.4zM1123.3 276.6h2.3v40.8h-2.3zM1102.9 245.2h2.2v27.4h-2.2zM1111.9 306.7h3.7v37.1h-3.7zM1072.9 219.9h3.7v41.2h-3.7zM1098.6 244.4h2.3v27.2h-2.3zM1079.2 281.8h2.7v42.2h-2.7zM1096.2 271.9h3.9v51.2h-3.9zM1079.7 314.3h4.2v52.8h-4.2zM1097.5 325.1h4.1v29.6h-4.1zM1111.2 301.1h3.9v56h-3.9zM1102.9 287.1h2.1v46.6h-2.1zM1079.5 298.5h4.3v34.9h-4.3zM1075.5 231.4h3.3v26.2h-3.3z" fill="#333333" fill-opacity="0.80"/>
</g>
<g filter="url(#b3x4)">
<polygon points="1091.7,275 1129,275 1129,316.9 1096.4,316.9" fill="#0d0d0d"/>
</g>
<g filter="url(#b3x5)">
<polygon points="1131.4,235.3 1236.3,235.3 1236.3,277.3 1131.4,277.3" fill="#737373"/>
</g>
<g filter="url(#b1_2x3)">
<path d="M1193.9 252.5h4.3v41.3h-4.3zM1226.9 238.5h5.4v41.8h-5.4zM1219.8 216.4h3.2v49.9h-3.2zM1207 237.2h5.5v25.1h-5.5zM1167.5 244.4h3.4v24.1h-3.4zM1182.7 244.2h3.8v39.8h-3.8zM1232.6 230.7h3.6v22.7h-3.6zM1200.3 241.7h4.3v27.4h-4.3zM1210.7 245.9h4.3v44.7h-4.3zM1152.5 239.4h6.3v26.8h-6.3zM1143.9 218.9h5.2v44.6h-5.2zM1134.8 242.9h4.1v29.8h-4.1zM1154.5 230.5h3.1v47.7h-3.1zM1149.7 240.1h5.1v39.7h-5.1zM1178 246.9h6.2v25.2h-6.2zM1149.7 234.9h5.5v32.7h-5.5zM1170.8 223.1h3v39.5h-3z" fill="#ffffff"/>
</g>
<g filter="url(#b0_9x3)">
<path d="M1225.7 227.9h3v34.5h-3zM1230.6 235.5h2.8v37.3h-2.8zM1169.6 253.2h3.7v41.7h-3.7zM1135.7 257.9h3v37.9h-3zM1186.4 245.1h3.8v28.2h-3.8zM1145.1 263.1h2.5v28.3h-2.5zM1176 263.3h2.7v20.4h-2.7zM1158.3 225.2h2v46.8h-2zM1207.1 220.4h2.4v49.4h-2.4zM1203.3 231.9h3.1v49.5h-3.1zM1155.5 246.3h2v34.5h-2zM1154.7 236.3h2.7v32.8h-2.7zM1224.2 231h2v45.1h-2zM1226.9 256.1h2.5v30.6h-2.5zM1210.7 225.4h2.1v35.2h-2.1zM1154.4 232.8h2.3v48.8h-2.3zM1182.2 238.8h2.5v28.2h-2.5z" fill="#595959" fill-opacity="0.80"/>
</g>
<g filter="url(#b3x5)">
<polygon points="1129,277.3 1203.6,277.3 1203.6,379.9 1178,379.9 1161.7,351.9 1129,351.9" fill="#000000"/>
</g>
<g filter="url(#b0_9x3)">
<path d="M1132.1 327.2h2.3v50.9h-2.3zM1147.7 317.9h2.7v37.3h-2.7zM1144.7 331.9h3.7v43.9h-3.7zM1137.6 289.4h3.8v40h-3.8zM1140.8 314.1h3.6v26.4h-3.6zM1134.5 306.1h3.4v54.3h-3.4zM1130.8 270.1h3.3v51.1h-3.3zM1134 320h3v35.7h-3zM1146.6 267.9h4.4v35.9h-4.4zM1137.4 266.2h3.2v54.5h-3.2zM1134.5 303.4h3.1v35.6h-3.1zM1132.6 311.9h3v41.4h-3zM1142 257.7h4.1v56.2h-4.1z" fill="#383838" fill-opacity="0.80"/>
</g>
<g filter="url(#b1_2x3)">
<path d="M1181.4 279.2h2.8v59.6h-2.8zM1179.7 277.6h2v27.4h-2zM1188.7 311.7h1.7v51.6h-1.7zM1171.2 314.4h2.4v38.5h-2.4zM1163.7 271h3v31.5h-3zM1187.3 286.2h2.1v50h-2.1zM1168.3 301.7h1.4v32.5h-1.4zM1190 267.6h1.6v42.4h-1.6zM1188.1 254.9h2.6v45.4h-2.6zM1187.2 274.3h2v52.8h-2zM1170.6 292.2h2.2v26.5h-2.2zM1198.2 267.6h2.8v41.4h-2.8zM1185.6 292.2h3v26h-3zM1196.1 308.2h1.6v42.8h-1.6zM1164.7 294.8h2.6v35.1h-2.6zM1194.5 271.1h1.4v41.9h-1.4zM1192.7 271.6h1.7v47.9h-1.7zM1189.7 262h1.6v46.7h-1.6zM1194.1 261.9h2.5v48.1h-2.5zM1164.5 304.2h2.2v28.7h-2.2zM1168 277.7h2.6v30.2h-2.6zM1185.9 305.3h2.4v49.2h-2.4zM1167 307.9h3.1v55.1h-3.1z" fill="#ffffff"/>
</g>
<g filter="url(#b3x4)">
<polygon points="1087.1,347.2 1166.3,356.6 1166.3,377.5 1087.1,377.5" fill="#999999"/>
</g>
<g filter="url(#b2x3)">
<rect x="1092.9" y="356.6" width="38.5" height="18.6" fill="#ffffff"/>
</g>
<g filter="url(#b1_5x2)">
<rect x="1138.4" y="365.9" width="9.3" height="9.8" fill="#ffffff"/>
<rect x="1151.2" y="365.9" width="12.8" height="9.8" fill="#ffffff"/>
</g>
<g filter="url(#b1_2x3)">
<path d="M1088 324.5h1.9v35.4h-1.9zM1128.1 312.2h4.4v39.1h-4.4zM1124.3 304.5h3.8v35.5h-3.8zM1111.6 315h4.4v39.7h-4.4zM1117.6 323.3h3.3v44.4h-3.3zM1113.3 323h2.2v36.7h-2.2zM1092.5 320.6h3v42.9h-3zM1111.6 321.1h3.2v26.6h-3.2zM1129.1 338.2h2.9v26.5h-2.9zM1105.3 319.8h3v48.2h-3zM1087.7 322.8h3.2v21.4h-3.2zM1106.4 316.7h2.6v49.8h-2.6zM1100.9 320.5h3.4v27.9h-3.4zM1107 306.8h2v40.5h-2zM1098.2 311h2.5v32.5h-2.5zM1091.7 321.3h3.7v49.1h-3.7zM1087.2 309.9h3.6v45.4h-3.6z" fill="#ffffff"/>
</g>
<g filter="url(#b2x4)">
<polygon points="1096.4,379.9 1161.7,379.9 1159.3,403.2 1150,421.8 1140.7,407.8 1131.4,424.1 1119.7,407.8 1108.1,424.1 1101.1,403.2" fill="#e6e6e6"/>
</g>
<g filter="url(#b1_2x3)">
<path d="M1133.1 369.2h2.5v38.7h-2.5zM1098.1 387.6h2v22.2h-2zM1152.2 407.7h2.8v25.5h-2.8zM1152.2 370.9h2.2v26.7h-2.2zM1100.2 391h2v24.2h-2zM1102.2 399.9h1.6v15.9h-1.6zM1151.8 376.3h2.5v33.1h-2.5zM1145.3 405.1h1.6v26.2h-1.6zM1104 399.2h1.7v21.6h-1.7zM1111.7 392.1h2.2v35.7h-2.2zM1133.6 392.8h2.6v23.3h-2.6zM1121.7 373h1.7v37.6h-1.7zM1135 389.2h2.5v19.4h-2.5z" fill="#ffffff"/>
</g>
<g filter="url(#b2x4)">
<polygon points="1067.3,344.9 1087.1,340.2 1096.4,379.9 1103.4,426.5 1110.4,473.1 1063.8,473.1 1069.6,426.5" fill="#000000"/>
<polygon points="1164,379.9 1182.7,377.5 1187.3,414.8 1196.6,461.4 1150,461.4 1159.3,417.2" fill="#000000"/>
</g>
<g filter="url(#b2x3)">
<polygon points="1056.8,424.1 1069.6,419.5 1073.1,449.8 1069.6,463.8 1061.4,456.8" fill="#ffffff"/>
<polygon points="1056.8,456.8 1073.1,449.8 1073.1,473.1 1063.8,473.1" fill="#999999"/>
</g>
<g filter="url(#b4x6)">
<polygon points="1199,275 1266.6,275 1271.2,463.8 1189.7,463.8" fill="#808080"/>
</g>
<g filter="url(#b3x5)">
<polygon points="1213,298.3 1236.3,298.3 1245.6,379.9 1264.2,391.5 1264.2,456.8 1254.9,463.8 1245.6,456.8 1236.3,464.9 1224.6,456.8 1213,463.8 1201.3,449.8 1194.3,391.5 1208.3,379.9" fill="#ffffff"/>
</g>
<g filter="url(#b1_2x3)">
<path d="M1211 359.9h6.3v25.8h-6.3zM1253.6 337.2h5.2v25.4h-5.2zM1252.1 292.8h5.7v43.8h-5.7zM1248.5 327.2h3.9v48.4h-3.9zM1261.4 354.3h6.1v28.5h-6.1zM1240.4 350.5h3.7v26.6h-3.7zM1246.4 317.1h6.4v33.9h-6.4zM1202 311.8h5.9v47.7h-5.9zM1204.6 291h3v39.2h-3zM1249.3 306h4.6v32.9h-4.6zM1231.9 360.9h4.1v35.7h-4.1zM1244.3 344.1h2.7v47.4h-2.7zM1237.4 314h4.6v48.8h-4.6zM1254.8 286.6h3.1v30.1h-3.1zM1234.1 278.7h4.4v43.5h-4.4zM1226.2 318.8h4.6v43.6h-4.6zM1250.4 285.5h2.6v56.8h-2.6zM1221.8 293.9h3v45.2h-3zM1251.3 269.6h4.8v26.5h-4.8zM1224.6 262.5h5.4v57.5h-5.4zM1232.2 285.9h5.4v53.4h-5.4zM1200.7 297.1h5.4v57h-5.4zM1208.3 344.5h3.4v46.3h-3.4zM1253.7 335.7h3.8v49.9h-3.8zM1220.5 285.8h6.3v26.6h-6.3zM1262.2 261.6h5.8v34h-5.8zM1219 249.3h4.8v51.4h-4.8z" fill="#ffffff"/>
</g>
<g filter="url(#b3x5)">
<polygon points="1266.6,235.3 1320.2,235.3 1320.2,431.1 1294.5,440.5 1266.6,431.1" fill="#7a7a7a"/>
</g>
<g filter="url(#b1_2x3)">
<path d="M1281.3 321.1h3.6v53.3h-3.6zM1288.6 275.6h6.1v52.7h-6.1zM1311 344.8h3.2v38.6h-3.2zM1278.1 361.6h2.5v52.7h-2.5zM1273 272.8h5v48.6h-5zM1291.6 320.7h4.9v46h-4.9zM1271.1 273.9h2.6v44.8h-2.6zM1280.6 256.2h3.6v57.9h-3.6zM1270.4 392.1h6.1v32.1h-6.1zM1308.5 261.9h5.1v29.3h-5.1zM1281.6 305.1h4v53.9h-4zM1298.9 232.2h4.7v28.2h-4.7zM1274.1 290.4h3.8v44.5h-3.8zM1316.9 358.1h4.7v54.4h-4.7zM1272.4 344.5h6.4v58h-6.4zM1291.9 330.3h4v40.4h-4zM1316.7 248.4h5.9v32.9h-5.9zM1295 321.4h2.7v41.8h-2.7zM1264.3 393h6.3v45.3h-6.3zM1306.2 362.5h3.3v27.4h-3.3zM1284.4 294.2h4.5v48.6h-4.5zM1306.1 326.7h2.5v36.7h-2.5zM1299 380.7h2.6v50.3h-2.6zM1289.1 285.7h6v35.1h-6zM1276.4 327.5h5.1v30.9h-5.1zM1291.6 276.5h5.6v27h-5.6zM1310.3 312.7h3.3v36.1h-3.3zM1303.9 322.6h3v30.1h-3zM1267.8 325.2h5.3v28.6h-5.3zM1308.6 327h5.8v33.5h-5.8zM1273.7 326h6.1v40.3h-6.1zM1286.8 329.2h2.6v31.3h-2.6zM1283.9 359.7h4.3v48.3h-4.3zM1285.8 336.1h4.8v26.8h-4.8zM1296.2 301h5.3v40.4h-5.3zM1270.3 227.2h4.8v48.8h-4.8zM1307 257.2h2.7v30.3h-2.7zM1314.3 324.2h2.9v51.8h-2.9zM1298.5 363.9h3.4v57.4h-3.4zM1289.1 345.2h3v55.5h-3zM1315.7 321.3h4.9v27.4h-4.9zM1299.5 341.6h5.8v52.7h-5.8zM1277.3 371.2h4.9v28.3h-4.9zM1267.4 246.8h3v44.2h-3z" fill="#ffffff"/>
</g>
<g filter="url(#b0_9x3)">
<path d="M1291.1 325.7h4.1v36.2h-4.1zM1282.2 350.5h3.2v37.6h-3.2zM1287.1 277.9h2.4v47.1h-2.4zM1312.7 350h3.6v36.8h-3.6zM1287.9 249.2h3.8v35.4h-3.8zM1280.8 393.3h2.8v59.3h-2.8zM1297.9 366.3h3.6v31.3h-3.6zM1303.3 273.5h3v29.6h-3zM1268.7 289.3h2v38.5h-2zM1310.6 411.8h3v28.8h-3zM1283.9 228.5h2.5v46.7h-2.5zM1298 226h3.2v39.8h-3.2zM1286.4 250.9h3v28.6h-3zM1301.6 341.5h3.6v39.3h-3.6zM1316.6 289.7h2.5v38.1h-2.5zM1313.5 240.5h3.9v57.8h-3.9zM1310.7 299.1h3.1v55.5h-3.1zM1303.4 367.3h2.4v46.3h-2.4zM1304.9 257.2h2.5v54.4h-2.5zM1295.4 299.4h3.2v34h-3.2zM1278.4 244.8h3v30.1h-3zM1312.9 404.2h3.5v28.2h-3.5zM1297.2 254.2h2.9v29.5h-2.9zM1291.9 237.4h2.7v33.2h-2.7zM1289.8 387.3h3.5v52.4h-3.5zM1304.4 325.5h2.1v27h-2.1zM1272.4 307.5h2.8v57.6h-2.8zM1275.5 241.4h3.6v46.2h-3.6zM1267.9 277.3h3.1v53.8h-3.1zM1306.7 374h3.3v57.8h-3.3zM1290.6 266.8h2.3v54.1h-2.3zM1299.2 331.4h4.5v47.1h-4.5zM1281 354h4.4v31.2h-4.4zM1316 296.2h2.2v42.8h-2.2z" fill="#4c4c4c" fill-opacity="0.80"/>
</g>
<g filter="url(#b3x5)">
<polygon points="1331.8,235.3 1376.1,235.3 1383.1,356.6 1390.1,379.9 1390.1,449.8 1376.1,462.6 1364.5,456.8 1352.8,463.8 1334.2,461.4 1320.2,449.8 1317.9,384.5 1324.8,356.6" fill="#ffffff"/>
</g>
<g filter="url(#b1_2x3)">
<path d="M1351.3 323.2h1.3v42.8h-1.3zM1333.2 336.5h2.1v31h-2.1zM1331.2 269h1.5v52.1h-1.5zM1344.3 292.6h1.1v32.4h-1.1zM1328.7 280.3h1.6v46.6h-1.6zM1343.8 276.1h2v35.8h-2zM1340.9 272.3h1.7v34.8h-1.7zM1334.1 302.6h1.6v45.3h-1.6zM1329.8 252.8h2v59.6h-2zM1373.4 254.9h1.6v56.4h-1.6zM1344 268h1.8v37h-1.8zM1351.5 260.6h1.9v43.1h-1.9zM1361.4 237.2h1.7v32.8h-1.7zM1355 265.2h1.7v29.6h-1.7zM1348.1 286.7h1.2v59.7h-1.2zM1381.6 323.8h2v57.9h-2zM1357.4 324h1.4v27.3h-1.4zM1378.2 328.1h1.2v38.1h-1.2zM1338 296.4h1.1v53.5h-1.1zM1369.9 283.6h1.1v26h-1.1z" fill="#000000"/>
</g>
<g filter="url(#b3x5)">
<polygon points="1376.1,235.3 1411.1,235.3 1411.1,440.5 1390.1,449.8 1385.5,356.6" fill="#808080"/>
</g>
<g filter="url(#b1_2x3)">
<path d="M1389.6 278h4.3v42h-4.3zM1377.8 257.1h2v47h-2zM1404.4 335.2h2.4v54.6h-2.4zM1405.3 281.5h2.5v48.6h-2.5zM1408.1 398h4.2v50.1h-4.2zM1382.6 339.2h3v47.4h-3zM1391.1 268.2h4.2v26.3h-4.2zM1385.9 291.5h4.4v29.1h-4.4zM1394.6 400.3h3.5v57.5h-3.5zM1388.5 308.8h2.8v37.9h-2.8zM1386.1 229.6h4.5v50.7h-4.5zM1398.7 330.3h2.3v32.9h-2.3zM1408.4 379.7h3v51h-3zM1408.3 228.9h2.8v39.1h-2.8zM1386.8 333.5h2.6v29.2h-2.6zM1404.5 310.2h4v29.6h-4zM1385.9 319.2h1.9v39.5h-1.9zM1381.1 293.2h2.6v52.3h-2.6zM1392.2 269.6h3.4v41.7h-3.4zM1382.2 383.2h3.4v25.4h-3.4zM1394 290.3h2v59h-2zM1396.3 418.9h3.1v40.3h-3.1zM1391 253.3h4.1v45.7h-4.1zM1389.3 411.9h2.9v26.8h-2.9zM1393.4 300.5h3.9v42.3h-3.9zM1387.5 297.2h3.1v50.6h-3.1zM1403.1 306.9h2.2v25.5h-2.2zM1395.1 267.3h4.1v39.8h-4.1zM1407.6 240.9h4.1v29.1h-4.1zM1383.4 301.9h2.6v40.7h-2.6z" fill="#ffffff"/>
</g>
<g filter="url(#b3x5)">
<polygon points="1411.1,235.3 1429.7,235.3 1427.4,403.2 1411.1,449.8" fill="#383838"/>
</g>
<g filter="url(#b1_2x3)">
<path d="M1417.7 333.7h2.1v47.6h-2.1zM1407.8 402.1h2.6v44.1h-2.6zM1424.2 257.8h2.9v39.6h-2.9zM1410.8 379.8h2.1v41.6h-2.1zM1409.9 355.7h1.3v21.9h-1.3zM1409.8 235.2h2.4v26.6h-2.4zM1411.5 376h2.8v31.9h-2.8zM1412.1 363.1h2.3v30.8h-2.3zM1414.1 295.2h2.2v25.4h-2.2zM1407.9 316h1.7v21.7h-1.7zM1413.2 355h2.9v20.9h-2.9zM1424.2 273.2h2.9v46.6h-2.9zM1413.8 346.1h2.4v27.1h-2.4zM1427.8 243.9h1.8v47.6h-1.8zM1414.2 287.1h1.8v44.8h-1.8zM1414.3 239.9h1.5v47.6h-1.5zM1409 253.1h1.9v36.9h-1.9zM1425.1 400.9h2.2v40.2h-2.2zM1414.7 314.8h1.4v42.4h-1.4zM1418.5 343h2.9v44.7h-2.9z" fill="#ffffff"/>
</g>
<g filter="url(#b1_2x1_2)">
<ellipse cx="1434.9" cy="352.6" rx="2.8" ry="2.8" fill="#ffffff"/>
</g>
<g filter="url(#b1_5x1_5)">
<path d="M1073.1 283.2h18.6v4.5h-18.6zM1213 283.2h18.6v4.5h-18.6zM1266.6 283.2h79.3v4.5h-79.3zM1373.8 283.2h53.6v4.5h-53.6z" fill="#4c4c4c" fill-opacity="0.90"/>
</g>
<g filter="url(#b1_2x1_2)">
<path d="M1096.4 375.5h14v5h-14zM1124.4 375.5h16.3v5h-16.3zM1152.4 375.5h14v5h-14zM1178 375.5h16.3v5h-16.3zM1266.6 375.5h39.6v5h-39.6zM1392.4 375.5h47.6v5h-47.6z" fill="#000000"/>
</g>
<g filter="url(#b2x2)">
<rect x="1194.3" y="376.4" width="198.1" height="3.3" fill="#8c8c8c" fill-opacity="0.50"/>
<rect x="1266.6" y="392.2" width="51.3" height="3.3" fill="#8c8c8c" fill-opacity="0.60"/>
<rect x="1271.2" y="350.7" width="46.6" height="3.7" fill="#4c4c4c" fill-opacity="0.70"/>
</g>
<g filter="url(#b0_8x1_5)">
<path d="M1087.5 478.5h2.8v5.2h-2.8zM1156.2 485.4h2v6.2h-2zM1378.9 473h2.3v4.3h-2.3zM1232.6 488.8h1.6v3.6h-1.6zM1155.7 493.6h2.7v7.1h-2.7zM921.1 480.5h2.4v4.8h-2.4zM977.2 496.4h2.5v5h-2.5zM1124.3 489.2h2.6v6.9h-2.6zM1039.4 498h2.6v4.4h-2.6zM942.2 481.4h1.9v7.4h-1.9zM844.7 492.5h1.7v7.1h-1.7zM1098.2 474.2h3v5.1h-3zM1426.1 479.2h1.9v5.8h-1.9zM955.5 486.1h2.6v6.2h-2.6zM842.5 489.2h1.9v5.3h-1.9zM1354 495.6h1.7v3.5h-1.7zM1290.8 482.1h2.6v6.2h-2.6zM1432.3 493.4h3v7.5h-3zM1180.5 480.9h1.7v7.2h-1.7zM1134.2 484.4h1.9v4.7h-1.9zM1141.8 489.2h2v3.7h-2zM1195.9 495.6h2.3v7.9h-2.3zM947.2 493.8h2.3v3.2h-2.3zM943.5 491.4h2.7v3.7h-2.7zM1249 494.4h1.9v7.1h-1.9zM931.7 473.2h2.7v7.4h-2.7zM1258.5 484.2h2.5v5.8h-2.5zM1203 496.9h2.2v4.4h-2.2zM970.1 485.4h2.6v4.9h-2.6zM997.1 476.1h2.6v3h-2.6zM1054.3 474.3h2.6v6.7h-2.6zM1251.1 473.6h1.9v4.4h-1.9zM1384 496.4h2.7v5.9h-2.7zM1090 487.1h2.3v4.9h-2.3zM962.3 472.8h1.9v3.8h-1.9zM1275.2 492h1.7v7.4h-1.7zM1298.6 480.6h2.6v5.4h-2.6zM1231.9 491.1h2.9v5.9h-2.9zM969 488.5h2.5v5.5h-2.5zM1056.9 497.6h2.9v6.8h-2.9zM1133.5 489.8h1.8v3.3h-1.8zM986.8 486.9h2.9v6.8h-2.9zM1225.5 474.1h2.7v3.3h-2.7zM959.5 487.3h2.7v3.3h-2.7zM1296.7 488.2h2.5v5.9h-2.5zM1421 492.9h1.6v7.6h-1.6zM1231.2 497.9h2.9v5.1h-2.9zM924.6 498.3h1.5v3.7h-1.5zM965.9 492.7h1.7v6.1h-1.7zM978.6 486.9h2.1v7.1h-2.1zM1202.8 498.5h1.7v3.6h-1.7zM1189.4 494.4h2.9v3.6h-2.9zM1418.5 483.7h2.9v3.1h-2.9zM1067.9 485.2h2.6v7.1h-2.6zM913.5 485.5h1.7v6.5h-1.7zM885.3 495.3h2.2v5.8h-2.2zM1229.3 472.4h2.9v5.8h-2.9zM1132.7 489.8h2.2v7.7h-2.2zM854.3 471.4h2.4v6.7h-2.4zM1272.7 472.8h1.8v4.2h-1.8z" fill="#292929" fill-opacity="0.70"/>
</g>
<g filter="url(#b3x4)">
<polygon points="1400,72.3 1421,74.6 1428,100.2 1421,109.6 1400,109.6" fill="#4c4c4c"/>
<polygon points="1400,83.9 1414,86.2 1416.3,102.6 1400,104.9" fill="#808080"/>
</g>
<g filter="url(#b3x5)">
<polygon points="1400,121.2 1430.3,121.2 1435,174.8 1423.3,256.4 1414,293.7 1400,293.7" fill="#474747"/>
<polygon points="1400,125.9 1421,125.9 1425.6,174.8 1414,233.1 1400,256.4" fill="#9e9e9e"/>
<polygon points="1400,130.5 1411.7,139.9 1412.8,198.1 1400,209.8" fill="#f2f2f2"/>
</g>
<g filter="url(#b2x2)">
<ellipse cx="1415.2" cy="134.7" rx="7" ry="4.2" fill="#ffffff"/>
</g>
<g filter="url(#b1_2x1_2)">
<path d="M1449 112.9h30.3v5h-30.3zM1496.7 112.9h15.2v5h-15.2zM1528.2 112.9h28v5h-28zM1564.3 112.9h14v5h-14zM1594.6 112.9h173.7v5h-173.7zM1883.7 112.9h17.5v5h-17.5z" fill="#cccccc"/>
</g>
<g filter="url(#b1x1)">
<path d="M1530.5 114.9h23.3v2h-23.3zM1609.8 114.9h139.9v2h-139.9z" fill="#f2f2f2"/>
</g>
<g filter="url(#b1_2x1_2)">
<path d="M1400 25.5h2.3v5h-2.3zM1424.5 25.5h10.5v5h-10.5zM1451.3 25.5h3.5v5h-3.5zM1462.9 25.5h5.8v5h-5.8zM1517.7 25.5h8.2v5h-8.2z" fill="#bfbfbf"/>
</g>
<g filter="url(#b1x1)">
<path d="M1651.7 35.5h2.8v6h-2.8zM1662.2 35.5h2.8v6h-2.8z" fill="#e6e6e6"/>
<path d="M1613.3 36.9h2.3v4h-2.3z" fill="#737373"/>
<path d="M1493.2 88.2h10.5v3h-10.5z" fill="#333333"/>
<path d="M1621.4 93.6h9.3v4h-9.3z" fill="#404040"/>
<path d="M1905.4 67.5h4v4h-4z" fill="#4c4c4c"/>
<path d="M1992.1 32.3h7.9v3h-7.9z" fill="#333333"/>
</g>
<g filter="url(#b1_5x1_5)">
<path d="M1445.5 130.2h10.5v9h-10.5zM1553.8 130.2h7v9h-7zM1918.6 130.2h7v9h-7zM1973.4 130.2h7v9h-7z" fill="#454545"/>
<path d="M1534 130.2h8.2v9h-8.2zM1565.5 130.2h9.3v9h-9.3zM1581.8 130.2h25.6v9h-25.6zM1668.1 130.2h116.6v9h-116.6z" fill="#737373"/>
<path d="M1635.4 130.2h9.3v9h-9.3zM1693.7 130.2h9.3v9h-9.3zM1749.7 130.2h7v9h-7z" fill="#8c8c8c"/>
</g>
<g filter="url(#b1_5x2)">
<path d="M1784.6 131.7h111.9v6h-111.9z" fill="#333333" fill-opacity="0.70"/>
</g>
<g filter="url(#b4x5)">
<polygon points="1523.5,149.2 1609.8,144.5 1784.6,144.5 1786.9,221.4 1773,237.8 1633.1,240.1 1605.1,221.4 1563.2,233.1 1523.5,233.1" fill="#1a1a1a"/>
</g>
<g filter="url(#b6x8)">
<polygon points="1609.8,158.5 1714.7,158.5 1714.7,233.1 1609.8,233.1" fill="#2b2b2b" fill-opacity="0.70"/>
</g>
<g filter="url(#b1x3)">
<path d="M1607.2 171.6h1.8v59.3h-1.8zM1737.1 219h2.2v28h-2.2zM1536.9 141.6h1.8v47.7h-1.8zM1617.6 200.6h2.9v34h-2.9zM1566.2 155.4h1.8v45.9h-1.8zM1571.5 142.9h3.1v37.5h-3.1zM1769.2 216.5h2.8v30h-2.8zM1560.7 149.6h2.9v40.5h-2.9zM1600.2 132.8h2.3v35.7h-2.3zM1540.5 151.8h2.2v36.6h-2.2zM1651 180.8h3v31.8h-3zM1547.3 153.1h2.1v43h-2.1zM1646.9 151.1h1.9v50h-1.9zM1685 174.4h2.8v54.2h-2.8zM1531.5 141h2.5v48h-2.5zM1654.1 176.7h2.2v29.8h-2.2zM1750.4 212.3h2.5v38.7h-2.5zM1556 177.1h2.1v45h-2.1zM1594.7 172.2h3.1v32.5h-3.1zM1661.9 148.6h2.5v54.7h-2.5zM1650.9 211.1h2.4v38.2h-2.4zM1690.5 175.4h2.8v31.6h-2.8zM1526.1 169.7h1.9v29.9h-1.9zM1678.1 183.5h3.1v47.1h-3.1zM1667.3 162.3h2.5v31.5h-2.5zM1549 177.9h2.7v32.3h-2.7zM1715.5 166.6h2.2v54.1h-2.2zM1528.2 148.3h2.3v46.9h-2.3zM1588.5 212.6h2v38h-2zM1645.1 198.4h2.2v26.5h-2.2zM1716.5 187.2h2.6v56.1h-2.6zM1625.4 174.3h2.5v25.1h-2.5zM1738.7 126.2h1.9v56.4h-1.9zM1640 147.6h3.1v27.6h-3.1zM1640.9 130.8h2v39.3h-2zM1705.1 137.1h2.9v45.8h-2.9zM1697.9 220.1h2.5v20.2h-2.5zM1537.2 206.8h2v30.9h-2zM1692.6 189.9h2.9v42.4h-2.9zM1608 209.7h1.8v30.3h-1.8zM1779.7 142.9h3v44.1h-3zM1687.3 175.5h2.5v53.6h-2.5zM1537.6 148.4h2.9v49.5h-2.9zM1689.9 185h2.2v44h-2.2zM1671.3 201.9h2.1v31.3h-2.1zM1605.9 146.7h2.9v39.7h-2.9zM1539.9 197.6h2.6v52.9h-2.6zM1716.8 161.6h2.3v42h-2.3zM1767.5 195h3.2v42.9h-3.2zM1664.5 153.3h2.6v42.3h-2.6zM1721 204.4h3.1v30.1h-3.1zM1691.3 132.7h2.2v44.2h-2.2zM1522.6 206.9h2.6v29.6h-2.6zM1632.7 184.1h1.9v56.5h-1.9zM1694.2 171.1h2.1v45h-2.1zM1580 138h3v34h-3zM1723.5 172.1h2.6v35.5h-2.6zM1736.3 193.5h2.4v42.3h-2.4zM1594.1 203.5h2.5v44.1h-2.5zM1672.4 131.9h2.3v51.1h-2.3zM1676.3 142.4h2v54.7h-2zM1734.6 202.4h2.1v41.9h-2.1zM1636.7 162.1h2.3v45.6h-2.3zM1672.1 141.8h1.9v27.1h-1.9zM1733.7 204.1h2.8v34.7h-2.8zM1661.4 173.7h2v58.4h-2zM1761.9 136.7h2.2v31h-2.2zM1746.5 206.9h3.2v37.1h-3.2zM1664.7 143h1.8v45.5h-1.8zM1664.9 202h3.1v41.5h-3.1zM1536.5 177.5h3.2v39h-3.2zM1690.7 173.9h2.4v36.9h-2.4zM1582.7 161.9h3v49.6h-3zM1530.8 155.5h1.9v23.6h-1.9zM1524.9 186.9h2.1v46.5h-2.1zM1739.4 149.8h2.2v24.7h-2.2zM1556.5 202.2h3.1v58.8h-3.1zM1570.4 173.5h2.6v22.7h-2.6zM1690.9 195.2h3.1v54.6h-3.1zM1601.8 197.2h2.1v38.5h-2.1zM1541.7 140.1h1.9v34.3h-1.9zM1716.7 180.3h2v31.6h-2zM1617.2 130h2v57.9h-2zM1726.5 186.2h1.9v40.4h-1.9zM1728.3 200.5h2.1v35.2h-2.1zM1681.5 150.3h2.7v23h-2.7zM1735.5 143.9h2.3v48h-2.3zM1678.4 216.9h2.8v30.6h-2.8zM1558.7 200.6h2.9v27.8h-2.9zM1736.3 167.9h2.1v26.1h-2.1zM1638 199.2h2.6v32.1h-2.6zM1690 127.1h2.9v47.4h-2.9zM1641.8 126.7h2.4v56.1h-2.4zM1765.4 183.1h2.8v59.3h-2.8zM1592.7 196.3h3.1v53.4h-3.1zM1583.3 188.8h1.8v29.4h-1.8zM1740.9 147.3h2.7v27.9h-2.7zM1775.3 205.7h3.2v43.5h-3.2zM1782.9 150h2.6v24.1h-2.6zM1678.3 206.3h2.9v51.6h-2.9zM1758.5 196.7h2.7v50.9h-2.7zM1562.7 145.7h2.8v49h-2.8zM1626.9 162.6h2.3v51.8h-2.3zM1639.5 157.7h2.1v38.3h-2.1zM1753.5 152.4h1.8v34.4h-1.8zM1615 203.2h2.6v42.8h-2.6zM1601.1 163.3h2.5v39.8h-2.5zM1645.3 213h2.7v34.1h-2.7zM1713.6 143.7h2v35.5h-2zM1661.2 178.6h2v45.9h-2zM1766.1 149.7h2.4v40.3h-2.4zM1728.5 199.2h2.7v42.6h-2.7zM1571.7 182.3h1.9v21.4h-1.9zM1556.9 207.7h2.2v26.2h-2.2zM1721.9 162.7h2v46.1h-2zM1775 129.8h3.2v42.4h-3.2zM1716 183.1h2.4v33.9h-2.4zM1716.8 164.6h2.9v43.3h-2.9zM1738 168h2.3v35h-2.3z" fill="#383838" fill-opacity="0.60"/>
</g>
<g filter="url(#b1_2x3)">
<path d="M1540.8 182.2h3.9v33.8h-3.9zM1663.9 156.9h3.4v47.4h-3.4zM1678.2 214.2h3.3v33.7h-3.3zM1621.1 187.9h3.3v28.9h-3.3zM1733 174.9h3.4v23.6h-3.4zM1605.1 135.6h2.7v30.2h-2.7zM1612.3 145h3.6v45.4h-3.6zM1613.8 162.1h2.2v57.7h-2.2zM1758.9 168.1h2.1v58.1h-2.1zM1578.8 136.2h2.7v35.1h-2.7zM1744.5 142.7h1.9v37.7h-1.9zM1532.9 177.3h2.8v55h-2.8zM1766 148.9h3.5v40h-3.5zM1770.3 126.2h2.8v59.2h-2.8zM1536.9 157.5h2.5v34.5h-2.5zM1780.9 149.9h3.5v30.7h-3.5zM1750.8 131.8h2v59.4h-2zM1525.9 181.5h2.2v43.1h-2.2zM1604.9 176.6h3.2v50h-3.2zM1554.2 196.9h2.3v43.7h-2.3zM1733.4 194h2.9v39.9h-2.9zM1562.3 197.5h3v50.9h-3zM1774.6 188.3h2.4v39.2h-2.4zM1566.8 149.1h3.6v46.7h-3.6zM1565.8 166.6h2.7v52.6h-2.7zM1739.7 165h2v27.5h-2zM1670 154.9h1.9v49.8h-1.9zM1683 159.5h1.9v34.2h-1.9zM1675.5 143.7h2v21.6h-2zM1530.1 177.8h3.3v45.5h-3.3zM1605.8 152.8h1.8v52.3h-1.8zM1660.5 149.6h2v31.1h-2zM1623 182.3h2v51.1h-2zM1583.7 149.1h3.1v25.9h-3.1zM1779.5 185.1h3.3v41.9h-3.3zM1751.3 207.9h3v25.7h-3zM1696.2 208.6h2.3v48h-2.3zM1551.2 197.2h2.9v42.4h-2.9zM1674.6 171h3.2v44.6h-3.2zM1598.9 197.2h2.1v49.8h-2.1zM1633.1 137.9h2.4v39.6h-2.4zM1557 177.4h3.8v48.7h-3.8zM1666.4 173.7h2.8v50.6h-2.8zM1704.6 169h3.4v45.8h-3.4zM1541.6 145h2.6v32.6h-2.6zM1702.6 164.4h3.2v48.6h-3.2zM1770.9 164.5h2.4v59.2h-2.4zM1609.4 194.1h2.3v36h-2.3zM1688.9 196.8h3.8v58.5h-3.8zM1654.3 191.3h3.4v40.5h-3.4zM1715.7 165.1h2.7v32.7h-2.7zM1558 207.5h2.9v40.5h-2.9zM1705.7 150h2v45.1h-2zM1587.9 146.5h2.9v35.6h-2.9zM1763.7 164.8h3.8v51.1h-3.8zM1695.1 169.9h2.1v54.7h-2.1zM1560.7 189.9h3.8v55.2h-3.8zM1749 189.5h2.8v51.1h-2.8zM1707.3 180.7h2.8v44.9h-2.8zM1722.2 130.3h3.2v56.7h-3.2zM1545.2 213.7h3.7v38.2h-3.7zM1673.7 167.8h2.3v33.2h-2.3zM1770.6 139.9h2.8v31.1h-2.8zM1687.4 213.9h3.1v28.6h-3.1zM1776.7 155.2h3.6v55.7h-3.6zM1602.1 135.2h3.8v54.9h-3.8zM1578.6 208.9h3.5v28h-3.5zM1549.2 183.6h2.5v28h-2.5zM1523.5 163.5h1.8v21.9h-1.8zM1580.1 174.7h3.1v34.2h-3.1zM1577.2 175.8h3.1v36.2h-3.1zM1651.7 187.3h3.8v23.9h-3.8zM1745.3 194h2.7v45.4h-2.7zM1754.7 202.9h3.4v23.4h-3.4zM1583.1 147.7h3.8v28.6h-3.8zM1628.4 193.7h3.6v31.1h-3.6zM1756.9 164.7h3.6v25.9h-3.6zM1762.9 134.4h3.6v35.5h-3.6zM1695.3 188.8h3.8v55.8h-3.8zM1732.1 139.3h3.8v36.8h-3.8zM1579.9 141.7h3.4v60h-3.4zM1682.3 204.1h2.9v41.3h-2.9zM1535.8 200.9h3.8v21.6h-3.8zM1673.9 165.2h1.9v58.7h-1.9zM1704.4 144.6h3.9v25.8h-3.9zM1675.7 134h2.4v58h-2.4zM1736.7 127.5h3.5v45.8h-3.5zM1763 143.3h2.8v21.1h-2.8zM1680.8 152.4h3.9v35.4h-3.9zM1781.9 217.9h3.5v26.1h-3.5zM1781 191.9h3.3v58.9h-3.3zM1671.3 171.6h3.5v35.4h-3.5zM1638.3 150.8h3.6v21.9h-3.6zM1605.8 177.8h3.2v31h-3.2zM1747.9 192.7h2.2v39.9h-2.2zM1717.5 169h2.7v38.4h-2.7zM1566.8 182.8h2.9v49h-2.9zM1626.8 187.7h3.5v20.9h-3.5zM1545.8 198.1h2.4v25.2h-2.4zM1646.1 194.3h1.9v58.2h-1.9zM1693.3 164.5h2v31.9h-2zM1610 194.8h3.1v54.8h-3.1z" fill="#000000"/>
</g>
<g filter="url(#b4x5)">
<polygon points="1707.7,181.8 1726.3,181.8 1726.3,209.8 1707.7,209.8" fill="#000000" fill-opacity="0.80"/>
<polygon points="1558.5,186.5 1600.5,177.2 1605.1,221.4 1563.2,233.1" fill="#000000" fill-opacity="0.70"/>
</g>
<g filter="url(#b3x3)">
<rect x="1567.8" y="164.1" width="146.9" height="5.1" fill="#474747" fill-opacity="0.70"/>
</g>
<g filter="url(#b2x2)">
<path d="M1605.1 163.2h7v7h-7zM1623.8 163.2h11.7v7h-11.7zM1661.1 163.2h7v7h-7zM1675.1 163.2h4.7v7h-4.7zM1696 163.2h9.3v7h-9.3z" fill="#808080"/>
</g>
<g filter="url(#b3x3)">
<rect x="1633.1" y="216.8" width="153.8" height="4.7" fill="#454545" fill-opacity="0.70"/>
</g>
<g filter="url(#b2x2)">
<path d="M1649.4 215.6h18.6v7h-18.6zM1719.3 215.6h11.7v7h-11.7zM1742.7 215.6h18.6v7h-18.6zM1768.3 215.6h4.7v7h-4.7z" fill="#8c8c8c"/>
</g>
<g filter="url(#b1x4)">
<rect x="1533.8" y="158.5" width="3.7" height="86.2" fill="#737373"/>
<rect x="1508.4" y="198.1" width="2.3" height="35" fill="#8c8c8c"/>
<rect x="1571.3" y="233.1" width="2.3" height="60.6" fill="#808080"/>
<rect x="1769.5" y="130.5" width="2.3" height="102.6" fill="#737373"/>
<rect x="1753.1" y="221.4" width="2.3" height="72.3" fill="#333333"/>
</g>
<g filter="url(#b1x3)">
<path d="M1456 165.4h3.1v23.8h-3.1zM1473.3 168.3h3v16.1h-3zM1446.4 155.8h3.6v10.8h-3.6zM1460.1 160.6h3.1v23h-3.1zM1488.2 197.7h3.1v16.1h-3.1zM1489.4 183.4h2.9v33.9h-2.9zM1490.2 198.3h2.5v16.5h-2.5zM1485.6 156.5h2.5v11.5h-2.5zM1483.4 145.8h2.3v28.4h-2.3zM1445.6 176.1h2.2v39.2h-2.2z" fill="#2e2e2e" fill-opacity="0.80"/>
<path d="M1988.3 151.8h2.1v9.4h-2.1zM1946.4 158.8h2.9v12.2h-2.9zM1956.4 148.5h2.9v13.4h-2.9zM1947.1 149.2h2v14.2h-2zM1932.9 154h2.4v19.4h-2.4zM1954.7 141.6h3v18.5h-3zM1923 157.9h2.9v19.1h-2.9zM1965.9 155.7h2.7v12h-2.7z" fill="#262626" fill-opacity="0.80"/>
</g>
<g filter="url(#b2x2)">
<path d="M1936.1 215.6h63.9v7h-63.9z" fill="#4c4c4c"/>
</g>
<g filter="url(#b1_5x1_5)">
<path d="M1950.1 217.6h49.9v3h-49.9z" fill="#6b6b6b"/>
</g>
<g filter="url(#b1x1)">
<path d="M1598.1 268.4h1.4v4h-1.4zM1614.5 268.4h1.4v4h-1.4zM1700.7 268.4h2.3v4h-2.3zM1714.7 268.4h2.3v4h-2.3z" fill="#333333"/>
<path d="M1729.8 267.9h3.5v5h-3.5zM1748.5 267.9h4.7v5h-4.7zM1763.6 267.9h3.5v5h-3.5z" fill="#666666"/>
</g>
<g filter="url(#b3x5)">
<polygon points="1400,235.3 1430.3,235.3 1428,298.3 1414,344.9 1400,344.9" fill="#262626"/>
</g>
<g filter="url(#b1x3)">
<path d="M1412.7 259.2h1.9v43h-1.9zM1419.2 282.5h2.5v40.2h-2.5zM1425.6 281.1h2.3v46.9h-2.3zM1408.5 230.4h2.2v34.9h-2.2zM1424.7 258.4h2.8v28h-2.8zM1399.5 314h2.6v33.9h-2.6zM1419 237.7h3.1v29.1h-3.1zM1427.8 241.1h2.5v29.2h-2.5zM1417.7 230.8h1.9v29.7h-1.9zM1400.8 301.2h2v29.2h-2zM1414.2 236.3h3.2v28.8h-3.2zM1416.1 240.3h2.2v38.9h-2.2zM1419.8 290.1h3.2v48h-3.2zM1412.5 218.6h2v46.4h-2zM1398.9 252.4h2.9v25.6h-2.9zM1406.5 258.8h2.8v42.4h-2.8zM1410.8 257.1h2.5v33.9h-2.5z" fill="#4c4c4c" fill-opacity="0.70"/>
</g>
<g filter="url(#b1x4)">
<rect x="1571.6" y="235.3" width="2.8" height="144.5" fill="#999999"/>
<rect x="1538.2" y="275" width="3.3" height="95.6" fill="#4c4c4c"/>
<rect x="1526.8" y="275" width="1.9" height="35" fill="#4c4c4c"/>
<rect x="1753.1" y="235.3" width="2.3" height="109.6" fill="#404040"/>
<rect x="1769.7" y="235.3" width="1.9" height="109.6" fill="#404040"/>
<rect x="1728.2" y="328.6" width="1.9" height="51.3" fill="#4c4c4c"/>
</g>
<g filter="url(#b1_2x1_2)">
<path d="M1637.8 304.8h8.2v8h-8.2zM1684.4 304.8h4.7v8h-4.7zM1783.4 304.8h2.3v8h-2.3z" fill="#595959"/>
<path d="M1698.4 304.8h17.5v8h-17.5z" fill="#808080"/>
</g>
<g filter="url(#b1x1)">
<path d="M1668.1 304.8h2.3v8h-2.3z" fill="#999999"/>
<path d="M1619.1 324.7h4.7v4h-4.7zM1665.7 324.7h5.8v4h-5.8z" fill="#383838"/>
<path d="M1729.8 268.3h2.3v4h-2.3zM1749.7 268.3h2.8v4h-2.8zM1764.8 268.3h2.3v4h-2.3z" fill="#666666"/>
<path d="M1567.8 273h7v4h-7zM1581.8 273h3.5v4h-3.5z" fill="#4c4c4c"/>
<path d="M1962.9 319.6h5.8v4h-5.8z" fill="#4c4c4c"/>
<path d="M1980.4 273.5h11.7v3h-11.7z" fill="#262626"/>
</g>
<g filter="url(#b3x3)">
<polygon points="1400,356.6 1435,361.2 1586.5,356.6 1586.5,377.5 1400,377.5" fill="#2e2e2e" fill-opacity="0.60"/>
<polygon points="1705.4,358.9 1796.3,356.6 1796.3,377.5 1705.4,377.5" fill="#2e2e2e" fill-opacity="0.60"/>
<polygon points="1658.7,365.9 1677.4,365.9 1677.4,379.9 1658.7,379.9" fill="#333333"/>
</g>
<g filter="url(#b3x5)">
<polygon points="1400,379.9 1446.6,379.9 1444.3,421.8 1423.3,445.1 1409.3,454.5 1400,440.5" fill="#666666"/>
</g>
<g filter="url(#b1_2x3)">
<path d="M1416.4 409.7h1.7v28.9h-1.7zM1418.6 368.3h1.9v45.2h-1.9zM1421.4 370.3h2.9v26.8h-2.9zM1435.5 363.8h2.6v37.7h-2.6zM1433.5 384.4h2.2v21.9h-2.2zM1428.6 379.1h1.5v39h-1.5zM1434.3 363.7h2.7v40.4h-2.7zM1404.2 403.6h1.5v20.6h-1.5zM1436.3 397.3h2.2v49h-2.2zM1426.9 404.4h2.1v33.1h-2.1zM1442.1 383.1h2.2v46.5h-2.2zM1434 391.9h2v48.4h-2zM1424.9 369.8h2.4v37.1h-2.4zM1405.1 366.7h2.5v38h-2.5zM1403.3 383.1h2v42h-2zM1431.2 371.1h2.4v21.6h-2.4zM1401.5 368.3h3v43.6h-3z" fill="#ffffff"/>
</g>
<g filter="url(#b3x5)">
<polygon points="1455.9,382.2 1511.9,382.2 1509.6,414.8 1479.3,461.4 1458.3,459.1" fill="#4c4c4c"/>
<polygon points="1460.6,382.2 1493.2,382.2 1490.9,414.8 1474.6,449.8 1460.6,440.5" fill="#999999"/>
</g>
<g filter="url(#b2x4)">
<polygon points="1466.4,384.5 1480.4,384.5 1479.3,421.8 1469.9,438.1 1465.3,421.8" fill="#ffffff"/>
</g>
<g filter="url(#b3x5)">
<polygon points="1523.5,382.2 1586.5,382.2 1584.1,426.5 1572.5,468.4 1535.2,461.4 1525.9,414.8" fill="#4c4c4c"/>
</g>
<g filter="url(#b3x4)">
<polygon points="1535.2,382.2 1580.7,382.2 1579.5,426.5 1570.2,463.8 1560.8,449.8 1551.5,461.4 1539.9,449.8" fill="#999999"/>
</g>
<g filter="url(#b2x4)">
<polygon points="1544.5,381 1578.3,381 1577.2,426.5 1571.3,456.8 1565.5,438.1 1560.8,447.5 1553.8,435.8 1546.9,426.5" fill="#ffffff"/>
</g>
<g filter="url(#b1_2x3)">
<path d="M1507.3 370.5h1.8v44.7h-1.8zM1494.2 378.6h2.4v38.3h-2.4zM1494.8 380h2.3v45.5h-2.3zM1493 391.2h1.6v44.4h-1.6zM1501.9 394.6h1.6v29.6h-1.6zM1493.7 394.5h2.3v26.1h-2.3zM1496 366.4h1.7v36.8h-1.7zM1500.7 382.6h1.4v45.2h-1.4zM1506.4 393h1.5v33.8h-1.5zM1493.6 396.1h2.3v23.2h-2.3z" fill="#ffffff"/>
</g>
<g filter="url(#b1_2x1_2)">
<path d="M1431.5 350.1h5.8v6h-5.8zM1446.6 350.1h4.7v6h-4.7zM1771.8 350.1h17.5v6h-17.5zM1797.4 350.1h4.7v6h-4.7zM1811.4 350.1h4.7v6h-4.7z" fill="#ffffff"/>
<path d="M1462.9 350.1h21v6h-21zM1940.8 350.1h12.8v6h-12.8zM1994.4 350.1h5.6v6h-5.6z" fill="#666666"/>
</g>
<g filter="url(#b1_5x1_5)">
<path d="M1443.1 369.4h3.5v7h-3.5zM1458.3 369.4h49v7h-49zM1521.2 369.4h42v7h-42zM1616.8 369.4h15.2v7h-15.2zM1671.6 369.4h4.7v7h-4.7zM1790.4 369.4h29.1v7h-29.1z" fill="#ffffff"/>
<path d="M1658.7 369.4h12.8v7h-12.8z" fill="#999999"/>
</g>
<g filter="url(#b2x3)">
<polygon points="1469.9,354.2 1481.6,354.2 1483.9,372.9 1467.6,372.9" fill="#ffffff"/>
<polygon points="1537.5,363.5 1560.8,356.6 1563.2,374 1537.5,374" fill="#ffffff"/>
<polygon points="1570.2,351.9 1577.2,351.9 1578.3,377.5 1569,377.5" fill="#f2f2f2"/>
</g>
<g filter="url(#b1_5x1_5)">
<path d="M1597 375.7h16.3v6h-16.3z" fill="#999999"/>
</g>
<g filter="url(#b1_2x1_2)">
<path d="M1400 376.4h186.5v5h-186.5zM1726.3 376.4h65.3v5h-65.3z" fill="#000000"/>
</g>
<g filter="url(#b3x4)">
<polygon points="1703,382.2 1796.3,382.2 1796.3,403.2 1773,419.5 1710,417.2" fill="#292929" fill-opacity="0.70"/>
</g>
<g filter="url(#b1_3x4)">
<path d="M1776.1 368.2h5.8v34.6h-5.8zM1725.5 385.7h3.1v22.9h-3.1zM1762 392.2h3.6v33.9h-3.6zM1735.6 388.9h5.5v24.7h-5.5zM1716.3 383h5.9v28.1h-5.9zM1778.8 369.7h5.3v37.2h-5.3zM1735.4 377.9h3.3v22.9h-3.3zM1727.4 390.5h5.6v25.1h-5.6z" fill="#6b6b6b" fill-opacity="0.80"/>
</g>
<g filter="url(#b2x4)">
<polygon points="1727.5,340.2 1735.7,365.9 1738,403.2 1734.5,440.5 1728.7,440.5" fill="#999999"/>
</g>
<g filter="url(#b1_5x4)">
<polygon points="1728.7,370.5 1733.3,370.5 1734.5,417.2 1729.1,417.2" fill="#ffffff"/>
</g>
<g filter="url(#b3x4)">
<polygon points="1926.8,384.5 2000,389.2 2000,412.5 1947.8,419.5 1926.8,407.8" fill="#212121" fill-opacity="0.70"/>
<polygon points="1668.1,382.2 1684.4,382.2 1684.4,403.2 1668.1,403.2" fill="#262626"/>
</g>
<g filter="url(#b0_8x1_5)">
<path d="M1486.3 480.8h1.7v4.2h-1.7zM1814.4 475.4h2v4h-2zM1983.7 484.3h2v5h-2zM1895.5 480.9h2.7v4.9h-2.7zM1555 494.6h1.6v7.6h-1.6zM1598 492.1h2.2v3.4h-2.2zM1435.9 473.9h1.7v3.9h-1.7zM1561.5 476.6h2.5v5.3h-2.5zM1504.3 471.1h2.5v5.8h-2.5zM1954.8 473.4h1.8v7.7h-1.8zM1562.1 496.2h3v5.7h-3zM1830.3 474.5h2.8v6.1h-2.8zM1709.3 470.8h2.5v5.7h-2.5zM1616 495.4h3v6.8h-3zM1472.8 497.3h1.5v6.6h-1.5zM1829.7 482.3h2.2v4.2h-2.2zM1619.2 477.1h2.6v5.8h-2.6zM1848.1 490.5h2.2v5.7h-2.2zM1429.8 480.5h2.3v5.4h-2.3zM1992.3 475.3h2.3v5.3h-2.3zM1517.2 494h1.9v4.3h-1.9zM1842.1 477.7h2.9v4.3h-2.9zM1540.5 473.4h2.4v5.5h-2.4zM1867.2 498.4h1.5v5h-1.5zM1823.3 479.4h2.8v4.8h-2.8zM1624.2 485.4h2.7v5.5h-2.7zM1572.9 492.7h2.9v4.7h-2.9zM1559.2 473.7h2.6v7.3h-2.6zM1716.2 496.3h2.1v6h-2.1zM1858.1 485.8h2.3v3.7h-2.3zM1685 487.3h2.5v6.8h-2.5zM1439.9 490h2.2v6.6h-2.2zM1785.1 498.6h2.1v4.5h-2.1zM1453.8 497.3h2.2v4.8h-2.2zM1921.3 478.4h3v5.3h-3zM1834.9 480.1h1.8v3.3h-1.8zM1637.2 479.1h1.6v6.7h-1.6zM1534 483.1h2v5.5h-2zM1884.5 493.8h2.2v4.8h-2.2zM1716.1 494.4h2.4v6h-2.4zM1532 476.1h2v4h-2zM1967.7 478.3h1.7v3.3h-1.7zM1433.3 497.4h2.8v3.2h-2.8zM1601.2 483h2.7v7.1h-2.7zM1512 499h2.5v4.1h-2.5z" fill="#262626" fill-opacity="0.70"/>
</g>
<g filter="url(#b1_2x1_2)">
<path d="M1883.2 113.5h18v5h-18zM2000.1 113.5h24.7v5h-24.7zM2031.6 113.5h15.7v5h-15.7zM2063.1 113.5h15.7v5h-15.7zM2094.5 113.5h105.7v5h-105.7zM2207 113.5h36v5h-36zM2308.1 113.5h18v5h-18zM2422.8 113.5h15.7v5h-15.7zM2449.8 113.5h15.7v5h-15.7zM2470 113.5h15.7v5h-15.7z" fill="#c7c7c7"/>
</g>
<g filter="url(#b1x1)">
<path d="M2001 108.1h1.3v14h-1.3zM2197.5 108.1h1.8v14h-1.8z" fill="#e6e6e6"/>
</g>
<g filter="url(#b1_5x1_5)">
<path d="M1917.8 130h8.1v8h-8.1zM1973.1 130h6.7v8h-6.7zM2015.8 130h15.7v8h-15.7zM2117 130h24.7v8h-24.7zM2321.6 130h29.2v8h-29.2zM2443 130h9v8h-9zM2454.3 130h11.2v8h-11.2zM2474.5 130h9v8h-9z" fill="#454545" fill-opacity="0.90"/>
<path d="M2141.8 129.5h18v9h-18zM2182.2 129.5h24.7v9h-24.7z" fill="#737373"/>
</g>
<g filter="url(#b1_2x1_2)">
<path d="M2164.2 97.8h13.5v5h-13.5z" fill="#f2f2f2"/>
<path d="M2153 97.8h2.2v5h-2.2zM2186.7 97.8h4.5v5h-4.5zM2213.7 97.8h6.7v5h-6.7zM2229.4 97.8h6.7v5h-6.7z" fill="#b2b2b2"/>
</g>
<g filter="url(#b3x3)">
<rect x="1930.4" y="214" width="564.3" height="9.9" fill="#333333"/>
</g>
<g filter="url(#b2x1_5)">
<path d="M1934.9 216h559.9v6h-559.9z" fill="#808080"/>
<path d="M2015.8 216.5h36v5h-36zM2110.3 216.5h384.5v5h-384.5z" fill="#adadad"/>
</g>
<g filter="url(#b2x1_3)">
<path d="M2141.8 216.7h157.4v4.5h-157.4z" fill="#f2f2f2"/>
</g>
<g filter="url(#b2x1_2)">
<path d="M2339.6 217.5h27v3h-27zM2384.6 217.5h22.5v3h-22.5zM2456.5 217.5h38.2v3h-38.2z" fill="#cccccc"/>
</g>
<g filter="url(#b4x4)">
<polygon points="2139.5,148.4 2173.2,139.4 2231.7,152.9 2294.6,164.1 2249.7,177.6 2195.7,179.9 2177.7,211.3 2177.7,233.8 2146.3,236.1 2141.8,188.9" fill="#242424" fill-opacity="0.80"/>
</g>
<g filter="url(#b3x3)">
<polygon points="2148.5,152.9 2173.2,150.6 2204.7,166.4 2173.2,175.4 2159.7,211.3 2150.8,211.3" fill="#3d3d3d" fill-opacity="0.80"/>
</g>
<g filter="url(#b1x3)">
<path d="M2231.4 166.8h1.5v11.4h-1.5zM2194.6 187.5h2.7v26.3h-2.7zM2152 208.4h1.6v26.4h-1.6zM2190.1 189.1h2.6v14.2h-2.6zM2147.6 215.7h1.8v15.7h-1.8zM2149.9 169.6h1.9v19.6h-1.9zM2214.7 149.3h2.8v25.9h-2.8zM2168.3 182.3h2.5v17.3h-2.5zM2158.2 195.5h2.7v23.4h-2.7zM2189.7 143.7h1.7v10.3h-1.7zM2159.7 201h2.9v26.4h-2.9zM2245.3 140.4h2.7v16.6h-2.7zM2166.6 203.6h2.3v25.4h-2.3zM2176 166.2h2.6v23.5h-2.6zM2196.8 179.5h2.6v24.3h-2.6zM2145 214.6h2v26.6h-2zM2175.7 204.3h1.9v17.3h-1.9zM2164.6 160.6h2v18.7h-2zM2176.5 175.3h2.8v13.8h-2.8zM2144.1 156.2h1.6v25.5h-1.6zM2168 184.6h1.8v21.8h-1.8zM2214.8 145.4h1.6v21.1h-1.6zM2183.5 150.5h2.4v25.2h-2.4zM2221.8 162.5h2.1v28.5h-2.1zM2145.4 138.2h2.2v30h-2.2zM2221 183.3h2v15.2h-2zM2158.7 154.5h2.7v23.7h-2.7zM2148.7 155.4h2.9v26.6h-2.9zM2156.5 159.2h2.4v21h-2.4zM2154.4 159.9h2.2v13.1h-2.2z" fill="#404040" fill-opacity="0.60"/>
</g>
<g filter="url(#b2x2)">
<ellipse cx="2157.5" cy="166.4" rx="6.3" ry="7.2" fill="#808080"/>
</g>
<g filter="url(#b1x2)">
<path d="M2024.8 149.8h2.3v12.6h-2.3zM2089.9 139.6h2.2v17.2h-2.2zM2044.9 162.2h1.9v12.3h-1.9zM1985.4 140.4h1.6v14.2h-1.6zM1983.4 149.6h2.9v19.9h-2.9zM2078.9 143.4h2.1v18.8h-2.1zM1971.3 159.4h1.9v13.4h-1.9zM2034.9 160.8h2.6v18.1h-2.6zM1993.6 145.8h2.8v15h-2.8zM2067.5 140h1.6v13.1h-1.6zM1985.3 141.6h2.7v19h-2.7zM1969.4 141.5h1.8v10.2h-1.8zM2067.7 150.1h3v8.2h-3zM2030.4 141.2h2.8v12.6h-2.8zM1972.1 155.5h2.8v8.2h-2.8zM1970.4 163.7h2.1v9.2h-2.1zM2109.1 164.3h2.1v10.4h-2.1zM1929.9 155.5h2.7v16.9h-2.7zM2061.7 146h1.9v14.9h-1.9zM2081.8 150.3h2.3v12.7h-2.3zM2087.7 159.9h1.9v19.5h-1.9zM2085.8 146.7h1.9v16.2h-1.9zM2031.8 150h3v19.8h-3zM2064.2 153.4h1.7v8.9h-1.7zM2087 145h2.5v11.6h-2.5zM1967.5 157.9h1.8v8.8h-1.8z" fill="#262626" fill-opacity="0.80"/>
</g>
<g filter="url(#b1_2x1_2)">
<ellipse cx="2075.2" cy="146.1" rx="3.1" ry="2.7" fill="#e6e6e6"/>
<path d="M2242.9 273.2h20.2v4h-20.2zM2285.7 273.2h9v4h-9zM2321.6 273.2h9v4h-9zM2355.4 273.2h11.2v4h-11.2zM2429.6 273.2h9v4h-9z" fill="#404040"/>
<path d="M1979.9 273.2h11.2v4h-11.2z" fill="#333333"/>
<path d="M1939.4 350.5h13.5v5h-13.5zM1993.4 350.5h27v5h-27zM2065.3 350.5h4.5v5h-4.5zM2083.3 350.5h4.5v5h-4.5zM2186.7 350.5h4.5v5h-4.5z" fill="#595959"/>
<path d="M1811.2 350.5h4.5v5h-4.5zM2103.5 350.5h11.2v5h-11.2zM2121.5 350.5h11.2v5h-11.2zM2207 350.5h4.5v5h-4.5zM2460.1 350.5h3.6v5h-3.6zM2481.3 350.5h4.5v5h-4.5z" fill="#f2f2f2"/>
<path d="M2058.6 369.3h4.5v6h-4.5zM2082.4 369.3h18v6h-18zM2108 369.3h3.1v6h-3.1zM2165.1 369.3h14.8v6h-14.8zM2231.7 369.3h13.5v6h-13.5z" fill="#ffffff"/>
<path d="M1800 375.2h20.2v5h-20.2z" fill="#999999"/>
<path d="M2328.4 371.5h4.5v8h-4.5z" fill="#737373"/>
<path d="M1961.9 319.5h6.7v4h-6.7z" fill="#4c4c4c"/>
</g>
<g filter="url(#b4x4)">
<polygon points="1925.9,384.5 1970.9,382.2 1970.9,418.2 1925.9,418.2" fill="#292929" fill-opacity="0.80"/>
<polygon points="1970.9,391.2 2200.2,393.5 2200.2,411.5 1970.9,413.7" fill="#1a1a1a" fill-opacity="0.80"/>
</g>
<g filter="url(#b1x3)">
<path d="M1964.1 385.4h3v24.5h-3zM2147 400.9h3.4v12.3h-3.4zM2174.8 390.1h3.2v11.5h-3.2zM2009 403.1h2.2v11.3h-2.2zM2013.7 384.6h3v17.3h-3zM1974.4 375h2.7v14.6h-2.7zM2072 391.6h3.4v16.6h-3.4zM2029.4 392.6h3.8v19.9h-3.8zM1931.2 379.4h3.9v24.5h-3.9zM2006.8 383h2v11.9h-2zM1943.7 405.6h3.9v15.1h-3.9zM1931.6 399.3h3.2v23.6h-3.2zM2006.7 399.3h3.6v20.1h-3.6zM2108.2 392.2h2.9v24.3h-2.9zM1951.9 386.4h2.7v17.3h-2.7zM2154.9 376.2h2.8v16.7h-2.8zM2027.6 391.8h3.4v19.4h-3.4zM2062.5 382.7h4v22.2h-4zM2106.8 374.6h2.8v20.4h-2.8zM1976.3 389.7h2.9v12.1h-2.9zM2155.5 404h2.6v12.4h-2.6zM1995.2 394.2h2.4v21.1h-2.4zM2174.3 374.8h3.4v20.5h-3.4zM2094.9 396.8h2.6v12.1h-2.6zM2174.4 377h3.8v22h-3.8zM2031.5 390.7h2.6v13.5h-2.6zM2146.2 372.3h2.4v24.6h-2.4zM2022 390.6h3.2v20.3h-3.2zM2155.5 399.8h2.6v15.1h-2.6zM2196.5 403.7h2.9v14.3h-2.9zM2032.5 402.8h2.5v10.6h-2.5zM1953.9 382.7h3.8v12.3h-3.8zM1961.7 393.1h3.8v24.6h-3.8zM2169.9 399.2h3.7v24.3h-3.7zM2053.8 402.9h2.1v13.8h-2.1zM2182.6 385.5h3v20.4h-3zM2031.7 377.3h3.7v13.2h-3.7zM2170.2 387.5h3.1v24.8h-3.1zM2022.3 395.3h2.4v21.9h-2.4zM2004.7 398h2.9v22.9h-2.9z" fill="#383838" fill-opacity="0.70"/>
<path d="M2412.3 392h1.9v12.5h-1.9zM2345.9 383.1h2.1v11.7h-2.1zM2460.1 356.4h2v11.6h-2zM2458.7 371.7h2.7v18.8h-2.7zM2372.7 371.1h2v17.4h-2zM2341.4 386.3h2.3v14.9h-2.3zM2366.2 394.9h2.3v13.5h-2.3zM2477.7 381.2h2.3v10.8h-2.3zM2473.4 384.7h2.7v14.7h-2.7zM2475.2 356.6h2.3v17.8h-2.3zM2435.7 380.8h2.8v13.7h-2.8zM2421 373.4h3.2v11.3h-3.2zM2376.7 366.2h2v15.4h-2zM2424.3 353.5h2.2v18.6h-2.2zM2378.4 384.9h2.4v9.9h-2.4zM2482.7 380.8h2.2v15h-2.2zM2382.8 388.8h1.8v13.2h-1.8zM2432.4 388.5h2v8.6h-2zM2405.8 381.9h2.5v8.7h-2.5zM2378 381.7h2.6v19.3h-2.6zM2346 380.8h2.7v13.3h-2.7zM2348 371.7h2.3v10h-2.3zM2462.7 354.5h1.9v18.8h-1.9zM2479.7 380.5h2.5v16.6h-2.5zM2346.3 366.5h2.5v9.4h-2.5zM2470 378.6h2.1v15.3h-2.1zM2462.8 380.3h3.1v17.2h-3.1zM2419.7 395.1h3.1v11.4h-3.1zM2370 357.8h2.8v17.7h-2.8zM2418.1 398.8h2.3v10.7h-2.3zM2390.9 381.1h2.4v19.1h-2.4zM2392.4 391.7h2.8v14.3h-2.8zM2483.5 380.2h3.1v19.9h-3.1zM2443.8 369.7h2.2v19.3h-2.2zM2391.8 396.5h2.2v10.6h-2.2zM2476.7 382.6h2v13.5h-2zM2373.2 370.9h2.8v16.3h-2.8zM2471 398.3h2.3v11.8h-2.3zM2484.4 378.8h2.9v9.7h-2.9zM2367.3 365.8h2.4v13.3h-2.4zM2466.6 383.8h2.5v19.5h-2.5zM2485.3 396.6h2.1v11.9h-2.1zM2345.9 362.5h3v8.9h-3zM2437.7 356h3v8.7h-3zM2433.1 391.8h2.4v13.6h-2.4zM2475.1 391.3h3.1v14.9h-3.1zM2461.9 391.3h2.6v16.2h-2.6zM2438.5 362.2h2.8v12.9h-2.8zM2453.4 375.8h3v13h-3zM2453.6 365.2h2.8v12.2h-2.8zM2345.8 356.6h2.8v10.8h-2.8z" fill="#2b2b2b" fill-opacity="0.80"/>
</g>
<g filter="url(#b1x2)">
<path d="M2164.1 369.1h2.1v6h-2.1zM2246.4 359h2.4v10h-2.4zM2106.9 364.5h3.2v10.4h-3.2zM2171.4 356.7h2.9v13.1h-2.9zM2162.2 361.1h2.3v13.5h-2.3zM1947.5 365.7h2.3v10h-2.3zM2150.2 363.2h2v7.6h-2zM2066.8 360.2h2.2v7h-2.2zM2163.6 364h2.9v6.2h-2.9zM2173.1 368.2h3.5v9.8h-3.5zM2157.7 363h2.3v10.4h-2.3zM2127.5 358h2.5v8.5h-2.5zM2048.8 357.4h3.9v13.1h-3.9zM2086.8 355.7h3.8v12.8h-3.8zM1939.2 364.3h2v12.8h-2zM2120.4 368.7h3.3v7.2h-3.3zM2099.5 366.3h2.8v11h-2.8zM2045 364.6h2.7v8.2h-2.7zM1935 365.6h3.2v13.1h-3.2zM2152 357h2.1v13.8h-2.1z" fill="#333333" fill-opacity="0.80"/>
</g>
<g filter="url(#b1_2x1_2)">
<path d="M2317.1 61h6.7v4h-6.7zM2384.6 61h18v4h-18zM2429.6 61h18v4h-18zM2456.5 61h22.5v4h-22.5z" fill="#2b2b2b"/>
</g>
<g filter="url(#b1x1)">
<path d="M2074.3 25.4h2.2v5h-2.2zM2186.7 25.4h1.8v5h-1.8zM2229.4 25.4h1.8v5h-1.8z" fill="#737373"/>
<path d="M2217.8 23.9h1.3v8h-1.3z" fill="#e6e6e6"/>
<path d="M1992.5 32.2h4.5v3h-4.5zM2021.2 32.2h2.7v3h-2.7z" fill="#404040"/>
<path d="M1905.2 67.7h3.6v4h-3.6z" fill="#4c4c4c"/>
<path d="M2049.6 88.4h6.7v3h-6.7z" fill="#383838"/>
</g>
<g filter="url(#b0_8x1_5)">
<path d="M1936.5 483.3h1.7v7.5h-1.7zM1930.8 478.4h2.7v7.5h-2.7zM2199.4 485.5h2.3v7.2h-2.3zM1953.3 486.5h2.4v5.3h-2.4zM2095.2 465.3h2.3v5.2h-2.3zM2224.7 478.7h2.9v6.4h-2.9zM2243.5 470.7h2.1v7.7h-2.1zM2039.8 470.9h2.1v3.7h-2.1zM2369 485h1.8v7.7h-1.8zM2113.4 476.3h2.8v3.8h-2.8zM1978.8 478.4h2.8v4.8h-2.8zM2181.8 470.5h1.9v4.8h-1.9zM2291.1 491.5h2.7v3.7h-2.7zM2108.9 470.4h2.6v4.6h-2.6zM2466.3 491.3h2.8v4.7h-2.8zM2456 488.1h1.7v7.8h-1.7zM1887.7 496.7h1.9v4.3h-1.9zM2165.4 465.6h2.6v6.7h-2.6zM1849.3 488.9h2.3v5.5h-2.3zM2167.3 487.7h3v6h-3zM1954.4 487.8h2.1v5.2h-2.1zM2035 484h1.9v7.1h-1.9zM2088.1 486.3h1.9v4.6h-1.9zM2267.2 476.8h2.3v3.7h-2.3zM2263.7 479.5h1.7v5.5h-1.7zM1935.6 467.8h1.9v4h-1.9zM2016.5 465.5h2.9v7.1h-2.9zM2265.4 490.6h2.1v3.4h-2.1zM1816.8 477.3h2.9v5.5h-2.9zM2294.1 488.8h1.7v7.9h-1.7zM2405.9 472.5h1.6v7.7h-1.6zM2427.8 470.8h2v3.7h-2zM1870.6 485.9h1.6v6.9h-1.6zM1949.2 495.5h2.8v7.3h-2.8zM1917.1 481.5h1.6v5.3h-1.6zM1873.4 489.8h2.9v4.1h-2.9zM2346.6 488.6h2.7v6.7h-2.7zM2121.7 470.6h1.6v5.3h-1.6zM1942.6 465.3h1.6v5.9h-1.6zM2134.2 476.9h2.5v5.2h-2.5z" fill="#262626" fill-opacity="0.70"/>
</g>
</g></g>
<path d="M460.5 11.7L460.5 18.7L460.5 25.7L460.5 32.7L460.4 39.7L460.5 46.7L461.5 53.7L463.3 60.7L465.3 67.7L467.2 74.7L469.3 81.8L472 88.8L475.1 95.8L478.2 102.8L481.4 109.8L484.6 116.8L488 123.8L491.4 130.8L494.6 137.8L497.7 144.8L500.8 151.8L503.8 158.8L506.7 165.8L509.4 172.8L511.8 179.8L513.8 186.8L515.5 193.8L517.2 200.8L518.9 207.8L520.5 214.8L522.2 221.9L524 228.9L526.1 235.9L528.5 242.9L531 249.9L533.6 256.9L536 263.9L538.2 270.9L540.2 277.9L542.1 284.9L544.1 291.9L546.2 298.9L548.5 305.9L551 312.9L553.5 319.9L556 326.9L558.3 333.9L560.5 340.9L562.6 347.9L564.6 354.9L566.5 362L568.2 369L569.7 376L571 383L572.1 390L573.2 397L574.1 404L575 411L575.8 418L576.6 425" fill="none" stroke="#39843f" stroke-width="12.5" stroke-linecap="round" stroke-linejoin="round"/>
<path d="M634.8 11.7L635.6 18.7L636.3 25.7L637.2 32.7L638.3 39.7L639.5 46.7L640.7 53.7L642 60.7L643.4 67.7L644.8 74.7L646.2 81.8L647.8 88.8L649.5 95.8L651.5 102.8L653.9 109.8L656.5 116.8L659.2 123.8L661.9 130.8L664.5 137.8L667.2 144.8L669.9 151.8L672.6 158.8L675.3 165.8L678 172.8L680.7 179.8L683.4 186.8L686.1 193.8L688.8 200.8L691.7 207.8L694.7 214.8L697.6 221.9L700.5 228.9L703.3 235.9L706.1 242.9L708.8 249.9L711.4 256.9L713.9 263.9L716.1 270.9L718.1 277.9L720 284.9L721.8 291.9L723.6 298.9L725.6 305.9L727.6 312.9L729.5 319.9L731.5 326.9L733.3 333.9L735 340.9L736.7 347.9L738.2 354.9L739.7 362L740.9 369L742 376L742.8 383L743.5 390L744.2 397L744.7 404L745.1 411L745.5 418L745.9 425" fill="none" stroke="#ec2027" stroke-width="12.5" stroke-linecap="round" stroke-linejoin="round"/>
<path d="M963.5 11.7L963.7 18.7L963.7 25.7L963.8 32.7L964.1 39.7L964.7 46.6L965.5 53.6L966.5 60.6L967.6 67.6L968.8 74.6L970.1 81.6L971.4 88.6L972.9 95.6L974.5 102.5L976.1 109.5L977.9 116.5L979.8 123.5L981.7 130.5L983.8 137.5L985.9 144.5L988.2 151.5L990.6 158.5L993.1 165.4L995.6 172.4L998.2 179.4L1000.8 186.4L1003.4 193.4L1006.2 200.4L1009 207.4L1011.8 214.4L1014.6 221.3L1017.3 228.3L1019.8 235.3L1022.4 242.3L1024.9 249.3L1027.3 256.3L1029.7 263.3L1032 270.3L1034.2 277.2L1036.3 284.2L1038.4 291.2L1040.4 298.2L1042.4 305.2L1044.3 312.2L1046.1 319.2L1047.7 326.2L1049 333.2L1050.1 340.1L1050.9 347.1L1051.5 354.1L1051.9 361.1L1052.3 368.1L1052.7 375.1L1053.1 382.1L1053.6 389.1L1054 396L1054.4 403L1054.8 410L1055.2 417L1055.6 424" fill="none" stroke="#2e4fa2" stroke-width="12.5" stroke-linecap="round" stroke-linejoin="round"/>
<path d="M461 993.1v6.3M452.6 993.1h16.8M452.6 999.4h16.8M460.1 989.2v4.5M450.7 989.2h18.7M450.7 993.8h18.7M459.1 984.5v4.4M449.8 984.5h18.5M449.8 988.9h18.5M459.3 978.3v7M451.1 978.3h16.3M451.1 985.4h16.3M459.3 973.5v7M449.2 973.5h20.1M449.2 980.5h20.1M461.8 969.3v5.6M452.2 969.3h19.1M452.2 974.9h19.1M462.6 963.1v8M453.6 963.1h18M453.6 971.2h18M462.2 960v4.3M452.1 960h20.3M452.1 964.3h20.3M464.2 954.6v5M455.9 954.6h16.6M455.9 959.6h16.6M466.8 947.2v9.7M458.4 947.2h16.9M458.4 956.9h16.9M468.7 942.7v8.5M459.7 942.7h17.9M459.7 951.2h17.9M470 939.6v4.4M461.9 939.6h16.3M461.9 944h16.3M473.3 932.2v8.8M464.2 932.2h18.1M464.2 941h18.1M476.3 927.3v8.1M467.2 927.3h18.3M467.2 935.4h18.3M479.1 921.3v9.6M469.4 921.3h19.5M469.4 930.9h19.5M484.1 916.8v8M474.8 916.8h18.6M474.8 924.8h18.6M487.6 910.9v9.1M478.9 910.9h17.4M478.9 920h17.4M490.2 907.6v4.8M481.2 907.6h18.1M481.2 912.4h18.1M491.3 902v5.1M482.1 902h18.4M482.1 907.1h18.4M496 894.7v8.7M486.1 894.7h19.8M486.1 903.4h19.8M499.4 888.4v10.1M490.6 888.4h17.6M490.6 898.6h17.6M501.6 883.8v8.2M492.2 883.8h18.9M492.2 892h18.9M504.6 877.3v9.9M494.2 877.3h20.7M494.2 887.2h20.7M508 872.2v8.6M499.8 872.2h16.3M499.8 880.9h16.3M510.9 866.6v8.5M500.4 866.6h21M500.4 875.1h21M512.7 862v6M503.7 862h17.9M503.7 868h17.9M513.1 857.1v4.2M503.9 857.1h18.3M503.9 861.3h18.3M516.5 850.9v4.8M508.4 850.9h16.3M508.4 855.7h16.3M517 844.9v4.9M508.4 844.9h17.2M508.4 849.8h17.2M518.8 836.3v10.1M510.6 836.3h16.4M510.6 846.4h16.4M521.5 831.4v7.8M511.3 831.4h20.4M511.3 839.2h20.4M521.9 824.1v10M513.2 824.1h17.4M513.2 834.2h17.4M525.3 819.7v6.5M515.1 819.7h20.4M515.1 826.3h20.4M525.1 814.2v5.1M516.7 814.2h16.9M516.7 819.3h16.9M528.4 807.7v5.6M519.2 807.7h18.4M519.2 813.3h18.4M530.4 801.2v5.8M522.4 801.2h16M522.4 807.1h16M534.5 794.5v6.6M525 794.5h18.8M525 801h18.8M535.9 786.9v8.8M526.6 786.9h18.6M526.6 795.7h18.6M538.9 780.4v8.7M530.8 780.4h16.3M530.8 789.1h16.3M540.6 773.4v9.5M530.4 773.4h20.4M530.4 782.9h20.4M540.4 768.2v6.7M531.4 768.2h18M531.4 774.9h18M542.1 760.6v8.4M533.9 760.6h16.3M533.9 769h16.3M544.9 755.3v5.5M536.5 755.3h16.8M536.5 760.8h16.8M546.4 749v4.4M538.4 749h16M538.4 753.4h16M548.4 741.9v4.7M539.5 741.9h17.8M539.5 746.6h17.8M551.2 732.2v10.1M541.7 732.2h19.1M541.7 742.3h19.1M554.3 727.4v5.8M545.5 727.4h17.7M545.5 733.1h17.7M558.6 720.7v4.9M548.4 720.7h20.2M548.4 725.5h20.2M558 712.3v7.3M548.8 712.3h18.4M548.8 719.5h18.4M560.6 706.3v4.7M551.8 706.3h17.7M551.8 711h17.7M561.9 696.4v9.8M553.5 696.4h16.8M553.5 706.2h16.8M564.2 688.5v10.7M554.8 688.5h18.6M554.8 699.2h18.6M567.1 682.5v7.8M559 682.5h16.1M559 690.3h16.1M569.2 673.4v10.8M559 673.4h20.3M559 684.2h20.3M569 668.2v5.8M560.1 668.2h17.8M560.1 674h17.8M572 658.7v9.4M562.7 658.7h18.7M562.7 668.1h18.7M573.2 652.4v6.3M564.7 652.4h17.1M564.7 658.7h17.1M574.2 642.2v10.9M564.1 642.2h20.3M564.1 653.1h20.3M573.4 634.8v9.7M563.6 634.8h19.7M563.6 644.5h19.7M573.6 627.7v7.6M564.7 627.7h17.8M564.7 635.4h17.8M575.1 621.3v4.2M566.4 621.3h17.4M566.4 625.5h17.4M576.4 610.7v8.8M566.1 610.7h20.8M566.1 619.5h20.8M470 914V988M461.5 914h17M461.5 988h17M488 896V998M479.5 896h17M479.5 998h17M495 896V998M486.5 896h17M486.5 998h17M528 810V879M519.5 810h17M519.5 879h17M558 657V707M549.5 657h17M549.5 707h17" fill="none" stroke="#39843f" stroke-width="2.6"/>
<path d="M460.5 996.3L460.5 991.5L460.5 986.7L460.5 981.9L460.4 977L460.4 972.1L461.2 967.1L462.9 962.1L464.8 957.1L466.6 952.1L468.5 946.9L470.9 941.8L473.8 936.6L476.9 931.4L479.9 926.1L483 920.8L486.2 915.4L489.5 910L492.7 904.5L495.8 899L498.8 893.5L501.7 887.9L504.7 882.3L507.4 876.6L509.9 870.8L512.2 865L514.1 859.2L515.7 853.3L517.3 847.3L519 841.3L520.5 835.3L522.2 829.2L523.9 823L525.9 816.8L528.2 810.5L530.6 804.1L533.1 797.7L535.5 791.3L537.7 784.8L539.7 778.2L541.5 771.5L543.4 764.8L545.3 758L547.5 751.2L549.8 744.3L552.3 737.3L554.7 730.2L557.1 723.1L559.2 715.9L561.3 708.6L563.3 701.3L565.2 693.9L567 686.4L568.6 678.8L570 671.1L571.2 663.4L572.3 655.6L573.3 647.6L574.2 639.6L575 631.6L575.8 623.4L576.6 615.1" fill="none" stroke="#39843f" stroke-width="12" stroke-linecap="round" stroke-linejoin="round"/>
<path d="M636.2 991v10.6M625.7 991h20.9M625.7 1001.5h20.9M634.7 988.2v6.6M626.2 988.2h17.1M626.2 994.8h17.1M636.6 984v5.4M628.1 984h17M628.1 989.4h17M637 976.7v10.3M626.9 976.7h20.2M626.9 987h20.2M636.9 972.7v8.6M626.9 972.7h20M626.9 981.3h20M640.1 967.8v8.6M629.9 967.8h20.5M629.9 976.4h20.5M639.5 962.5v9.3M630.3 962.5h18.4M630.3 971.8h18.4M642.6 957.4v9.5M633.8 957.4h17.7M633.8 966.9h17.7M642.8 951.7v10.8M633.8 951.7h18M633.8 962.5h18M643.4 946.7v10.6M633.6 946.7h19.6M633.6 957.4h19.6M647 944.5v4.9M638.6 944.5h16.8M638.6 949.4h16.8M648.2 937v9.6M639.8 937h16.7M639.8 946.6h16.7M648.3 931.2v10.9M638.7 931.2h19.3M638.7 942h19.3M649.2 927.4v7.8M640.9 927.4h16.7M640.9 935.3h16.7M652.9 920.7v10.8M643.2 920.7h19.2M643.2 931.5h19.2M656.3 915.5v10.5M647.2 915.5h18.2M647.2 926h18.2M657 910.5v9.8M648.5 910.5h17.1M648.5 920.3h17.1M660.6 907v6.1M652 907h17.2M652 913h17.2M661.9 901.6v5.8M652.8 901.6h18.1M652.8 907.4h18.1M665.4 893.9v10.4M656.5 893.9h17.8M656.5 904.2h17.8M667.9 889.4v8.1M657.6 889.4h20.5M657.6 897.5h20.5M670.9 882.7v10.4M661.6 882.7h18.5M661.6 893.1h18.5M673.2 878.4v7.7M665.2 878.4h16.1M665.2 886.1h16.1M676.9 873.9v5.3M668.9 873.9h16M668.9 879.2h16M679.3 868.2v5.2M670.1 868.2h18.4M670.1 873.4h18.4M681.2 861.1v7.9M672.4 861.1h17.6M672.4 869h17.6M682.6 855.2v7.9M672.6 855.2h19.9M672.6 863.1h19.9M685.7 849.3v7.9M677.1 849.3h17.2M677.1 857.2h17.2M689.3 842.6v9.4M680 842.6h18.5M680 852h18.5M691.7 836.7v9.3M681.4 836.7h20.6M681.4 846h20.6M694.7 831.1v8.3M685.5 831.1h18.5M685.5 839.4h18.5M697.7 824.7v8.8M688.5 824.7h18.3M688.5 833.6h18.3M701 819.3v7.3M690.6 819.3h20.7M690.6 826.7h20.7M702.4 811.7v10.1M692 811.7h20.7M692 821.8h20.7M706.8 806.5v7.9M696.4 806.5h20.7M696.4 814.4h20.7M708.2 801.7v5M699.9 801.7h16.6M699.9 806.6h16.6M709.7 795.5v4.5M701.1 795.5h17.2M701.1 800h17.2M714.6 786.9v8.7M704.6 786.9h19.9M704.6 795.6h19.9M716.1 782.2v5.1M706.3 782.2h19.6M706.3 787.3h19.6M719 775.7v5M708.8 775.7h20.4M708.8 780.7h20.4M719.1 768.8v5.5M708.7 768.8h20.8M708.7 774.3h20.8M722.1 761.1v7.4M711.7 761.1h20.9M711.7 768.5h20.9M722.9 755.5v5.1M713.9 755.5h18.2M713.9 760.6h18.2M724.2 748v6.4M715.7 748h17M715.7 754.4h17M726.8 739.7v9.1M718.8 739.7h16.1M718.8 748.8h16.1M728.1 733.7v7.1M720.1 733.7h16.1M720.1 740.8h16.1M729.2 726.1v8.4M719.9 726.1h18.6M719.9 734.4h18.6M733.7 717.7v10.9M723.8 717.7h19.9M723.8 728.6h19.9M732.6 713.5v4.7M724 713.5h17.3M724 718.3h17.3M734.6 703.9v9.5M725.9 703.9h17.4M725.9 713.4h17.4M738.2 697.8v7M727.9 697.8h20.6M727.9 704.8h20.6M740 691v5.8M731.6 691h16.7M731.6 696.8h16.7M738.8 682.4v8M729.1 682.4h19.5M729.1 690.4h19.5M741 676.6v4.4M731.3 676.6h19.4M731.3 681h19.4M742.6 668.9v4.5M732.2 668.9h20.7M732.2 673.4h20.7M744 658.6v9.6M735.8 658.6h16.4M735.8 668.2h16.4M743.5 653.3v4.5M733.3 653.3h20.3M733.3 657.8h20.3M745.5 644.5v6.4M736.1 644.5h18.8M736.1 650.8h18.8M744.8 636.7v5.9M736.5 636.7h16.6M736.5 642.6h16.6M744.1 628.7v5.7M735.8 628.7h16.5M735.8 634.4h16.5M744.9 621.2v4.4M736.4 621.2h17M736.4 625.6h17M745.3 612v6.1M735.4 612h19.8M735.4 618.2h19.8M727 537V725M718.5 537h17M718.5 725h17M745.4 555V684M736.9 555h17M736.9 684h17M732 631V700M723.5 631h17M723.5 700h17M685.6 840V908M677.1 840h17M677.1 908h17M652 896V927M643.5 896h17M643.5 927h17" fill="none" stroke="#ec2027" stroke-width="2.6"/>
<path d="M634.8 996.3L635.5 991.5L636.3 986.7L637.1 981.9L638.2 977L639.3 972.1L640.5 967.1L641.7 962.1L643.1 957.1L644.4 952.1L645.8 946.9L647.2 941.8L648.8 936.6L650.6 931.4L652.8 926.1L655.2 920.8L657.8 915.4L660.4 910L663 904.5L665.5 899L668.1 893.5L670.8 887.9L673.4 882.3L676 876.6L678.6 870.8L681.2 865L683.8 859.2L686.4 853.3L689.1 847.3L691.9 841.3L694.7 835.3L697.6 829.2L700.4 823L703.1 816.8L705.8 810.5L708.4 804.1L711 797.7L713.4 791.3L715.6 784.8L717.6 778.2L719.4 771.5L721.1 764.8L722.9 758L724.7 751.2L726.7 744.3L728.6 737.3L730.5 730.2L732.3 723.1L734 715.9L735.7 708.6L737.2 701.3L738.7 693.9L740.1 686.4L741.2 678.8L742.2 671.1L743 663.4L743.6 655.6L744.3 647.6L744.7 639.6L745.1 631.6L745.5 623.4L745.9 615.1" fill="none" stroke="#ec2027" stroke-width="12" stroke-linecap="round" stroke-linejoin="round"/>
<path d="M963 992.5v7.5M954.6 992.5h16.9M954.6 1000h16.9M962.2 989.4v4.1M953.6 989.4h17.3M953.6 993.6h17.3M962.8 982.2v9.1M953.4 982.2h18.8M953.4 991.3h18.8M962.6 978.2v7.3M952.3 978.2h20.7M952.3 985.6h20.7M964.1 972.2v9.7M955 972.2h18.2M955 981.9h18.2M964.6 967.2v9.8M955.6 967.2h18M955.6 977.1h18M964.9 962.8v8.8M954.4 962.8h20.9M954.4 971.6h20.9M966.7 957.3v9.8M956.9 957.3h19.5M956.9 967.1h19.5M965.9 953.8v6.8M957.1 953.8h17.7M957.1 960.6h17.7M969.1 949.7v4.9M960.9 949.7h16.4M960.9 954.6h16.4M968.4 944.2v5.8M960 944.2h16.8M960 950h16.8M971.4 937v9.9M961.3 937h20.4M961.3 946.9h20.4M971.7 933.8v6M963.1 933.8h17.2M963.1 939.7h17.2M973.6 927.9v7.2M965.2 927.9h16.8M965.2 935.1h16.8M976.8 923.3v5.8M966.4 923.3h20.8M966.4 929.2h20.8M978.4 917v7.8M969.8 917h17.2M969.8 924.9h17.2M977.3 912.5v6.2M968.4 912.5h17.8M968.4 918.7h17.8M980.6 906.9v6.7M971.4 906.9h18.4M971.4 913.6h18.4M981.1 902.1v5.4M971.8 902.1h18.5M971.8 907.5h18.5M984.3 896.4v5.8M976 896.4h16.4M976 902.2h16.4M986.1 891.6v4.3M978.1 891.6h16.1M978.1 895.9h16.1M989 885.4v5.6M979.6 885.4h18.9M979.6 891h18.9M991.9 877.9v9.3M982.3 877.9h19.3M982.3 887.2h19.3M993.2 871.8v10.2M984.2 871.8h17.9M984.2 882h17.9M996.8 865.7v10.9M988.4 865.7h16.7M988.4 876.6h16.7M999.6 861.1v8.5M991.5 861.1h16.2M991.5 869.6h16.2M1001.8 854.4v10.2M992.3 854.4h19.1M992.3 864.7h19.1M1003.8 848.8v9.7M995.4 848.8h16.7M995.4 858.5h16.7M1007.3 844v7.5M997.2 844h20.2M997.2 851.5h20.2M1010.3 836.9v9.8M1000.8 836.9h18.9M1000.8 846.6h18.9M1011 831.3v8.8M1001.3 831.3h19.5M1001.3 840.1h19.5M1014.1 827.5v4.2M1005.8 827.5h16.7M1005.8 831.7h16.7M1017.3 821.1v4.7M1007.2 821.1h20.2M1007.2 825.8h20.2M1020.2 813.1v8.4M1010.6 813.1h19.1M1010.6 821.5h19.1M1023 807.3v7.4M1015 807.3h16M1015 814.7h16M1024.6 800.1v9.2M1015.4 800.1h18.5M1015.4 809.3h18.5M1027.6 794v8.6M1019.4 794h16.3M1019.4 802.6h16.3M1028.5 789v5.8M1020.3 789h16.4M1020.3 794.7h16.4M1032.1 780.8v9.1M1023.6 780.8h17M1023.6 789.9h17M1033.2 773.4v10.8M1024 773.4h18.5M1024 784.2h18.5M1036.4 768.5v7.4M1026.7 768.5h19.4M1026.7 775.8h19.4M1036.4 761.3v8.3M1026.8 761.3h19.2M1026.8 769.6h19.2M1040.4 756.2v5M1031.8 756.2h17.3M1031.8 761.2h17.3M1040.2 748.8v6.1M1030.7 748.8h18.8M1030.7 755h18.8M1044 742.8v4.4M1035.3 742.8h17.3M1035.3 747.2h17.3M1044.6 733.6v8.8M1034.9 733.6h19.4M1034.9 742.5h19.4M1046.8 727.2v7.6M1037.6 727.2h18.3M1037.6 734.8h18.3M1047.4 721.5v4.8M1037.2 721.5h20.5M1037.2 726.3h20.5M1048.1 711.3v10.8M1037.7 711.3h20.7M1037.7 722.2h20.7M1051.9 705.9v7.2M1041.8 705.9h20.1M1041.8 713.1h20.1M1050.3 698.6v7.1M1041.6 698.6h17.3M1041.6 705.8h17.3M1051.9 689.5v10.6M1043.3 689.5h17.1M1043.3 700.1h17.1M1053.4 684.8v5M1044.1 684.8h18.6M1044.1 689.8h18.6M1052.4 677.3v4.9M1042.4 677.3h20.1M1042.4 682.2h20.1M1052 667v10.2M1042.2 667h19.5M1042.2 677.2h19.5M1051.8 659.3v10.3M1042.6 659.3h18.4M1042.6 669.6h18.4M1053.5 654.6v4M1044.3 654.6h18.5M1044.3 658.6h18.5M1053.6 645.7v6.1M1045.3 645.7h16.7M1045.3 651.8h16.7M1053 637.7v6.2M1042.9 637.7h20.2M1042.9 643.9h20.2M1053.7 628.1v9.3M1043.6 628.1h20.2M1043.6 637.3h20.2M1056.4 619.3v10.5M1046.6 619.3h19.6M1046.6 629.8h19.6M1055.3 613.3v6M1046.3 613.3h17.9M1046.3 619.4h17.9M1029.6 752V779M1021.1 752h17M1021.1 779h17M1040 707V734M1031.5 707h17M1031.5 734h17" fill="none" stroke="#2e4fa2" stroke-width="2.6"/>
<path d="M963.5 996.3L963.7 991.5L963.7 986.7L963.8 981.9L964.1 977L964.6 972.1L965.4 967.2L966.3 962.2L967.3 957.2L968.4 952.2L969.6 947.1L970.9 941.9L972.3 936.8L973.8 931.5L975.4 926.3L977 921L978.8 915.6L980.6 910.2L982.6 904.8L984.6 899.3L986.7 893.8L988.9 888.2L991.3 882.6L993.7 876.9L996.1 871.2L998.6 865.4L1001.1 859.5L1003.7 853.7L1006.4 847.7L1009.1 841.8L1011.8 835.7L1014.5 829.6L1017.1 823.5L1019.6 817.3L1022.1 811L1024.5 804.7L1026.9 798.3L1029.2 791.9L1031.4 785.4L1033.6 778.8L1035.6 772.2L1037.7 765.5L1039.7 758.7L1041.6 751.9L1043.5 745L1045.3 738.1L1046.9 731L1048.3 723.9L1049.5 716.8L1050.4 709.5L1051.1 702.2L1051.6 694.8L1052 687.3L1052.4 679.8L1052.8 672.1L1053.2 664.4L1053.7 656.6L1054.1 648.7L1054.5 640.8L1054.8 632.7L1055.2 624.6L1055.6 616.3" fill="none" stroke="#2e4fa2" stroke-width="12" stroke-linecap="round" stroke-linejoin="round"/>
<g fill="none" stroke="#231f20" stroke-width="3">
<path d="M440.5 1025.6V1.5H2487.7V1025.6Z"/>
<path d="M440.5 513.0H2487.7"/>
<path d="M2488.8999999999996 0.0V514.5" stroke-width="2"/>
</g>
<path d="M463.2 1025.6v-7M486.0 1025.6v-7M508.7 1025.6v-7M531.5 1025.6v-7M554.2 1025.6v-7M577.0 1025.6v-13M599.7 1025.6v-7M622.5 1025.6v-7M645.2 1025.6v-7M668.0 1025.6v-7M690.7 1025.6v-7M713.5 1025.6v-13M736.2 1025.6v-7M759.0 1025.6v-7M781.7 1025.6v-7M804.4 1025.6v-7M827.2 1025.6v-7M849.9 1025.6v-13M872.7 1025.6v-7M895.4 1025.6v-7M918.2 1025.6v-7M940.9 1025.6v-7M963.7 1025.6v-7M986.4 1025.6v-13M1009.2 1025.6v-7M1031.9 1025.6v-7M1054.7 1025.6v-7M1077.4 1025.6v-7M1100.2 1025.6v-7M1122.9 1025.6v-13M1145.6 1025.6v-7M1168.4 1025.6v-7M1191.1 1025.6v-7M1213.9 1025.6v-7M1236.6 1025.6v-7M1259.4 1025.6v-13M1282.1 1025.6v-7M1304.9 1025.6v-7M1327.6 1025.6v-7M1350.4 1025.6v-7M1373.1 1025.6v-7M1395.9 1025.6v-13M1418.6 1025.6v-7M1441.4 1025.6v-7M1464.1 1025.6v-7M1486.8 1025.6v-7M1509.6 1025.6v-7M1532.3 1025.6v-13M1555.1 1025.6v-7M1577.8 1025.6v-7M1600.6 1025.6v-7M1623.3 1025.6v-7M1646.1 1025.6v-7M1668.8 1025.6v-13M1691.6 1025.6v-7M1714.3 1025.6v-7M1737.1 1025.6v-7M1759.8 1025.6v-7M1782.6 1025.6v-7M1805.3 1025.6v-13M1828.0 1025.6v-7M1850.8 1025.6v-7M1873.5 1025.6v-7M1896.3 1025.6v-7M1919.0 1025.6v-7M1941.8 1025.6v-13M1964.5 1025.6v-7M1987.3 1025.6v-7M2010.0 1025.6v-7M2032.8 1025.6v-7M2055.5 1025.6v-7M2078.3 1025.6v-13M2101.0 1025.6v-7M2123.8 1025.6v-7M2146.5 1025.6v-7M2169.2 1025.6v-7M2192.0 1025.6v-7M2214.7 1025.6v-13M2237.5 1025.6v-7M2260.2 1025.6v-7M2283.0 1025.6v-7M2305.7 1025.6v-7M2328.5 1025.6v-7M2351.2 1025.6v-13M2374.0 1025.6v-7M2396.7 1025.6v-7M2419.5 1025.6v-7M2442.2 1025.6v-7M2465.0 1025.6v-7" stroke="#231f20" stroke-width="2.6" fill="none"/>
<path d="M440.5 980.3h7M440.5 921.6h7M440.5 862.9h13M440.5 804.2h7M440.5 745.5h7M440.5 686.8h7M440.5 628.1h13M440.5 569.4h7" stroke="#231f20" stroke-width="2.6" fill="none"/>
<path d="M440.5 470.5h7M440.5 427.5h7M440.5 384.5h13M440.5 341.5h7M440.5 298.5h7M440.5 255.5h7M440.5 212.5h13M440.5 169.5h7M440.5 126.5h7M440.5 83.5h7M440.5 40.5h13" stroke="#2d292b" stroke-width="2" fill="none"/>
<g font-family='"Liberation Serif", "DejaVu Serif", serif' fill="#231f20">
<text x="419.5" y="57.5" font-size="54" text-anchor="end">160</text>
<text x="419.5" y="229.5" font-size="54" text-anchor="end">140</text>
<text x="419.5" y="401.5" font-size="54" text-anchor="end">120</text>
<text x="419.5" y="645.1" font-size="54" text-anchor="end">1.6</text>
<text x="419.5" y="879.9" font-size="54" text-anchor="end">1.5</text>
<text transform="translate(475.5 1066) rotate(-45)" font-size="55.5" text-anchor="end">01:15:00</text>
<text transform="translate(611.5 1066) rotate(-45)" font-size="55.5" text-anchor="end">01:16:00</text>
<text transform="translate(747.5 1066) rotate(-45)" font-size="55.5" text-anchor="end">01:17:00</text>
<text transform="translate(883.5 1066) rotate(-45)" font-size="55.5" text-anchor="end">01:18:00</text>
<text transform="translate(1019.5 1066) rotate(-45)" font-size="55.5" text-anchor="end">01:19:00</text>
<text transform="translate(1155.5 1066) rotate(-45)" font-size="55.5" text-anchor="end">01:20:00</text>
<text transform="translate(1291.5 1066) rotate(-45)" font-size="55.5" text-anchor="end">01:21:00</text>
<text transform="translate(1427.5 1066) rotate(-45)" font-size="55.5" text-anchor="end">01:22:00</text>
<text transform="translate(1563.5 1066) rotate(-45)" font-size="55.5" text-anchor="end">01:23:00</text>
<text transform="translate(1699.5 1066) rotate(-45)" font-size="55.5" text-anchor="end">01:24:00</text>
<text transform="translate(1835.5 1066) rotate(-45)" font-size="55.5" text-anchor="end">01:25:00</text>
<text transform="translate(1971.5 1066) rotate(-45)" font-size="55.5" text-anchor="end">01:26:00</text>
<text transform="translate(2107.5 1066) rotate(-45)" font-size="55.5" text-anchor="end">01:27:00</text>
<text transform="translate(2243.5 1066) rotate(-45)" font-size="55.5" text-anchor="end">01:28:00</text>
<text transform="translate(2379.5 1066) rotate(-45)" font-size="55.5" text-anchor="end">01:29:00</text>
<text transform="translate(311.5 257) rotate(-90)" font-size="55.5" text-anchor="middle">Frequency / MHz</text>
<text transform="translate(311.5 770) rotate(-90)" font-size="55.5" text-anchor="middle">Radial distance / <tspan font-style="italic">R</tspan><tspan font-size="38" dy="9">s</tspan></text>
<text x="1464" y="1268" font-size="55.5" text-anchor="middle">Observation time (UT)</text>
<text x="2401.5" y="67" font-size="55.5" text-anchor="middle" fill="#fff">(a)</text>
<text x="2402.5" y="573.5" font-size="55.5" text-anchor="middle">(b)</text>
<text x="1598" y="627" font-size="55.5" fill="#39843f"><tspan font-style="italic">v</tspan><tspan font-size="36.5" dy="8.5" dx="-2">begining</tspan><tspan dy="-8.5" dx="5">=</tspan><tspan dx="6.5">(1966.91±29) km·s</tspan><tspan font-size="36.5" dy="-20" dx="0.5">−1</tspan></text>
<text x="1598" y="753" font-size="55.5" fill="#ec2027"><tspan font-style="italic">v</tspan><tspan font-size="36.5" dy="8.5" dx="-2">peak</tspan><tspan dy="-8.5" dx="5">=</tspan><tspan dx="6.5">(1818.64±25) km·s</tspan><tspan font-size="36.5" dy="-20" dx="0.5">−1</tspan></text>
<text x="1598" y="877.5" font-size="55.5" fill="#2e4fa2"><tspan font-style="italic">v</tspan><tspan font-size="36.5" dy="8.5" dx="-2">ending</tspan><tspan dy="-8.5" dx="5">=</tspan><tspan dx="6.5">(2223.45±43) km·s</tspan><tspan font-size="36.5" dy="-20" dx="0.5">−1</tspan></text>
</g>
</svg>
</body></html>
